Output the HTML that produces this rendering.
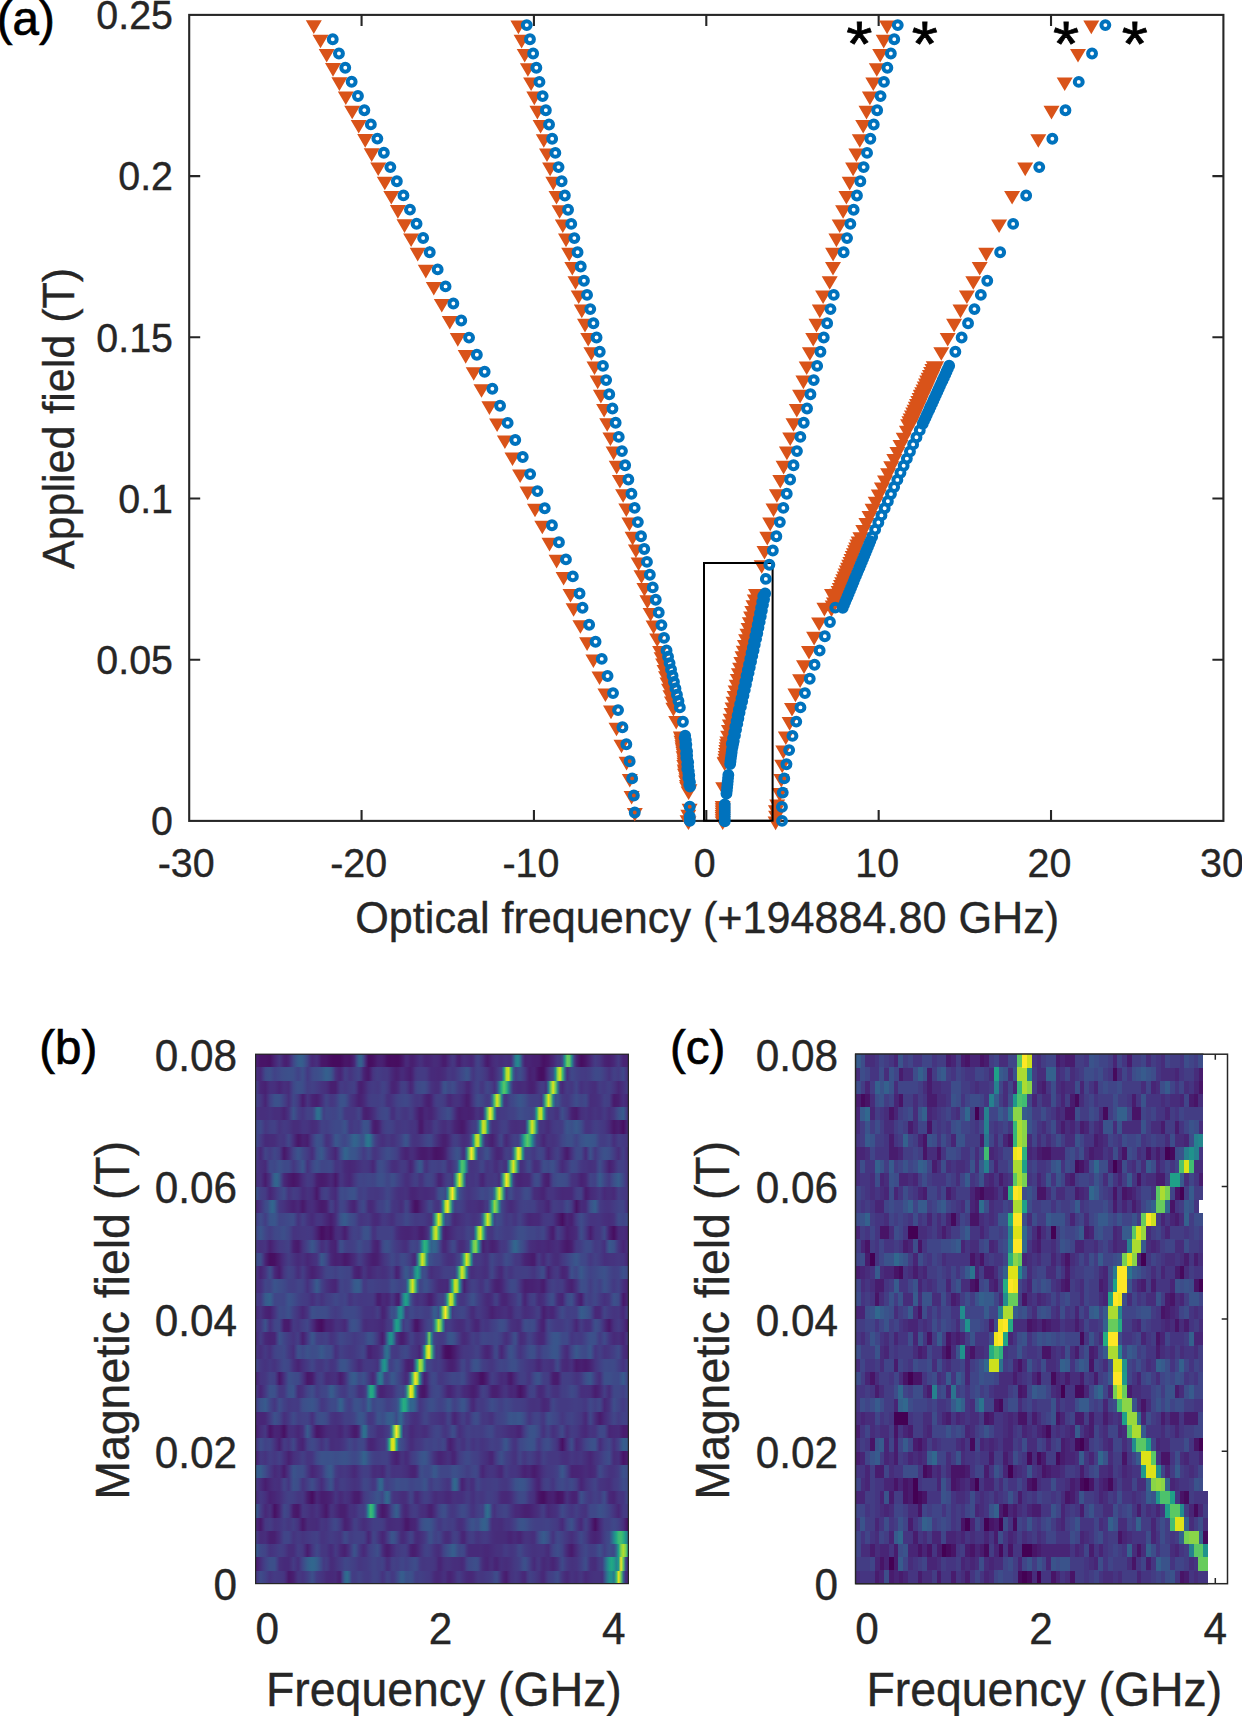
<!DOCTYPE html>
<html><head><meta charset="utf-8"><title>Figure</title>
<style>
html,body{margin:0;padding:0;background:#fff}
#fig{position:relative;width:1242px;height:1716px;overflow:hidden;background:#fff}
#fig svg{position:absolute;left:0;top:0}
.r{position:absolute;left:255.6px;width:372.8px}
</style></head><body>
<div id="fig">
<div class="r" style="top:1054.2px;height:13.54px;background:linear-gradient(90deg,#482173,#481b6d,#481467,#481467,#481467,#471365,#471164,#481b6d,#482576,#472e7c,#453781,#472d7b,#482173,#481f70,#482576,#453581,#404688,#3a538b,#365c8d,#355f8d,#365c8d,#3b518b,#414487,#46337f,#482878,#472c7a,#472f7d,#482576,#48186a,#481668,#481668,#471164,#470d60,#460b5e,#460b5e,#460b5e,#460b5e,#471063,#481668,#481668,#481467,#481b6d,#482677,#3f4788,#34618d,#34618d,#3e4989,#482878,#471063,#470e61,#471164,#48186a,#482071,#482173,#482071,#481a6c,#471063,#470d60,#470e61,#470e61,#470d60,#470e61,#481467,#481d6f,#482979,#482979,#482071,#481f70,#482475,#472a7a,#46307e,#472e7c,#482677,#482475,#482576,#482878,#472c7a,#472c7a,#482979,#482475,#481c6e,#481d6f,#482878,#46307e,#453781,#46337f,#482374,#481f70,#472a7a,#472f7d,#472d7b,#472a7a,#482677,#472d7b,#433d84,#414287,#443a83,#46307e,#482173,#481a6c,#482173,#482979,#472e7c,#46307e,#472d7b,#472d7b,#46307e,#46327e,#472f7d,#472f7d,#3c508b,#287d8e,#23898e,#2f6c8e,#443a83,#482374,#482475,#482475,#482173,#482071,#482071,#481f70,#481769,#471164,#481467,#48186a,#482071,#482677,#46307e,#443983,#453882,#3d4d8a,#1f958b,#67cc5c,#58c765,#23888e,#424186,#482475,#481769,#470d60,#471164,#481769,#482071,#482878,#46337f,#443b84,#453882,#463480,#472c7a,#482374,#482071,#481f70,#482374,#482878,#46327e,#443b84,#472f7d,#482475,#482374,#482173)"></div>
<div class="r" style="top:1067.44px;height:13.54px;background:linear-gradient(90deg,#472f7d,#472c7a,#482979,#443983,#3e4989,#3d4d8a,#3c4f8a,#3f4889,#414287,#404588,#3f4889,#3e4c8a,#3d4e8a,#3c4f8a,#3c508b,#3c4f8a,#3d4e8a,#3f4889,#414287,#3f4889,#3c4f8a,#404588,#443983,#423f85,#3f4889,#3e4c8a,#3d4d8a,#3c508b,#3a538b,#375a8c,#34608d,#365d8d,#38588c,#3f4788,#46327e,#482979,#482576,#472f7d,#433e85,#443b84,#463480,#453781,#433d84,#424086,#414487,#453882,#482576,#481c6e,#48186a,#482374,#463480,#443a83,#433d84,#443b84,#443983,#453882,#453882,#46327e,#472a7a,#482475,#482071,#482374,#472a7a,#472a7a,#482576,#482173,#481d6f,#482576,#463480,#443a83,#443b84,#443b84,#443b84,#453882,#472f7d,#472a7a,#472a7a,#482979,#482878,#482979,#472c7a,#472f7d,#453781,#453882,#453581,#453781,#433d84,#414287,#3f4889,#3d4d8a,#3a538b,#3c4f8a,#433e85,#453781,#423f85,#414287,#424086,#433d84,#453882,#46327e,#482878,#482576,#472c7a,#463480,#433e85,#3f4889,#1f998a,#aadc32,#d0e11c,#2eb37c,#355e8d,#424186,#3e4989,#3d4d8a,#414487,#443983,#482979,#481f70,#482374,#482475,#481a6c,#471164,#470e61,#471063,#482173,#46337f,#414287,#3d4d8a,#228d8d,#93d741,#dae319,#42be71,#30698e,#472f7d,#433e85,#3f4889,#404588,#424186,#423f85,#443b84,#443b84,#443a83,#433d84,#423f85,#404588,#3e4989,#3e4989,#3f4889,#414487,#433e85,#453882,#46327e,#443983,#424086,#433e85,#443b84,#424186,#3f4889,#443b84,#472f7d)"></div>
<div class="r" style="top:1080.68px;height:13.54px;background:linear-gradient(90deg,#423f85,#46337f,#482677,#482475,#482173,#482979,#46307e,#46307e,#472f7d,#472a7a,#482576,#472a7a,#472f7d,#472e7c,#472c7a,#443983,#3f4788,#3d4d8a,#3c508b,#3c4f8a,#3d4d8a,#404588,#433d84,#433e85,#424186,#423f85,#443b84,#453882,#463480,#46327e,#472f7d,#482878,#481f70,#481f70,#481f70,#472c7a,#443a83,#443b84,#453882,#443a83,#433d84,#433e85,#424086,#463480,#482173,#481f70,#482475,#472c7a,#453581,#443983,#443b84,#443a83,#453882,#443b84,#414287,#424186,#443b84,#46327e,#482576,#482374,#482677,#472f7d,#433d84,#423f85,#433d84,#46337f,#482677,#472d7b,#424086,#3f4889,#3e4a89,#3e4c8a,#3e4c8a,#404688,#443b84,#46337f,#472f7d,#472d7b,#472e7c,#443983,#3d4d8a,#3b528b,#3e4989,#3f4788,#3e4c8a,#3f4889,#433e85,#453882,#453781,#46327e,#482878,#482677,#46307e,#443983,#424186,#414287,#453882,#453781,#424186,#3f4788,#414287,#443b84,#46307e,#404588,#287c8e,#2ab07f,#58c765,#32b67a,#25838e,#3d4d8a,#46307e,#472d7b,#472a7a,#472a7a,#472c7a,#472c7a,#482677,#482173,#482071,#482374,#472d7b,#453781,#443b84,#443b84,#46307e,#29798e,#67cc5c,#e2e418,#6ccd5a,#297b8e,#46327e,#482979,#463480,#443b84,#443983,#453781,#423f85,#404588,#443983,#46307e,#463480,#453781,#463480,#46307e,#472e7c,#472d7b,#453581,#433d84,#443a83,#443983,#433d84,#423f85,#443a83,#463480,#472d7b,#482576,#472c7a,#46327e,#453781,#443b84)"></div>
<div class="r" style="top:1093.92px;height:13.54px;background:linear-gradient(90deg,#424186,#433d84,#453781,#472e7c,#482475,#46327e,#424086,#3f4889,#3b518b,#3b518b,#3c508b,#3e4989,#424086,#453882,#472e7c,#443a83,#3f4788,#414287,#443a83,#472c7a,#481c6e,#482677,#463480,#472e7c,#482475,#482173,#481f70,#482576,#472e7c,#443983,#414487,#423f85,#453781,#453882,#433d84,#404688,#3b518b,#3b528b,#3b518b,#3f4788,#443a83,#46337f,#472e7c,#482677,#482071,#482374,#482878,#46307e,#443a83,#433e85,#423f85,#423f85,#433e85,#424086,#414287,#433d84,#46327e,#46307e,#463480,#443a83,#424086,#414487,#404588,#3f4788,#3f4889,#404688,#424186,#443b84,#453781,#453581,#453781,#46327e,#482878,#482173,#481f70,#482677,#453581,#433e85,#423f85,#423f85,#433d84,#453781,#472c7a,#482878,#472e7c,#46327e,#46327e,#46307e,#472a7a,#482475,#481c6e,#481f70,#472d7b,#443a83,#404688,#3e4c8a,#3f4889,#414487,#433d84,#443a83,#433e85,#2d708e,#52c569,#dfe318,#81d34d,#25858e,#443983,#453581,#423f85,#404688,#3e4989,#3d4e8a,#3a538b,#39568c,#3b528b,#3d4e8a,#404688,#424086,#423f85,#423f85,#423f85,#433e85,#453581,#2c728e,#58c765,#dfe318,#7cd250,#26828e,#3c4f8a,#3b518b,#404588,#443a83,#453882,#453781,#443b84,#424186,#3f4889,#3d4d8a,#3f4889,#414487,#3f4788,#3e4989,#443a83,#472d7b,#472e7c,#472e7c,#46307e,#46337f,#443a83,#424186,#423f85,#433e85,#472c7a,#481a6c,#481c6e,#481f70,#482878,#46307e,#472a7a,#482475)"></div>
<div class="r" style="top:1107.16px;height:13.54px;background:linear-gradient(90deg,#453581,#46337f,#472f7d,#472f7d,#472f7d,#46307e,#46337f,#46307e,#472e7c,#472e7c,#472e7c,#482979,#482374,#472a7a,#46337f,#414487,#3a538b,#3e4a89,#433e85,#443983,#453581,#443b84,#424186,#424186,#424186,#3c508b,#2e6e8e,#2d718e,#38588c,#423f85,#3f4788,#3f4788,#404588,#414487,#404588,#3e4989,#3c4f8a,#3f4788,#443a83,#453882,#453882,#453882,#453882,#433d84,#414487,#453882,#482374,#481f70,#482173,#482677,#472d7b,#463480,#433e85,#414487,#3f4788,#3f4889,#3e4989,#424086,#46307e,#46307e,#443b84,#433e85,#443a83,#453781,#453581,#453882,#433e85,#443a83,#472f7d,#482576,#481c6e,#481d6f,#482677,#482878,#482475,#482576,#472c7a,#46337f,#443b84,#424186,#404588,#3f4889,#3d4e8a,#3e4a89,#433e85,#46307e,#482374,#481d6f,#482071,#482173,#482173,#482071,#482173,#482576,#472f7d,#46327e,#472a7a,#472e7c,#2a768e,#6ccd5a,#fde725,#95d840,#23888e,#443a83,#443a83,#443b84,#443b84,#433d84,#424086,#424186,#424186,#414487,#3e4a89,#3d4e8a,#3e4c8a,#3e4989,#3f4889,#3f4788,#414487,#3b528b,#21a585,#c0df25,#c2df23,#22a785,#3a538b,#443a83,#443a83,#443983,#46337f,#46327e,#414287,#3d4e8a,#404588,#433d84,#472e7c,#482173,#481d6f,#481b6d,#482677,#472f7d,#46327e,#463480,#46307e,#472e7c,#46327e,#463480,#46327e,#46307e,#453581,#443a83,#463480,#472e7c,#46337f,#453882,#414487,#3c4f8a,#39558c,#365c8d,#3f4788,#46307e)"></div>
<div class="r" style="top:1120.4px;height:13.54px;background:linear-gradient(90deg,#404588,#3f4788,#3e4989,#424086,#453781,#443a83,#423f85,#424086,#424186,#443a83,#46337f,#453781,#443a83,#443983,#453781,#46327e,#472d7b,#472d7b,#472d7b,#46307e,#453581,#453581,#463480,#46307e,#472c7a,#472d7b,#472f7d,#453882,#424186,#424186,#423f85,#424186,#404588,#3f4788,#3e4989,#3e4989,#3e4989,#3d4e8a,#3a538b,#3f4889,#443983,#453882,#433d84,#433d84,#443b84,#404588,#3b518b,#3b528b,#3c4f8a,#443b84,#482173,#481b6d,#481f70,#482979,#453882,#423f85,#414287,#414287,#424186,#433d84,#453781,#453781,#453882,#443983,#443a83,#453882,#453581,#463480,#453581,#472c7a,#481a6c,#481a6c,#482878,#472d7b,#472c7a,#46307e,#443a83,#433d84,#453781,#46327e,#472e7c,#472e7c,#463480,#46337f,#472c7a,#482475,#482071,#481c6e,#48186a,#481c6e,#482677,#46307e,#453882,#433d84,#423f85,#365d8d,#2cb17e,#d0e11c,#addc30,#1e9b8a,#3e4989,#46327e,#46327e,#46337f,#443983,#433e85,#424086,#423f85,#453781,#472f7d,#472e7c,#472d7b,#472e7c,#472f7d,#472f7d,#472e7c,#2c718e,#58c765,#dfe318,#7cd250,#26828e,#453781,#463480,#463480,#472e7c,#472c7a,#46337f,#443983,#443b84,#433d84,#443b84,#433e85,#3e4c8a,#39558c,#3b528b,#3c4f8a,#39558c,#38598c,#3a538b,#3d4d8a,#424086,#463480,#463480,#453581,#443b84,#423f85,#433e85,#443b84,#443983,#453781,#46307e,#482979,#481f70,#481668,#481b6d,#481f70,#481769,#470e61,#481d6f,#472c7a)"></div>
<div class="r" style="top:1133.64px;height:13.54px;background:linear-gradient(90deg,#3e4989,#414287,#443b84,#46337f,#472a7a,#472a7a,#472c7a,#472c7a,#472d7b,#46327e,#453781,#453781,#453581,#433e85,#3f4788,#443b84,#472e7c,#482173,#481668,#481a6c,#482173,#482071,#481d6f,#472c7a,#443a83,#3f4788,#3b518b,#3c508b,#3d4d8a,#424086,#46327e,#46337f,#443983,#3f4788,#39568c,#3a548c,#3d4e8a,#3e4989,#404688,#3e4c8a,#3a538b,#365d8d,#32658e,#33628d,#375b8d,#3b528b,#39558c,#2e6f8e,#2a788e,#2e6d8e,#3b528b,#424186,#453882,#46337f,#472f7d,#46327e,#453781,#453781,#46327e,#46337f,#453882,#433d84,#414287,#3e4c8a,#3a548c,#3d4e8a,#433d84,#463480,#46337f,#463480,#453781,#443b84,#424186,#404588,#3f4889,#404588,#443a83,#46327e,#472a7a,#482475,#481f70,#481f70,#482576,#472f7d,#443a83,#423f85,#433d84,#453781,#472f7d,#472d7b,#472f7d,#463480,#3e4c8a,#1f9e89,#b2dd2d,#cde11d,#28ae80,#375a8c,#46327e,#472c7a,#482374,#481f70,#482878,#46327e,#424186,#404588,#46327e,#482878,#46307e,#453882,#423f85,#424186,#433e85,#39568c,#23888e,#32b67a,#58c765,#38b977,#218e8d,#365c8d,#433d84,#453781,#472d7b,#482576,#472e7c,#463480,#46337f,#46327e,#463480,#453882,#423f85,#404688,#3e4a89,#3c4f8a,#3c4f8a,#3c4f8a,#3f4788,#414287,#3e4a89,#3b518b,#3a548c,#38588c,#38588c,#39568c,#39558c,#3a538b,#3f4889,#433e85,#433d84,#433d84,#424086,#414487,#443983,#472e7c,#453581,#433d84,#443b84,#443983,#453781,#463480)"></div>
<div class="r" style="top:1146.88px;height:13.54px;background:linear-gradient(90deg,#433d84,#46337f,#482878,#453581,#414487,#424086,#443b84,#424186,#3f4788,#414287,#433d84,#472a7a,#481769,#482071,#472a7a,#453781,#414487,#3e4c8a,#3a548c,#3c4f8a,#3f4788,#424186,#443b84,#463480,#472d7b,#443b84,#3d4e8a,#3a548c,#38598c,#3c508b,#414487,#443a83,#46337f,#472d7b,#482576,#463480,#3f4889,#39568c,#32648e,#34618d,#38588c,#39558c,#39558c,#3b518b,#3e4a89,#414487,#443b84,#424086,#3e4989,#414487,#453781,#463480,#453882,#433e85,#414487,#3f4889,#3d4d8a,#3e4c8a,#3f4889,#404588,#424186,#443983,#472e7c,#482878,#482374,#482576,#472d7b,#472d7b,#482878,#482173,#481c6e,#481a6c,#481a6c,#481c6e,#482071,#481d6f,#481668,#471365,#481467,#481668,#481a6c,#482374,#46327e,#433d84,#404688,#3d4d8a,#3a538b,#3d4e8a,#443983,#472f7d,#2b748e,#65cb5e,#fde725,#9bd93c,#238a8d,#423f85,#423f85,#414487,#3d4e8a,#3c508b,#414487,#453781,#472d7b,#482576,#482677,#472a7a,#453781,#423f85,#433e85,#443a83,#306a8e,#4cc26c,#f6e620,#b5de2b,#1f968b,#414487,#414287,#414287,#443b84,#443983,#424186,#404688,#404588,#424086,#46307e,#482677,#472f7d,#453781,#433d84,#424086,#453781,#472d7b,#482173,#481a6c,#482677,#46337f,#424086,#3e4989,#3e4a89,#3e4989,#453882,#472a7a,#424086,#3b528b,#414487,#453781,#424086,#3f4889,#3d4e8a,#3b528b,#3c508b,#3d4d8a,#404588,#433d84,#463480,#472d7b,#453781,#423f85,#453581,#472c7a)"></div>
<div class="r" style="top:1160.12px;height:13.54px;background:linear-gradient(90deg,#453781,#46337f,#472f7d,#472d7b,#482979,#443a83,#3e4989,#3e4989,#3f4788,#3e4c8a,#3b518b,#3d4e8a,#3e4989,#3e4989,#3e4989,#424086,#453781,#433d84,#404588,#3d4d8a,#39568c,#404688,#46327e,#443983,#404588,#3e4c8a,#3b518b,#3d4d8a,#404688,#404688,#3f4788,#3f4889,#3e4989,#424186,#453581,#453581,#453882,#46327e,#472a7a,#482878,#482677,#482878,#482979,#472d7b,#46307e,#463480,#453781,#453781,#453581,#472f7d,#482677,#46337f,#3f4788,#3d4d8a,#3e4c8a,#3f4788,#424086,#443983,#46307e,#472e7c,#472f7d,#463480,#443a83,#443a83,#453882,#472f7d,#482475,#472c7a,#423f85,#3d4e8a,#375a8c,#3b518b,#453882,#46327e,#433e85,#414287,#414287,#424186,#423f85,#424086,#404688,#424186,#46337f,#472f7d,#453781,#424086,#3d4e8a,#20928c,#50c46a,#38b977,#297b8e,#453882,#463480,#453581,#453781,#443a83,#414487,#404588,#443983,#463480,#443983,#453882,#472f7d,#472d7b,#453781,#443a83,#46337f,#46327e,#297b8e,#69cd5b,#e2e418,#69cd5b,#297a8e,#46307e,#46327e,#443a83,#404688,#3e4a89,#443a83,#472e7c,#472e7c,#46337f,#414287,#3d4e8a,#3e4c8a,#3e4989,#3d4e8a,#3c508b,#3f4788,#433e85,#46327e,#472a7a,#46307e,#453781,#424186,#3e4989,#3f4889,#404688,#433e85,#453882,#453581,#463480,#46327e,#46307e,#46327e,#46337f,#414287,#3d4e8a,#414287,#453781,#472c7a,#482071,#482576,#472c7a,#453781,#424086,#424086,#424086,#443a83,#46337f)"></div>
<div class="r" style="top:1173.36px;height:13.54px;background:linear-gradient(90deg,#46327e,#46327e,#46327e,#482677,#481b6d,#482878,#46337f,#3c4f8a,#33638d,#31668e,#38598c,#423f85,#482979,#482374,#481c6e,#48186a,#481467,#48186a,#481c6e,#482576,#472e7c,#463480,#443a83,#443983,#453781,#472d7b,#482071,#481c6e,#481b6d,#481c6e,#481f70,#482475,#482979,#482374,#48186a,#482475,#453581,#463480,#472d7b,#482979,#482677,#472d7b,#453781,#433e85,#404588,#404588,#414487,#404588,#3f4788,#404688,#414487,#3f4788,#3d4e8a,#3c508b,#3c508b,#3e4c8a,#404688,#3f4788,#3d4e8a,#3d4d8a,#404688,#424086,#443b84,#453581,#472f7d,#472f7d,#463480,#443a83,#423f85,#433d84,#46337f,#463480,#423f85,#404588,#404688,#414487,#433e85,#46337f,#482475,#482374,#472f7d,#443983,#423f85,#423f85,#453781,#2a768e,#60ca60,#e2e418,#73d056,#277e8e,#463480,#453781,#453581,#453581,#443983,#453581,#482878,#482475,#46307e,#453781,#453781,#453781,#443983,#453781,#472d7b,#2f6c8e,#52c569,#f8e621,#b0dd2f,#20928c,#424186,#472c7a,#482677,#482475,#482677,#482878,#482878,#472c7a,#443b84,#3f4889,#3e4c8a,#3e4989,#453781,#482677,#482071,#481f70,#463480,#404688,#3e4a89,#3d4e8a,#3d4e8a,#3d4d8a,#3e4c8a,#3e4989,#433e85,#46337f,#46327e,#46307e,#482979,#482173,#482475,#482878,#453781,#414487,#414287,#424186,#3c508b,#365c8d,#3b518b,#404688,#423f85,#443983,#404588,#3c4f8a,#39568c,#365d8d,#3b528b,#3f4889,#443b84,#472f7d)"></div>
<div class="r" style="top:1186.6px;height:13.54px;background:linear-gradient(90deg,#3b528b,#3e4989,#424086,#433e85,#443b84,#46307e,#482576,#472c7a,#46337f,#443b84,#414287,#3f4788,#3e4c8a,#424086,#46337f,#453781,#433d84,#443b84,#443983,#46327e,#472a7a,#472d7b,#46327e,#46307e,#472d7b,#482374,#481769,#482677,#443983,#423f85,#424186,#443b84,#46327e,#472e7c,#472a7a,#453882,#3e4989,#3e4c8a,#3e4989,#3e4c8a,#3c508b,#3b518b,#3b528b,#3e4a89,#423f85,#423f85,#414287,#424086,#443a83,#453882,#453882,#453781,#453781,#443983,#443b84,#424086,#404688,#414487,#433e85,#453882,#46337f,#46307e,#472f7d,#46307e,#46327e,#472e7c,#482677,#482475,#482576,#482878,#472c7a,#472c7a,#472a7a,#472a7a,#472c7a,#472e7c,#472f7d,#443a83,#3e4a89,#3b518b,#3c508b,#3e4a89,#23888e,#98d83e,#fde725,#69cd5b,#2b758e,#3d4e8a,#404588,#433d84,#453882,#453581,#453882,#443b84,#433e85,#414287,#3f4889,#3e4a89,#404688,#3f4788,#3d4e8a,#3d4e8a,#2a788e,#65cb5e,#e2e418,#6ece58,#287c8e,#453781,#404588,#3e4c8a,#424186,#443a83,#443b84,#433e85,#404688,#3e4c8a,#3e4c8a,#3f4889,#443983,#472d7b,#472c7a,#482979,#482576,#482475,#472d7b,#463480,#463480,#463480,#46307e,#472d7b,#472a7a,#482878,#482979,#482979,#482979,#472a7a,#453581,#433e85,#424186,#424186,#472d7b,#481b6d,#482173,#482979,#472d7b,#472f7d,#463480,#453882,#46307e,#482979,#472c7a,#472d7b,#472c7a,#482979,#46337f,#433e85,#443b84,#443983,#453781,#463480)"></div>
<div class="r" style="top:1199.84px;height:13.54px;background:linear-gradient(90deg,#482475,#472d7b,#463480,#423f85,#3e4989,#3d4e8a,#355e8d,#31678e,#355e8d,#3f4788,#453882,#453581,#46327e,#472d7b,#482878,#482475,#482173,#482576,#482979,#482173,#48186a,#482071,#472a7a,#472d7b,#472e7c,#482979,#482374,#481d6f,#481a6c,#481b6d,#481f70,#472f7d,#424186,#443b84,#472e7c,#453781,#404588,#404588,#424186,#453882,#472d7b,#482677,#482374,#472e7c,#433e85,#404588,#3e4989,#433e85,#472d7b,#482979,#472c7a,#463480,#433e85,#414287,#414287,#3f4788,#3d4e8a,#3f4889,#443a83,#453581,#453581,#46327e,#472d7b,#463480,#414487,#423f85,#472d7b,#481d6f,#471164,#471365,#481f70,#482979,#46327e,#443b84,#3f4788,#404688,#443a83,#463480,#463480,#414287,#1f948c,#b2dd2d,#f6e620,#4ec36b,#2f6b8e,#423f85,#414287,#414287,#423f85,#443a83,#46337f,#472f7d,#46307e,#46307e,#472f7d,#472d7b,#472a7a,#472d7b,#453781,#443983,#34618d,#28ae80,#95d840,#56c667,#277e8e,#404688,#433d84,#463480,#472e7c,#472a7a,#472e7c,#46337f,#443983,#423f85,#424186,#414287,#424186,#424086,#424186,#424086,#453882,#46327e,#46327e,#472f7d,#482878,#482576,#46337f,#433d84,#433d84,#443b84,#443983,#443983,#414287,#3e4a89,#414487,#443a83,#482576,#471365,#482071,#472c7a,#472a7a,#472c7a,#423f85,#3c508b,#38588c,#355e8d,#3d4d8a,#443b84,#453882,#453581,#463480,#463480,#453882,#443b84,#423f85,#414287,#414487,#414487,#443983,#472d7b)"></div>
<div class="r" style="top:1213.08px;height:13.54px;background:linear-gradient(90deg,#433d84,#404588,#3e4c8a,#404588,#433d84,#3f4889,#3a548c,#39558c,#39568c,#3d4e8a,#414487,#404588,#404688,#3f4889,#3e4a89,#3e4c8a,#3e4c8a,#424086,#46327e,#453882,#424186,#443b84,#46337f,#472e7c,#472a7a,#472f7d,#453581,#453581,#463480,#472e7c,#482878,#482374,#481d6f,#482475,#472d7b,#433e85,#3c508b,#38588c,#365c8d,#39568c,#3c4f8a,#3e4c8a,#3e4989,#424186,#453781,#463480,#453781,#453882,#443a83,#463480,#472c7a,#482979,#472a7a,#46307e,#453882,#443983,#453781,#46337f,#472f7d,#46337f,#443b84,#433e85,#433e85,#414287,#3f4889,#3f4788,#424186,#433e85,#443a83,#443a83,#443b84,#443b84,#443983,#453581,#46327e,#46327e,#2f6c8e,#48c16e,#dde318,#8bd646,#23898e,#3e4c8a,#3e4c8a,#414287,#472f7d,#482878,#472c7a,#472f7d,#46337f,#453581,#443983,#443983,#453581,#46337f,#463480,#453882,#424086,#2d718e,#54c568,#dfe318,#81d34d,#25848e,#414287,#3e4c8a,#3e4a89,#404688,#433d84,#453882,#443b84,#433d84,#453781,#453581,#433e85,#424186,#443983,#46327e,#472a7a,#482677,#482878,#482979,#482979,#472a7a,#46327e,#453882,#443983,#443a83,#443983,#453581,#472a7a,#482071,#481668,#470e61,#481b6d,#482576,#482173,#482071,#472e7c,#443b84,#404588,#3e4c8a,#404688,#423f85,#443983,#463480,#463480,#463480,#453581,#453581,#46327e,#472f7d,#472e7c,#472d7b,#472f7d,#46327e,#423f85,#3e4a89,#3f4889,#404588,#3f4788,#3e4989)"></div>
<div class="r" style="top:1226.32px;height:13.54px;background:linear-gradient(90deg,#404688,#3d4e8a,#39558c,#3d4e8a,#404688,#424186,#433d84,#424186,#3f4788,#3f4889,#3e4989,#3d4d8a,#3c4f8a,#3e4a89,#404688,#433e85,#463480,#463480,#453581,#453781,#453882,#453882,#443983,#453882,#453581,#472d7b,#482374,#48186a,#470e61,#471164,#48186a,#481769,#471164,#481c6e,#472a7a,#472e7c,#472e7c,#482677,#481d6f,#482878,#453781,#433e85,#414287,#424186,#423f85,#404688,#3c508b,#3b528b,#3b518b,#404588,#46337f,#463480,#423f85,#424186,#424186,#424186,#424186,#424186,#414287,#443b84,#46307e,#472a7a,#482677,#482576,#482475,#482475,#482576,#482878,#472a7a,#482677,#481f70,#481d6f,#482374,#472c7a,#433d84,#238a8d,#8ed645,#dde318,#48c16e,#2f6b8e,#482878,#482071,#482475,#482979,#472e7c,#46337f,#453781,#453882,#453781,#443a83,#424186,#414487,#423f85,#424186,#21908d,#98d83e,#dae319,#3dbc74,#31668e,#443b84,#453781,#453781,#424086,#404588,#414287,#424186,#433e85,#433d84,#433d84,#433e85,#414287,#3f4788,#3e4c8a,#3d4e8a,#3d4e8a,#3e4c8a,#3f4889,#404688,#404688,#404688,#414287,#424186,#404588,#404688,#443a83,#472e7c,#482173,#481c6e,#472f7d,#433e85,#443983,#46327e,#482878,#481f70,#482374,#482576,#482878,#472d7b,#423f85,#3d4d8a,#414487,#443983,#472a7a,#481d6f,#482979,#46337f,#453581,#453781,#424186,#3e4989,#453581,#482173,#481769,#470d60,#481c6e,#472a7a,#472c7a,#472d7b,#482979,#482475)"></div>
<div class="r" style="top:1239.56px;height:13.54px;background:linear-gradient(90deg,#453781,#463480,#46327e,#46337f,#463480,#472a7a,#482071,#482677,#472e7c,#463480,#443a83,#443b84,#433d84,#423f85,#424086,#46327e,#482173,#481c6e,#481a6c,#482576,#46337f,#443b84,#414487,#3d4d8a,#39568c,#3c4f8a,#404588,#443a83,#472f7d,#46327e,#443983,#46307e,#482576,#482374,#482173,#453581,#3d4d8a,#3e4c8a,#414287,#423f85,#433e85,#423f85,#424186,#404688,#3d4d8a,#3e4a89,#414487,#414287,#414287,#443983,#482979,#482374,#482173,#46307e,#404588,#3d4e8a,#3b518b,#3d4d8a,#404688,#424086,#443b84,#453882,#463480,#46307e,#472e7c,#453581,#414287,#404688,#414487,#424186,#3a538b,#228c8d,#2eb37c,#24aa83,#297a8e,#34608d,#31678e,#33628d,#3b518b,#443b84,#482878,#482878,#46337f,#433e85,#3f4889,#404688,#453581,#472c7a,#472c7a,#472f7d,#443983,#424086,#238a8d,#69cd5b,#8bd646,#20a386,#39558c,#481f70,#482878,#472c7a,#482475,#482071,#482374,#482878,#46337f,#443983,#453882,#443b84,#3f4788,#3a538b,#34618d,#31678e,#365d8d,#3b528b,#3e4c8a,#414487,#443983,#472f7d,#472d7b,#472c7a,#482979,#482878,#472a7a,#472a7a,#482878,#482576,#482878,#472a7a,#472d7b,#472e7c,#482878,#482173,#481c6e,#48186a,#481b6d,#482071,#472e7c,#443983,#443b84,#423f85,#404588,#3e4a89,#3e4a89,#3e4989,#424186,#443a83,#443b84,#433d84,#453581,#46307e,#404688,#38598c,#3a548c,#3b518b,#414287,#463480,#472d7b,#482576,#472a7a,#472f7d)"></div>
<div class="r" style="top:1252.8px;height:13.54px;background:linear-gradient(90deg,#3e4989,#3d4d8a,#3c4f8a,#443a83,#482475,#48186a,#470d60,#470e61,#471063,#48186a,#481f70,#482878,#46307e,#453781,#433d84,#453882,#46337f,#472e7c,#472a7a,#472d7b,#46307e,#472c7a,#482677,#482979,#472d7b,#46307e,#46337f,#404588,#38588c,#3b528b,#3f4889,#443983,#482979,#482374,#482071,#482173,#482374,#481f70,#48186a,#481b6d,#482071,#482677,#472c7a,#463480,#433e85,#443b84,#463480,#472d7b,#482677,#482173,#481d6f,#481d6f,#482071,#482878,#46307e,#453781,#443b84,#424186,#3f4889,#404688,#423f85,#424186,#3e4989,#3e4a89,#3f4788,#424186,#443a83,#472e7c,#482878,#2f6b8e,#48c16e,#dde318,#8ed645,#238a8d,#3c508b,#3c4f8a,#3e4989,#404688,#404588,#424186,#443983,#463480,#46307e,#472f7d,#46307e,#453581,#423f85,#414487,#306a8e,#44bf70,#dde318,#90d743,#228c8d,#433e85,#453882,#443a83,#453882,#463480,#472f7d,#46337f,#424186,#3f4788,#424186,#433d84,#443a83,#433d84,#404688,#3e4c8a,#3e4989,#404588,#433e85,#453882,#453882,#453581,#472c7a,#482475,#482173,#481f70,#481b6d,#481c6e,#472f7d,#443a83,#472f7d,#482979,#463480,#443b84,#463480,#472e7c,#472c7a,#472c7a,#46327e,#453882,#433d84,#414287,#3f4889,#3d4d8a,#3a538b,#39568c,#3c508b,#3e4989,#3f4889,#404688,#433e85,#453882,#433d84,#424186,#433e85,#443a83,#453581,#472f7d,#46307e,#46327e,#46337f,#46337f,#453581,#453781,#453581,#453581,#472e7c,#482576)"></div>
<div class="r" style="top:1266.04px;height:13.54px;background:linear-gradient(90deg,#463480,#472c7a,#482374,#472c7a,#463480,#414287,#3c4f8a,#433e85,#482979,#482173,#481b6d,#482878,#453781,#433e85,#414487,#424186,#433e85,#453581,#472d7b,#463480,#433e85,#453581,#472c7a,#482576,#482071,#482374,#482878,#472e7c,#463480,#433d84,#414487,#404588,#404588,#414487,#424086,#414487,#3f4889,#3f4788,#404588,#414487,#414487,#453882,#482677,#482173,#481f70,#482878,#453581,#46327e,#482878,#482878,#472d7b,#472f7d,#46337f,#46327e,#472f7d,#46307e,#46337f,#443983,#423f85,#453581,#482173,#482677,#433d84,#3e4c8a,#38588c,#3a548c,#3f4788,#39568c,#228d8d,#20a486,#25858e,#3d4d8a,#3d4e8a,#404688,#463480,#472e7c,#46327e,#463480,#453581,#443983,#433e85,#424086,#424086,#424086,#424186,#423f85,#2e6d8e,#4cc26c,#dde318,#89d548,#24878e,#443b84,#472e7c,#472f7d,#46337f,#463480,#46337f,#46307e,#472e7c,#46327e,#424086,#404688,#443b84,#46327e,#472a7a,#482979,#453781,#433e85,#453882,#453581,#443a83,#433e85,#433e85,#433e85,#423f85,#423f85,#433e85,#443b84,#453781,#453581,#433d84,#414287,#3e4a89,#3e4a89,#46337f,#482173,#472c7a,#463480,#453882,#443983,#472d7b,#482475,#482576,#472a7a,#424086,#3c508b,#3e4989,#404688,#3c508b,#38598c,#3b528b,#3e4c8a,#3f4788,#414287,#404588,#3f4788,#3e4a89,#3d4d8a,#3c4f8a,#3b518b,#3e4c8a,#404688,#414287,#423f85,#424086,#414287,#3e4989,#3c508b,#3e4c8a,#3f4788)"></div>
<div class="r" style="top:1279.28px;height:13.54px;background:linear-gradient(90deg,#472f7d,#472f7d,#46307e,#443a83,#404588,#414487,#414487,#3e4c8a,#3a548c,#3b518b,#3d4e8a,#3e4c8a,#3e4989,#404588,#424086,#423f85,#433e85,#424086,#414487,#414487,#414287,#443a83,#46307e,#443983,#414287,#3c4f8a,#375b8d,#3b518b,#414287,#443a83,#46337f,#472e7c,#482979,#482677,#482576,#46327e,#414287,#414487,#424086,#424186,#414487,#3d4d8a,#38598c,#365c8d,#365d8d,#3c508b,#443b84,#443a83,#424186,#414287,#414287,#424086,#423f85,#433e85,#433d84,#433d84,#433d84,#414287,#3e4c8a,#3e4c8a,#3f4889,#404588,#414287,#404588,#3e4a89,#25848e,#81d34d,#dfe318,#52c569,#2d708e,#414487,#3f4889,#3c508b,#3c508b,#3f4889,#424186,#443983,#46327e,#472c7a,#482979,#472a7a,#472a7a,#482878,#365c8d,#2ab07f,#cde11d,#b0dd2f,#1e9c89,#3e4a89,#481f70,#472d7b,#453781,#423f85,#424186,#433e85,#443983,#46337f,#453581,#424086,#414287,#453781,#472d7b,#482475,#482071,#482173,#482677,#46307e,#443a83,#414287,#3e4989,#3e4989,#3f4788,#433e85,#46337f,#482878,#481f70,#482071,#482173,#482173,#482374,#482576,#482677,#481f70,#481c6e,#472a7a,#453781,#433d84,#424186,#433e85,#443b84,#433d84,#443b84,#46327e,#482878,#482374,#482071,#482979,#46337f,#424186,#3d4e8a,#3d4d8a,#3e4c8a,#414487,#433d84,#414487,#3e4989,#404588,#424086,#3e4989,#3b518b,#3e4c8a,#404688,#423f85,#443983,#433e85,#414287,#443983,#472f7d,#482979,#482475)"></div>
<div class="r" style="top:1292.52px;height:13.54px;background:linear-gradient(90deg,#443a83,#443983,#453882,#3e4989,#375a8c,#355e8d,#33628d,#3a548c,#404688,#404688,#404688,#404688,#404588,#3d4d8a,#3a548c,#3b518b,#3d4d8a,#3f4889,#414287,#423f85,#433d84,#443b84,#443a83,#453581,#472f7d,#463480,#443b84,#443983,#46337f,#453781,#433d84,#423f85,#424086,#414487,#3f4889,#404688,#414287,#414287,#404588,#433e85,#463480,#453781,#433d84,#443b84,#443983,#453882,#443983,#443983,#443a83,#443a83,#443a83,#472f7d,#481d6f,#481d6f,#482878,#482878,#482475,#472a7a,#453781,#46307e,#482071,#481c6e,#3e4c8a,#25848e,#20a386,#218e8d,#38588c,#424086,#463480,#46307e,#463480,#46337f,#472e7c,#482878,#481f70,#482173,#472c7a,#453581,#423f85,#424186,#424086,#355f8d,#31b57b,#d2e21b,#a8db34,#1f978b,#3f4788,#453781,#453581,#453781,#433e85,#404688,#3d4e8a,#3c508b,#3f4788,#423f85,#443983,#46337f,#472d7b,#482979,#472a7a,#46307e,#433d84,#423f85,#46307e,#482677,#482475,#482576,#472d7b,#46327e,#453781,#443b84,#404588,#404688,#472f7d,#482374,#46307e,#443b84,#423f85,#424086,#46337f,#472a7a,#472d7b,#46307e,#443b84,#404588,#3e4c8a,#3d4d8a,#443b84,#472c7a,#482677,#482576,#443983,#3e4989,#3d4e8a,#3c508b,#424086,#46307e,#482475,#481d6f,#46337f,#404588,#424186,#423f85,#414487,#3f4788,#424186,#443a83,#453581,#46307e,#46337f,#453781,#404588,#3b518b,#3d4e8a,#3e4a89,#46327e,#48186a,#482071,#482878)"></div>
<div class="r" style="top:1305.76px;height:13.54px;background:linear-gradient(90deg,#472a7a,#472f7d,#463480,#472c7a,#482475,#482173,#482071,#472a7a,#463480,#424086,#3e4a89,#3e4a89,#3f4889,#3d4d8a,#3b518b,#3e4989,#424086,#443a83,#463480,#472d7b,#482677,#472d7b,#463480,#414287,#3c508b,#3c4f8a,#3e4c8a,#3e4c8a,#3d4d8a,#3e4c8a,#3e4c8a,#3f4788,#424186,#433e85,#443b84,#433e85,#424086,#404588,#3e4989,#3e4989,#3e4989,#3e4989,#3e4989,#404688,#414287,#433d84,#453781,#453581,#453581,#453581,#463480,#453882,#433e85,#463480,#482374,#482576,#46327e,#424186,#3b518b,#3d4d8a,#375b8d,#238a8d,#1f958b,#2c718e,#443b84,#423f85,#3f4889,#3f4889,#414287,#424186,#414487,#414287,#423f85,#433e85,#423f85,#3e4a89,#365c8d,#365c8d,#3e4c8a,#25838e,#8bd646,#fde725,#75d054,#297a8e,#443a83,#424086,#414287,#404588,#3f4788,#404588,#433e85,#453781,#472d7b,#472c7a,#453581,#443a83,#453882,#463480,#46307e,#472c7a,#482475,#482071,#482576,#482979,#472a7a,#472d7b,#472f7d,#472f7d,#482979,#482878,#46327e,#443983,#443b84,#443a83,#46327e,#472d7b,#472e7c,#46307e,#46337f,#453781,#433d84,#433d84,#472a7a,#481d6f,#482576,#472a7a,#482677,#482677,#46307e,#443a83,#414487,#3e4a89,#414487,#433e85,#423f85,#424086,#423f85,#424086,#3c508b,#365c8d,#375a8c,#39568c,#3b518b,#3e4a89,#443983,#482878,#482878,#482979,#453882,#414487,#433e85,#443983,#453781,#463480,#453581,#453781,#472f7d,#482979,#463480,#433e85)"></div>
<div class="r" style="top:1319px;height:13.54px;background:linear-gradient(90deg,#46337f,#453581,#453882,#404588,#3b528b,#424186,#472f7d,#443983,#414487,#404688,#3f4788,#46337f,#481c6e,#481b6d,#481b6d,#472a7a,#443983,#453882,#453581,#443a83,#423f85,#414287,#404688,#443b84,#472f7d,#482374,#481668,#471063,#470d60,#481668,#482173,#482374,#482374,#482878,#46307e,#46327e,#46307e,#472d7b,#482878,#453581,#3e4989,#3c508b,#3b518b,#3d4e8a,#3f4889,#433d84,#472f7d,#472c7a,#472e7c,#472f7d,#472f7d,#472e7c,#472d7b,#472a7a,#482878,#472d7b,#453781,#443a83,#433e85,#2a778e,#1fa188,#1f988b,#31668e,#443b84,#404588,#414487,#443a83,#472a7a,#481668,#481467,#482173,#472d7b,#453882,#424086,#404688,#404588,#31678e,#37b878,#bade28,#6ece58,#25838e,#443983,#443b84,#443b84,#453581,#46307e,#472d7b,#472c7a,#472d7b,#46307e,#443983,#443a83,#46327e,#472a7a,#482475,#482677,#46337f,#443983,#453581,#453581,#443a83,#423f85,#414287,#404688,#3e4c8a,#3d4e8a,#3e4c8a,#404688,#443a83,#46327e,#472f7d,#472e7c,#472c7a,#472f7d,#424186,#3d4d8a,#3e4c8a,#3e4a89,#3e4c8a,#3e4989,#443b84,#472e7c,#482475,#482173,#453781,#404688,#414287,#433e85,#443b84,#443a83,#443a83,#443b84,#423f85,#414287,#433e85,#443983,#472e7c,#482576,#46327e,#433d84,#453581,#472f7d,#46307e,#46337f,#414287,#3c4f8a,#3e4c8a,#404688,#443983,#472c7a,#482071,#481769,#482576,#46327e,#453781,#443b84,#453581,#472e7c,#482576,#481b6d)"></div>
<div class="r" style="top:1332.24px;height:13.54px;background:linear-gradient(90deg,#472a7a,#46337f,#433d84,#46337f,#482878,#482576,#482374,#482475,#482576,#433d84,#3b528b,#3d4d8a,#404588,#424086,#443b84,#453882,#463480,#443983,#433e85,#472f7d,#481f70,#472a7a,#443983,#3f4889,#39568c,#3d4e8a,#424086,#433e85,#433d84,#423f85,#424186,#443b84,#46337f,#453581,#443a83,#424186,#3f4889,#3f4788,#414487,#424186,#424086,#433d84,#443983,#443b84,#433e85,#424086,#414287,#3e4989,#3b518b,#3b518b,#3d4d8a,#414287,#453781,#482979,#481c6e,#472e7c,#33638d,#218f8d,#20928c,#2f6b8e,#453581,#482677,#481c6e,#481f70,#482878,#46337f,#424086,#424086,#453581,#46327e,#463480,#443983,#424086,#2e6d8e,#75d054,#25838e,#404588,#423f85,#443b84,#443a83,#443b84,#414287,#3c508b,#39568c,#3a548c,#3d4e8a,#414287,#453882,#472d7b,#482979,#472d7b,#46337f,#443b84,#423f85,#443a83,#443a83,#414287,#3f4788,#404688,#404588,#414487,#414487,#404688,#404688,#414287,#433d84,#46337f,#472e7c,#463480,#433d84,#3e4a89,#3d4e8a,#443a83,#472c7a,#472d7b,#46327e,#433d84,#414287,#433d84,#453581,#472e7c,#482878,#482878,#472a7a,#443983,#404688,#3d4e8a,#3a548c,#39558c,#39558c,#3c4f8a,#3e4989,#3e4989,#3e4989,#433e85,#453581,#443983,#443b84,#443a83,#443983,#423f85,#404588,#3e4c8a,#3b518b,#3c508b,#3c4f8a,#414487,#443a83,#414287,#3e4a89,#424086,#453581,#472f7d,#482979,#472c7a,#472e7c,#482979,#482475,#472e7c,#453882)"></div>
<div class="r" style="top:1345.48px;height:13.54px;background:linear-gradient(90deg,#453581,#46327e,#472e7c,#463480,#443983,#463480,#472f7d,#443983,#414287,#404588,#404688,#3f4788,#3e4989,#424186,#443983,#463480,#472e7c,#423f85,#3c508b,#3d4d8a,#3f4889,#3d4d8a,#3b528b,#3c4f8a,#3e4c8a,#3d4d8a,#3d4e8a,#3a538b,#38598c,#3a548c,#3d4e8a,#3d4d8a,#3e4c8a,#424086,#46307e,#453581,#424086,#423f85,#443b84,#443983,#453781,#453882,#443983,#433d84,#424086,#414487,#404688,#443983,#482374,#482173,#482878,#472a7a,#472d7b,#463480,#433e85,#32648e,#2c738e,#355f8d,#443b84,#443a83,#443983,#433d84,#414487,#3f4788,#3e4989,#404588,#443b84,#453581,#46337f,#472e7c,#482576,#414487,#1f968b,#b5de2b,#f6e620,#4cc26c,#30698e,#453781,#443a83,#46327e,#481d6f,#471063,#470d60,#470e61,#481668,#481d6f,#482677,#472e7c,#463480,#453882,#453882,#443983,#443a83,#433d84,#424186,#424086,#453781,#472e7c,#482677,#482475,#482979,#463480,#404588,#3f4889,#46327e,#482677,#46327e,#433e85,#3e4c8a,#3b528b,#3d4d8a,#404588,#443a83,#463480,#443a83,#424086,#3f4889,#3d4e8a,#3c4f8a,#3d4d8a,#424186,#443a83,#414287,#3f4889,#3e4989,#3e4c8a,#3b518b,#39558c,#39558c,#3a538b,#404588,#453882,#472f7d,#472a7a,#443983,#404688,#3c508b,#38588c,#3b528b,#3e4c8a,#3e4a89,#3e4989,#3b518b,#39568c,#404688,#453581,#443a83,#423f85,#443983,#46337f,#463480,#453781,#443b84,#423f85,#404588,#3e4a89,#433d84,#472e7c,#472a7a,#482677)"></div>
<div class="r" style="top:1358.72px;height:13.54px;background:linear-gradient(90deg,#404588,#433e85,#453882,#453581,#46337f,#453581,#443983,#453581,#46337f,#453882,#433e85,#404588,#3e4a89,#3f4889,#404688,#443b84,#46307e,#482979,#482374,#482979,#46307e,#453581,#443a83,#424086,#404688,#424086,#453882,#453781,#453781,#443b84,#424086,#443b84,#463480,#453581,#443983,#414487,#3b518b,#3a538b,#3a538b,#3d4e8a,#404688,#423f85,#453882,#46327e,#472a7a,#472e7c,#453781,#443983,#443983,#443983,#453882,#453581,#46327e,#3a538b,#25858e,#1f978b,#2a788e,#414287,#424186,#3f4889,#3c4f8a,#3e4c8a,#414287,#453581,#482576,#481f70,#482071,#482173,#355f8d,#2ab07f,#b2dd2d,#81d34d,#228c8d,#404588,#404588,#424186,#443b84,#443a83,#433d84,#443a83,#46337f,#472c7a,#482475,#482071,#482071,#482475,#472d7b,#453781,#414487,#404588,#443a83,#443983,#3f4788,#3c508b,#3a538b,#3c508b,#3f4788,#423f85,#433d84,#443a83,#453781,#453781,#443b84,#424086,#414487,#404688,#414487,#404588,#3e4a89,#3d4e8a,#3c4f8a,#3d4e8a,#3f4788,#424186,#423f85,#443b84,#453882,#453581,#453581,#46327e,#472a7a,#482677,#472e7c,#453581,#463480,#46337f,#46307e,#46327e,#424186,#3e4a89,#443a83,#472c7a,#482979,#482878,#472e7c,#46307e,#482475,#481a6c,#481d6f,#482071,#481d6f,#481b6d,#481f70,#482475,#472c7a,#463480,#443a83,#424086,#404588,#3e4a89,#3e4a89,#3e4989,#3e4a89,#3e4a89,#404588,#423f85,#443983,#46337f,#443983,#423f85)"></div>
<div class="r" style="top:1371.96px;height:13.54px;background:linear-gradient(90deg,#482475,#472c7a,#463480,#453581,#453781,#433d84,#414487,#414287,#424186,#472d7b,#481668,#482173,#46307e,#424086,#3c508b,#3c4f8a,#3e4c8a,#3e4a89,#3e4a89,#424086,#463480,#482677,#481769,#48186a,#481b6d,#482979,#443983,#433e85,#424086,#453882,#472d7b,#472c7a,#472e7c,#472f7d,#46307e,#482878,#481c6e,#482374,#472e7c,#423f85,#3b518b,#38598c,#365c8d,#39558c,#3e4a89,#3e4c8a,#3b518b,#3e4989,#433d84,#46327e,#482878,#453882,#32658e,#277e8e,#2e6f8e,#404588,#414287,#3e4a89,#38588c,#39568c,#3d4d8a,#404588,#433d84,#46337f,#472a7a,#46327e,#2f6b8e,#4ec36b,#f6e620,#b2dd2d,#1f948c,#414287,#482173,#482878,#443b84,#404688,#3e4989,#404588,#443a83,#453781,#443983,#433d84,#424086,#414487,#3f4788,#3f4788,#404588,#404688,#3e4c8a,#3e4989,#433d84,#46337f,#472c7a,#482677,#482173,#481c6e,#471164,#471063,#481a6c,#482576,#453581,#433e85,#443a83,#453581,#472e7c,#472a7a,#472d7b,#472a7a,#481d6f,#48186a,#482475,#472e7c,#453882,#423f85,#423f85,#433e85,#453781,#463480,#424086,#3e4a89,#3b518b,#3b528b,#3f4788,#433e85,#433e85,#443b84,#472c7a,#481d6f,#481b6d,#481c6e,#472e7c,#433e85,#433e85,#423f85,#433e85,#443b84,#453781,#46337f,#453581,#443a83,#404588,#3d4e8a,#3a538b,#39568c,#3e4989,#443b84,#46337f,#472d7b,#423f85,#3c4f8a,#3c4f8a,#3c4f8a,#3d4d8a,#3e4a89,#3e4a89,#3e4989,#3b528b,#375b8d,#3c508b,#414487)"></div>
<div class="r" style="top:1385.2px;height:13.54px;background:linear-gradient(90deg,#453882,#472e7c,#482576,#472f7d,#443983,#404688,#3b528b,#3b518b,#3c508b,#414487,#453781,#453781,#453882,#404588,#3b528b,#3a538b,#3a548c,#414287,#472d7b,#472e7c,#46327e,#443b84,#414487,#3e4989,#3d4e8a,#404688,#443b84,#423f85,#414487,#404588,#404688,#3c508b,#365d8d,#38598c,#3d4e8a,#404688,#433e85,#443b84,#443a83,#424186,#3e4a89,#3e4989,#404688,#433d84,#46327e,#46307e,#463480,#424086,#277e8e,#25ac82,#21a585,#2d708e,#463480,#482374,#482374,#482677,#472c7a,#472e7c,#46307e,#453882,#414287,#3f4889,#3e4a89,#404688,#32648e,#3fbc73,#f1e51d,#c2df23,#1e9c89,#3f4889,#481f70,#481668,#481668,#482173,#453781,#414287,#3f4788,#3f4889,#3f4889,#414287,#443983,#472f7d,#482576,#482475,#472a7a,#46307e,#453882,#453882,#46307e,#472a7a,#482878,#482475,#481f70,#481d6f,#482173,#472a7a,#443983,#424186,#433e85,#453882,#472a7a,#482071,#481f70,#482071,#482677,#472d7b,#46337f,#463480,#472c7a,#482677,#482878,#482576,#481a6c,#471365,#481b6d,#482475,#463480,#424086,#414287,#424186,#46337f,#482979,#472a7a,#472e7c,#443983,#423f85,#443983,#46337f,#46327e,#46327e,#443983,#433e85,#423f85,#424186,#404688,#3e4a89,#3f4788,#414287,#453882,#472f7d,#472f7d,#46307e,#472f7d,#472e7c,#482576,#481d6f,#482173,#482878,#46337f,#433e85,#463480,#472c7a,#443a83,#3f4788,#3f4788,#3f4788,#414487,#424186,#404688,#3e4a89)"></div>
<div class="r" style="top:1398.44px;height:13.54px;background:linear-gradient(90deg,#433d84,#3f4889,#3a538b,#39568c,#375b8d,#3b518b,#404688,#433e85,#453781,#424186,#3d4e8a,#3f4889,#424086,#433d84,#453882,#443a83,#443b84,#443b84,#443a83,#414487,#3d4e8a,#3c508b,#3b528b,#3a538b,#39558c,#3b518b,#3e4c8a,#414287,#453882,#443983,#433e85,#414487,#3e4989,#3e4a89,#3e4989,#3a548c,#33638d,#375b8d,#3e4a89,#414287,#433e85,#404588,#3c508b,#3b528b,#3b518b,#3e4c8a,#404588,#3e4c8a,#33638d,#375a8c,#3f4788,#3e4a89,#3d4e8a,#3d4e8a,#3e4c8a,#3f4788,#424086,#424086,#414487,#3f4889,#3e4c8a,#355e8d,#218e8d,#27ad81,#23a983,#26828e,#32648e,#31668e,#365d8d,#3e4989,#453781,#443b84,#424186,#3f4788,#3d4d8a,#3c4f8a,#3d4d8a,#3f4889,#414487,#414287,#404588,#3e4a89,#3a538b,#3b528b,#404688,#424186,#404688,#3d4d8a,#3a548c,#3a548c,#3e4989,#433d84,#472d7b,#482878,#463480,#443b84,#443a83,#443a83,#433e85,#414287,#3e4989,#3d4d8a,#3e4989,#404688,#424186,#424086,#404588,#3f4889,#404688,#414487,#424086,#433e85,#433e85,#433e85,#433d84,#443b84,#453781,#46337f,#46327e,#46327e,#46337f,#46337f,#472c7a,#482677,#482878,#472c7a,#433d84,#3f4788,#424186,#433d84,#443a83,#443a83,#443a83,#443a83,#443b84,#433d84,#433e85,#433e85,#433d84,#433d84,#443983,#453882,#424186,#3f4889,#414487,#423f85,#414487,#3f4788,#453781,#482677,#472c7a,#46327e,#424086,#3d4e8a,#3f4889,#414487,#423f85,#443b84,#423f85,#414487)"></div>
<div class="r" style="top:1411.68px;height:13.54px;background:linear-gradient(90deg,#482576,#482677,#482677,#482677,#482878,#46327e,#443b84,#404688,#3b518b,#3e4c8a,#3f4788,#443b84,#472f7d,#46337f,#443983,#414287,#3e4a89,#404588,#433e85,#423f85,#424186,#424186,#414287,#443a83,#472f7d,#443b84,#3e4989,#3d4d8a,#3c4f8a,#3d4d8a,#3e4a89,#424186,#453581,#46327e,#46307e,#46327e,#463480,#443983,#423f85,#423f85,#423f85,#424186,#414487,#3d4d8a,#39568c,#39568c,#3a538b,#3f4889,#443983,#453781,#443983,#414487,#3b528b,#3a538b,#3d4d8a,#3b518b,#375b8d,#355e8d,#355f8d,#38588c,#3e4989,#355e8d,#30698e,#3b518b,#424186,#433e85,#453581,#46307e,#472e7c,#46307e,#453581,#433d84,#414487,#414487,#433d84,#453882,#453781,#453581,#46337f,#46307e,#472f7d,#453581,#414287,#423f85,#472c7a,#482475,#472d7b,#463480,#433d84,#433e85,#463480,#463480,#424086,#3e4989,#3d4d8a,#3e4a89,#433e85,#453781,#453882,#453781,#46327e,#46327e,#443b84,#424186,#414287,#414487,#404688,#3e4a89,#3b528b,#39558c,#3a538b,#3a538b,#39568c,#39568c,#3c508b,#3f4889,#433d84,#453581,#433d84,#414287,#414487,#414287,#443a83,#453781,#404588,#3c4f8a,#3e4c8a,#3f4889,#404688,#414287,#443b84,#453781,#443b84,#424086,#414287,#414487,#424086,#433d84,#443a83,#453882,#472e7c,#482878,#443a83,#3f4889,#443a83,#472d7b,#482374,#481a6c,#482173,#472a7a,#46307e,#453781,#423f85,#404688,#424186,#443b84,#423f85,#414287,#424186,#424086)"></div>
<div class="r" style="top:1424.92px;height:13.54px;background:linear-gradient(90deg,#481d6f,#482677,#472e7c,#46337f,#453882,#482677,#481467,#481c6e,#482576,#482475,#482374,#481a6c,#471063,#481f70,#472f7d,#46307e,#46307e,#472c7a,#482677,#472c7a,#46307e,#404688,#375b8d,#3d4d8a,#453882,#482677,#481668,#48186a,#481d6f,#482374,#482979,#472c7a,#472d7b,#472d7b,#472d7b,#482979,#482576,#472a7a,#46337f,#46307e,#482979,#482173,#481a6c,#481b6d,#482979,#3a538b,#2c718e,#2f6c8e,#3f4889,#423f85,#433d84,#453882,#46307e,#472f7d,#46307e,#453581,#443a83,#424186,#2a768e,#6ccd5a,#fde725,#95d840,#24878e,#443983,#443a83,#463480,#472a7a,#482979,#472e7c,#46307e,#46327e,#472f7d,#472d7b,#472f7d,#453781,#433d84,#414287,#404588,#404588,#424086,#453882,#453581,#443a83,#414287,#3d4d8a,#3e4989,#453882,#472f7d,#463480,#443983,#423f85,#424186,#433e85,#433d84,#433e85,#433e85,#433d84,#433e85,#414287,#404688,#3f4889,#3f4788,#433e85,#453882,#453882,#453781,#463480,#46327e,#472e7c,#472c7a,#472c7a,#482979,#482475,#482576,#46337f,#424086,#3e4a89,#3b528b,#3a538b,#3a538b,#3d4d8a,#404688,#443983,#46327e,#433d84,#414287,#453882,#46307e,#463480,#443a83,#414487,#3f4889,#443a83,#472f7d,#453781,#433d84,#443b84,#443983,#463480,#472e7c,#472a7a,#482878,#472f7d,#453581,#463480,#463480,#423f85,#3f4889,#3f4889,#3f4788,#453781,#482576,#482878,#482979,#472a7a,#472c7a,#482475,#481d6f,#481d6f,#481d6f)"></div>
<div class="r" style="top:1438.16px;height:13.54px;background:linear-gradient(90deg,#46337f,#424086,#3d4d8a,#3f4889,#414287,#414487,#404588,#433d84,#46337f,#482979,#481f70,#472d7b,#443b84,#443983,#463480,#433e85,#3f4788,#443b84,#472c7a,#482677,#482374,#46307e,#424086,#404688,#3e4989,#404688,#424186,#443a83,#46337f,#443983,#424186,#443983,#472d7b,#472d7b,#472f7d,#472f7d,#46307e,#463480,#443983,#424086,#3f4788,#414487,#433e85,#424086,#3f4788,#3f4788,#404688,#443a83,#482979,#482475,#482576,#472a7a,#46307e,#463480,#453781,#453882,#3a548c,#25ac82,#dae319,#dfe318,#28ae80,#38588c,#3e4c8a,#3f4788,#433e85,#453581,#472d7b,#472d7b,#463480,#453781,#453882,#443b84,#424186,#414487,#414287,#414287,#404588,#404588,#424186,#414287,#3f4788,#423f85,#482878,#481f70,#482576,#472e7c,#453882,#443a83,#46337f,#46337f,#433d84,#423f85,#453882,#463480,#443983,#443a83,#453581,#463480,#453781,#443983,#433e85,#424086,#433e85,#433d84,#423f85,#404588,#3b518b,#39558c,#3e4989,#433e85,#453581,#46337f,#423f85,#3f4889,#3e4a89,#3d4e8a,#3b518b,#3a538b,#3a538b,#3c508b,#424186,#453882,#424186,#3e4989,#3e4c8a,#3d4d8a,#404688,#423f85,#443983,#46307e,#481d6f,#471063,#482173,#46337f,#414287,#3d4d8a,#443a83,#482979,#472e7c,#46337f,#433d84,#404588,#3e4a89,#3c4f8a,#3b518b,#3b518b,#433e85,#472c7a,#453581,#433e85,#414287,#3f4788,#443b84,#472f7d,#443983,#424186,#3c508b,#355e8d,#375b8d,#38598c)"></div>
<div class="r" style="top:1451.4px;height:13.54px;background:linear-gradient(90deg,#482071,#472d7b,#443983,#453781,#46337f,#443983,#433e85,#443b84,#453882,#443b84,#424086,#443983,#46307e,#482979,#482071,#482677,#472f7d,#46337f,#453581,#443a83,#423f85,#443a83,#463480,#463480,#453581,#423f85,#3e4989,#3d4e8a,#3b528b,#3b528b,#3b518b,#3b518b,#3b528b,#3c508b,#3d4e8a,#3c4f8a,#3b518b,#3b528b,#3a538b,#3b518b,#3d4e8a,#3e4a89,#3f4889,#3e4a89,#3c4f8a,#38588c,#33638d,#355e8d,#3b518b,#3f4889,#424186,#423f85,#433e85,#423f85,#424186,#424186,#424186,#443983,#472d7b,#482576,#482071,#482576,#46327e,#46327e,#472a7a,#472e7c,#453882,#423f85,#414287,#3f4889,#3c508b,#3a548c,#39568c,#3b528b,#3f4889,#433e85,#46337f,#472c7a,#482576,#482475,#482878,#472c7a,#46307e,#472e7c,#482475,#482576,#46337f,#433d84,#424186,#404688,#3e4989,#3e4989,#414487,#424186,#424086,#433e85,#453882,#463480,#46307e,#472d7b,#482576,#482576,#463480,#424086,#3e4a89,#3c4f8a,#3f4788,#424086,#433d84,#453882,#46337f,#46327e,#433e85,#414487,#443a83,#453781,#433d84,#424086,#433d84,#453882,#46327e,#472f7d,#443a83,#424186,#433d84,#443983,#453882,#453882,#453882,#453882,#463480,#46307e,#472f7d,#472f7d,#463480,#453882,#453581,#46337f,#453581,#453781,#46327e,#472e7c,#482979,#482576,#472c7a,#46327e,#453581,#443a83,#424086,#404688,#3e4989,#3d4d8a,#443b84,#472c7a,#472e7c,#46307e,#482374,#481467,#481a6c,#481f70)"></div>
<div class="r" style="top:1464.64px;height:13.54px;background:linear-gradient(90deg,#375b8d,#365c8d,#365d8d,#3a548c,#3e4c8a,#414287,#443983,#46327e,#482979,#472d7b,#46307e,#482677,#481b6d,#482878,#453581,#404588,#3a538b,#3b518b,#3d4d8a,#3d4d8a,#3d4d8a,#414487,#453882,#472e7c,#482576,#482979,#472e7c,#463480,#443983,#404588,#3b528b,#38588c,#375b8d,#3c4f8a,#433e85,#453882,#453581,#453781,#453882,#453581,#46327e,#472d7b,#482878,#472d7b,#453581,#443b84,#423f85,#423f85,#433e85,#453781,#472d7b,#472c7a,#472e7c,#472d7b,#482878,#472f7d,#433d84,#433d84,#463480,#46337f,#463480,#463480,#463480,#46327e,#472f7d,#472c7a,#482576,#482374,#482374,#46307e,#3f4788,#3d4e8a,#3e4989,#3f4889,#3e4989,#3d4e8a,#38588c,#39568c,#3e4c8a,#404688,#404688,#404688,#404688,#3f4889,#3c4f8a,#3c508b,#3d4e8a,#3e4a89,#3f4788,#414487,#423f85,#423f85,#414487,#3f4788,#3f4889,#424186,#472e7c,#482576,#472e7c,#46337f,#453581,#453581,#46337f,#472e7c,#482878,#482878,#453781,#433e85,#443983,#453581,#453581,#453581,#46327e,#472d7b,#482576,#482173,#482576,#482677,#481f70,#481b6d,#482071,#482677,#472e7c,#463480,#453882,#443a83,#443a83,#443b84,#433e85,#414287,#3c4f8a,#39568c,#3e4c8a,#423f85,#46307e,#482374,#482475,#482475,#482576,#482677,#482979,#472c7a,#482979,#482677,#482979,#472d7b,#433d84,#3e4a89,#414487,#433d84,#453882,#46337f,#46337f,#463480,#453882,#433d84,#3f4788,#3b518b,#3d4e8a,#3e4c8a)"></div>
<div class="r" style="top:1477.88px;height:13.54px;background:linear-gradient(90deg,#443a83,#46337f,#472d7b,#482576,#481d6f,#482374,#482878,#472d7b,#46307e,#472f7d,#472e7c,#453882,#414487,#433e85,#453581,#414487,#3b518b,#3c4f8a,#3e4c8a,#424086,#46337f,#453882,#423f85,#404688,#3d4d8a,#404688,#433d84,#453581,#472d7b,#453581,#424186,#3e4a89,#3a538b,#3f4788,#463480,#453581,#433d84,#433e85,#433d84,#443983,#453781,#463480,#46327e,#46337f,#453581,#433d84,#404688,#3f4788,#414487,#433e85,#453781,#443b84,#3a538b,#31688e,#33628d,#404588,#424086,#414487,#404688,#3e4989,#3c4f8a,#3c4f8a,#3e4c8a,#3e4c8a,#3d4d8a,#3e4a89,#404588,#404588,#3f4889,#3e4989,#3e4989,#3d4d8a,#3a538b,#3d4e8a,#424086,#433d84,#414487,#404688,#414487,#424086,#443b84,#453882,#463480,#443983,#375b8d,#306a8e,#365d8d,#433d84,#482173,#482878,#46337f,#453781,#472e7c,#46307e,#423f85,#404588,#423f85,#443b84,#443b84,#433d84,#433d84,#433e85,#423f85,#423f85,#443a83,#453882,#453781,#453781,#443b84,#424186,#3e4989,#3b518b,#3a538b,#39558c,#3a548c,#3b528b,#3e4a89,#414287,#443983,#472f7d,#482677,#482374,#46327e,#433d84,#424086,#424086,#443a83,#453581,#433e85,#404588,#3f4889,#3e4a89,#404688,#414287,#3f4788,#3e4989,#414487,#433d84,#472f7d,#482475,#472a7a,#46327e,#453781,#443b84,#424086,#414487,#443b84,#463480,#46337f,#46327e,#472f7d,#472e7c,#46337f,#443983,#443b84,#423f85,#404588,#3e4c8a,#3e4a89,#3e4989)"></div>
<div class="r" style="top:1491.12px;height:13.54px;background:linear-gradient(90deg,#472c7a,#46327e,#443983,#453581,#46307e,#482979,#482173,#482475,#482677,#472a7a,#472d7b,#46337f,#443a83,#433e85,#424186,#424086,#423f85,#443b84,#453781,#453781,#453882,#472d7b,#481f70,#481668,#470d60,#481a6c,#482878,#482475,#481d6f,#481d6f,#481f70,#482173,#482475,#472c7a,#453581,#46307e,#482979,#472d7b,#46337f,#46307e,#472d7b,#482576,#481d6f,#481c6e,#481c6e,#482878,#453781,#433e85,#424186,#404688,#3e4989,#3c4f8a,#3a538b,#3c4f8a,#404688,#375b8d,#306a8e,#365d8d,#433d84,#463480,#463480,#46327e,#472e7c,#472d7b,#472e7c,#453781,#414487,#423f85,#472c7a,#482979,#46327e,#443983,#423f85,#423f85,#443b84,#453581,#472e7c,#472c7a,#472f7d,#472f7d,#472e7c,#472a7a,#482878,#482979,#472f7d,#46327e,#46307e,#46307e,#46307e,#463480,#443a83,#443a83,#46337f,#46307e,#453882,#443a83,#453781,#453781,#443b84,#423f85,#423f85,#433e85,#443b84,#453882,#472f7d,#482979,#482878,#482878,#472a7a,#472e7c,#453781,#423f85,#404688,#3e4a89,#3e4a89,#3f4889,#433e85,#453581,#46337f,#472e7c,#482071,#481467,#471063,#470e61,#481769,#481f70,#482071,#482173,#481a6c,#471365,#481467,#481769,#482677,#46327e,#472a7a,#482374,#482173,#482475,#433d84,#3c508b,#3f4889,#424086,#443b84,#453882,#433d84,#424086,#433e85,#443a83,#404588,#3e4c8a,#443a83,#482878,#482677,#482475,#472d7b,#463480,#453581,#453581,#423f85,#3f4788)"></div>
<div class="r" style="top:1504.36px;height:13.54px;background:linear-gradient(90deg,#375a8c,#3d4d8a,#433e85,#46337f,#482878,#472d7b,#46327e,#482374,#471063,#481a6c,#482576,#453781,#3f4889,#404588,#424086,#472f7d,#481c6e,#48186a,#481769,#482677,#453882,#453781,#463480,#472f7d,#472c7a,#472f7d,#463480,#472e7c,#482677,#481f70,#481769,#482475,#46337f,#46327e,#472c7a,#482576,#481f70,#481f70,#481f70,#482677,#46307e,#46327e,#46307e,#453581,#433e85,#423f85,#433e85,#3e4c8a,#228d8d,#3dbc74,#29af7f,#2c738e,#463480,#482374,#48186a,#481b6d,#482374,#46327e,#404588,#3a538b,#355e8d,#3a538b,#443983,#472c7a,#482677,#472c7a,#453781,#443b84,#433d84,#443983,#46327e,#472e7c,#472e7c,#482979,#482071,#482071,#482979,#463480,#424186,#3e4989,#3d4e8a,#3e4c8a,#424086,#443983,#453781,#443983,#423f85,#404588,#3e4a89,#3e4a89,#404588,#433e85,#453581,#46337f,#443a83,#423f85,#414287,#424086,#34618d,#2e6f8e,#355f8d,#443b84,#46327e,#443b84,#423f85,#424186,#414487,#414487,#433d84,#453581,#472f7d,#482979,#482979,#482677,#482374,#482071,#482071,#482173,#482576,#482979,#472d7b,#46327e,#443a83,#433d84,#46307e,#482878,#472c7a,#472e7c,#46307e,#453581,#424186,#3e4989,#414487,#433e85,#443983,#453581,#443a83,#423f85,#443a83,#453581,#46337f,#46327e,#433e85,#3f4889,#3f4889,#3f4889,#3d4d8a,#3b518b,#3c4f8a,#3e4c8a,#3f4788,#414287,#443b84,#463480,#472d7b,#482677,#46307e,#443a83,#443a83,#443a83)"></div>
<div class="r" style="top:1517.6px;height:13.54px;background:linear-gradient(90deg,#482878,#482071,#48186a,#482878,#453882,#443a83,#433d84,#453882,#46327e,#46337f,#453581,#443983,#433e85,#443a83,#453781,#443a83,#423f85,#443983,#46337f,#482576,#481769,#482071,#472c7a,#472d7b,#472c7a,#472c7a,#472a7a,#46307e,#453781,#453581,#46337f,#443983,#423f85,#404588,#3f4889,#414287,#443a83,#472e7c,#482071,#482374,#482979,#46337f,#423f85,#433e85,#453781,#46327e,#472d7b,#472f7d,#463480,#443983,#433e85,#423f85,#423f85,#433e85,#433d84,#453781,#472d7b,#472a7a,#472c7a,#472d7b,#472e7c,#472e7c,#472c7a,#482475,#48186a,#48186a,#482173,#482475,#482576,#46307e,#414287,#3d4e8a,#3a538b,#39558c,#39558c,#3b518b,#3e4989,#424186,#443a83,#443983,#424086,#424186,#433e85,#433d84,#433e85,#443a83,#46327e,#472e7c,#472f7d,#453581,#424086,#3e4989,#3c508b,#3b528b,#3e4c8a,#3d4d8a,#38598c,#34608d,#34608d,#38588c,#423f85,#472e7c,#472e7c,#472e7c,#472d7b,#472d7b,#46327e,#453581,#453581,#453882,#433e85,#414487,#3d4d8a,#3b528b,#3a538b,#3b518b,#3e4c8a,#3f4788,#414487,#424186,#424086,#424086,#424086,#424186,#414287,#414287,#423f85,#433d84,#443b84,#453882,#472f7d,#472a7a,#453882,#404588,#3e4c8a,#3b518b,#404588,#443983,#472f7d,#482979,#453882,#414287,#453781,#472a7a,#481b6d,#470d60,#481c6e,#472a7a,#463480,#433e85,#423f85,#424086,#404588,#3f4889,#404588,#424086,#453882,#472f7d,#481f70,#470e61)"></div>
<div class="r" style="top:1530.84px;height:13.54px;background:linear-gradient(90deg,#433e85,#463480,#472c7a,#472d7b,#472e7c,#482677,#481f70,#481f70,#482071,#482878,#472f7d,#443a83,#404588,#404588,#404588,#433d84,#463480,#453781,#443a83,#453882,#463480,#453781,#443983,#443b84,#433e85,#423f85,#424186,#443b84,#463480,#463480,#453781,#443983,#433d84,#443b84,#443983,#453781,#463480,#433e85,#3e4a89,#404688,#433d84,#433d84,#424086,#424186,#424186,#424086,#424086,#453581,#482576,#472f7d,#414487,#414287,#453882,#472e7c,#482576,#472a7a,#453882,#404688,#3a548c,#3b528b,#3f4889,#443a83,#472c7a,#472a7a,#46307e,#443983,#414287,#433e85,#472e7c,#472a7a,#472d7b,#46327e,#453882,#424186,#3c4f8a,#3c4f8a,#404588,#424186,#404588,#424086,#463480,#472d7b,#472c7a,#46307e,#433d84,#424186,#433e85,#463480,#482677,#482576,#46337f,#443b84,#433e85,#433d84,#453581,#46337f,#453781,#443a83,#443b84,#443983,#463480,#472f7d,#472d7b,#472c7a,#472c7a,#472c7a,#472c7a,#472a7a,#482576,#482475,#482979,#472a7a,#482576,#482475,#472d7b,#46337f,#46337f,#46327e,#472e7c,#472f7d,#433e85,#3e4c8a,#39558c,#375b8d,#39558c,#3d4d8a,#433e85,#46337f,#424086,#3f4889,#404588,#424186,#443b84,#453781,#46327e,#472e7c,#463480,#443983,#414287,#3e4989,#414287,#433d84,#46337f,#482979,#482576,#482374,#482677,#472a7a,#453581,#423f85,#404688,#3e4a89,#32658e,#24878e,#21a685,#3bbb75,#42be71,#2cb17e,#1f958b,#2c738e)"></div>
<div class="r" style="top:1544.08px;height:13.54px;background:linear-gradient(90deg,#38588c,#3c508b,#3f4889,#404688,#414487,#443b84,#46337f,#453581,#453882,#443b84,#423f85,#433e85,#443b84,#463480,#472d7b,#472d7b,#472d7b,#453581,#433e85,#443b84,#453882,#472a7a,#481c6e,#482677,#453581,#423f85,#3f4889,#414287,#453882,#453781,#453781,#46307e,#472a7a,#46307e,#443a83,#463480,#482979,#482475,#482071,#482979,#463480,#414487,#3a538b,#3e4a89,#443a83,#46307e,#482979,#472f7d,#443b84,#414287,#404688,#3e4a89,#3d4e8a,#414287,#472f7d,#482374,#481c6e,#482071,#482979,#46307e,#453882,#443a83,#433d84,#433e85,#433e85,#463480,#482374,#481d6f,#481f70,#482576,#472e7c,#453781,#423f85,#414287,#424086,#443b84,#463480,#472f7d,#472d7b,#46327e,#424086,#3e4989,#3c508b,#39568c,#355e8d,#375b8d,#3d4e8a,#3f4788,#3e4989,#404588,#463480,#472a7a,#472a7a,#472a7a,#472a7a,#472a7a,#472c7a,#472a7a,#482878,#482878,#472a7a,#472d7b,#472f7d,#46327e,#46327e,#46337f,#443983,#443b84,#453882,#453581,#453781,#443a83,#414487,#3f4788,#424186,#443b84,#453882,#453581,#46337f,#46327e,#46337f,#463480,#463480,#463480,#472e7c,#472c7a,#443983,#414487,#3e4989,#3d4d8a,#3f4889,#414287,#463480,#482878,#481f70,#481a6c,#482475,#472d7b,#453781,#423f85,#414487,#3f4889,#414287,#433e85,#423f85,#424086,#3e4989,#3c508b,#3f4788,#433e85,#404688,#3d4d8a,#3e4989,#3f4788,#31678e,#1fa287,#7ad151,#b5de2b,#7ad151,#1fa187)"></div>
<div class="r" style="top:1557.32px;height:13.54px;background:linear-gradient(90deg,#481b6d,#482475,#472e7c,#443983,#414287,#3e4989,#3c4f8a,#3c4f8a,#3c4f8a,#424086,#472f7d,#472d7b,#472a7a,#472a7a,#472a7a,#46327e,#443b84,#453581,#472e7c,#443a83,#3f4889,#3a538b,#355e8d,#32648e,#31678e,#32658e,#355f8d,#3a548c,#3f4889,#443a83,#433e85,#453781,#472c7a,#472d7b,#46327e,#453781,#443b84,#424086,#3f4788,#404688,#414487,#424186,#423f85,#443b84,#453781,#453781,#443983,#443a83,#433d84,#424086,#414487,#414487,#424086,#424086,#414287,#443a83,#472d7b,#46307e,#433e85,#424186,#433e85,#424086,#404588,#404588,#424086,#414287,#3f4788,#3e4a89,#3d4d8a,#3f4788,#443b84,#453781,#453781,#453882,#453882,#453882,#453781,#46327e,#482677,#482576,#472e7c,#46327e,#46337f,#46327e,#472f7d,#472e7c,#472e7c,#472d7b,#482979,#472f7d,#424086,#3e4989,#3e4a89,#3d4d8a,#3c4f8a,#3e4a89,#453882,#472c7a,#482677,#482576,#472d7b,#472e7c,#482576,#482374,#472c7a,#46307e,#472e7c,#472d7b,#472f7d,#46327e,#453781,#443a83,#433d84,#414287,#3e4c8a,#3b518b,#3f4889,#433e85,#46327e,#472a7a,#463480,#453882,#472e7c,#482878,#472c7a,#472e7c,#482878,#482475,#472a7a,#46327e,#424086,#3e4989,#424086,#453882,#463480,#46327e,#46337f,#463480,#443a83,#424086,#3f4889,#3d4e8a,#433e85,#472f7d,#472d7b,#472c7a,#453581,#433d84,#433d84,#34608d,#26828e,#1f9e89,#22a884,#1f9e89,#26828e,#1f9a8a,#f6e620,#5cc863,#3d4e8a,#482677)"></div>
<div class="r" style="top:1570.56px;height:13.54px;background:linear-gradient(90deg,#463480,#424086,#3e4c8a,#3f4788,#414287,#443b84,#463480,#453882,#443b84,#443a83,#443983,#453882,#453581,#482878,#48186a,#481b6d,#482071,#472c7a,#453781,#453781,#463480,#443983,#423f85,#3f4788,#3c508b,#3f4788,#443b84,#453882,#453581,#46327e,#472c7a,#472a7a,#482979,#472a7a,#472c7a,#482374,#482071,#414487,#32648e,#2e6e8e,#365c8d,#433e85,#433d84,#423f85,#414487,#424186,#433d84,#443b84,#443b84,#433e85,#414487,#414487,#414287,#433d84,#463480,#443983,#414487,#414287,#443983,#443b84,#404588,#3c508b,#365d8d,#365c8d,#3b518b,#3c4f8a,#3b518b,#3d4d8a,#424186,#433e85,#424086,#423f85,#433d84,#443b84,#443a83,#453581,#472d7b,#482878,#482878,#472a7a,#46307e,#472f7d,#482576,#482374,#482878,#472f7d,#443983,#443b84,#453581,#472f7d,#472a7a,#482878,#482878,#472c7a,#46337f,#453882,#453781,#453781,#443983,#443b84,#433d84,#424186,#3e4a89,#3e4c8a,#433d84,#472d7b,#482173,#481c6e,#482979,#46337f,#453581,#453882,#453581,#46307e,#482979,#482878,#453882,#424186,#423f85,#443b84,#453781,#46327e,#472a7a,#482878,#463480,#433e85,#424086,#414287,#3f4889,#3e4c8a,#423f85,#463480,#472d7b,#482878,#472e7c,#46337f,#46307e,#472e7c,#46337f,#453781,#472f7d,#482979,#472d7b,#46307e,#46327e,#46337f,#46337f,#46337f,#472e7c,#3c4f8a,#2c738e,#228c8d,#218e8d,#2a788e,#35b779,#ece51b,#67cc5c,#31678e,#472d7b,#482677)"></div>
<svg width="1242" height="1716" viewBox="0 0 1242 1716">
<g stroke="#262626" stroke-width="2.1" fill="none">
<rect x="189.20" y="14.90" width="1034.20" height="806.00"/>
<path d="M361.57 820.90v-11M361.57 14.90v11M533.93 820.90v-11M533.93 14.90v11M706.30 820.90v-11M706.30 14.90v11M878.67 820.90v-11M878.67 14.90v11M1051.03 820.90v-11M1051.03 14.90v11M189.20 659.70h11M1223.40 659.70h-11M189.20 498.50h11M1223.40 498.50h-11M189.20 337.30h11M1223.40 337.30h-11M189.20 176.10h11M1223.40 176.10h-11"/>
</g>
<path fill="#d95319" d="M305.8 20.3h16.0l-8.0 13.6zM312.5 34.7h16.0l-8.0 13.6zM318.7 48.9h16.0l-8.0 13.6zM325.0 63.1h16.0l-8.0 13.6zM331.4 77.3h16.0l-8.0 13.6zM337.8 91.5h16.0l-8.0 13.6zM344.2 105.7h16.0l-8.0 13.6zM350.7 119.9h16.0l-8.0 13.6zM357.2 134.1h16.0l-8.0 13.6zM363.7 148.3h16.0l-8.0 13.6zM370.2 162.5h16.0l-8.0 13.6zM376.8 176.7h16.0l-8.0 13.6zM383.3 190.9h16.0l-8.0 13.6zM389.9 205.1h16.0l-8.0 13.6zM396.5 219.3h16.0l-8.0 13.6zM403.1 233.5h16.0l-8.0 13.6zM409.7 247.7h16.0l-8.0 13.6zM409.7 247.8h16.0l-8.0 13.6zM417.8 264.8h16.0l-8.0 13.6zM425.8 281.9h16.0l-8.0 13.6zM433.8 298.9h16.0l-8.0 13.6zM441.8 316.0h16.0l-8.0 13.6zM449.8 333.1h16.0l-8.0 13.6zM457.7 350.1h16.0l-8.0 13.6zM465.7 367.2h16.0l-8.0 13.6zM473.5 384.2h16.0l-8.0 13.6zM481.4 401.3h16.0l-8.0 13.6zM489.1 418.4h16.0l-8.0 13.6zM496.9 435.4h16.0l-8.0 13.6zM504.5 452.5h16.0l-8.0 13.6zM512.1 469.5h16.0l-8.0 13.6zM519.6 486.6h16.0l-8.0 13.6zM527.0 503.7h16.0l-8.0 13.6zM534.3 520.7h16.0l-8.0 13.6zM541.5 537.8h16.0l-8.0 13.6zM548.6 554.8h16.0l-8.0 13.6zM555.6 571.9h16.0l-8.0 13.6zM562.5 589.0h16.0l-8.0 13.6zM565.6 603.2h16.0l-8.0 13.6zM572.4 620.2h16.0l-8.0 13.6zM579.1 637.3h16.0l-8.0 13.6zM585.4 654.4h16.0l-8.0 13.6zM591.5 671.4h16.0l-8.0 13.6zM597.4 688.5h16.0l-8.0 13.6zM603.0 705.6h16.0l-8.0 13.6zM608.5 722.7h16.0l-8.0 13.6zM613.5 739.7h16.0l-8.0 13.6zM618.6 756.8h16.0l-8.0 13.6zM621.8 773.9h16.0l-8.0 13.6zM623.6 790.9h16.0l-8.0 13.6zM626.8 808.0h16.0l-8.0 13.6zM510.4 20.6h16.0l-8.0 13.6zM513.6 34.8h16.0l-8.0 13.6zM516.7 49.0h16.0l-8.0 13.6zM519.9 63.2h16.0l-8.0 13.6zM523.1 77.4h16.0l-8.0 13.6zM526.3 91.6h16.0l-8.0 13.6zM529.4 105.8h16.0l-8.0 13.6zM532.6 120.0h16.0l-8.0 13.6zM535.8 134.2h16.0l-8.0 13.6zM539.0 148.4h16.0l-8.0 13.6zM542.1 162.6h16.0l-8.0 13.6zM545.3 176.8h16.0l-8.0 13.6zM548.5 191.0h16.0l-8.0 13.6zM551.6 205.2h16.0l-8.0 13.6zM554.8 219.4h16.0l-8.0 13.6zM558.0 233.6h16.0l-8.0 13.6zM561.2 247.8h16.0l-8.0 13.6zM564.3 262.0h16.0l-8.0 13.6zM567.5 276.2h16.0l-8.0 13.6zM570.7 290.4h16.0l-8.0 13.6zM573.8 304.6h16.0l-8.0 13.6zM577.0 318.8h16.0l-8.0 13.6zM580.2 333.0h16.0l-8.0 13.6zM583.4 347.2h16.0l-8.0 13.6zM586.5 361.4h16.0l-8.0 13.6zM589.7 375.6h16.0l-8.0 13.6zM592.9 389.8h16.0l-8.0 13.6zM596.1 404.0h16.0l-8.0 13.6zM599.2 418.2h16.0l-8.0 13.6zM602.4 432.4h16.0l-8.0 13.6zM605.6 446.6h16.0l-8.0 13.6zM608.7 460.8h16.0l-8.0 13.6zM611.9 475.0h16.0l-8.0 13.6zM615.1 489.2h16.0l-8.0 13.6zM618.3 503.4h16.0l-8.0 13.6zM621.4 517.6h16.0l-8.0 13.6zM624.6 531.8h16.0l-8.0 13.6zM627.9 544.5h16.0l-8.0 13.6zM630.6 557.4h16.0l-8.0 13.6zM633.5 570.2h16.0l-8.0 13.6zM636.4 582.9h16.0l-8.0 13.6zM639.4 595.3h16.0l-8.0 13.6zM642.6 608.0h16.0l-8.0 13.6zM645.6 620.6h16.0l-8.0 13.6zM649.2 633.4h16.0l-8.0 13.6zM652.1 645.9h16.0l-8.0 13.6zM653.6 652.2h16.0l-8.0 13.6zM655.1 658.5h16.0l-8.0 13.6zM656.5 664.9h16.0l-8.0 13.6zM658.0 671.2h16.0l-8.0 13.6zM659.5 677.5h16.0l-8.0 13.6zM661.0 683.8h16.0l-8.0 13.6zM662.4 690.2h16.0l-8.0 13.6zM663.9 696.5h16.0l-8.0 13.6zM665.4 702.8h16.0l-8.0 13.6zM668.2 716.0h16.0l-8.0 13.6zM672.8 731.4h16.0l-8.0 13.6zM673.7 733.6h16.0l-8.0 13.6zM673.5 735.8h16.0l-8.0 13.6zM674.3 738.0h16.0l-8.0 13.6zM674.4 740.2h16.0l-8.0 13.6zM674.6 742.4h16.0l-8.0 13.6zM675.1 744.6h16.0l-8.0 13.6zM675.3 746.8h16.0l-8.0 13.6zM675.9 749.0h16.0l-8.0 13.6zM675.6 751.2h16.0l-8.0 13.6zM676.5 753.4h16.0l-8.0 13.6zM676.5 755.6h16.0l-8.0 13.6zM676.5 757.8h16.0l-8.0 13.6zM676.3 760.0h16.0l-8.0 13.6zM677.4 762.2h16.0l-8.0 13.6zM676.7 764.4h16.0l-8.0 13.6zM677.2 766.6h16.0l-8.0 13.6zM677.0 768.8h16.0l-8.0 13.6zM678.1 771.0h16.0l-8.0 13.6zM678.4 773.2h16.0l-8.0 13.6zM678.1 775.4h16.0l-8.0 13.6zM679.3 777.7h16.0l-8.0 13.6zM678.9 779.9h16.0l-8.0 13.6zM679.2 782.1h16.0l-8.0 13.6zM681.4 784.3h16.0l-8.0 13.6zM680.6 786.5h16.0l-8.0 13.6zM681.6 803.8h16.0l-8.0 13.6zM680.3 809.8h16.0l-8.0 13.6zM679.6 815.2h16.0l-8.0 13.6zM680.5 816.4h16.0l-8.0 13.6zM879.1 20.6h16.0l-8.0 13.6zM875.7 34.8h16.0l-8.0 13.6zM872.2 49.0h16.0l-8.0 13.6zM868.8 63.2h16.0l-8.0 13.6zM865.3 77.4h16.0l-8.0 13.6zM861.9 91.6h16.0l-8.0 13.6zM858.5 105.8h16.0l-8.0 13.6zM855.2 120.0h16.0l-8.0 13.6zM851.8 134.2h16.0l-8.0 13.6zM848.4 148.4h16.0l-8.0 13.6zM845.1 162.6h16.0l-8.0 13.6zM841.7 176.8h16.0l-8.0 13.6zM838.4 191.0h16.0l-8.0 13.6zM835.1 205.2h16.0l-8.0 13.6zM831.7 219.4h16.0l-8.0 13.6zM828.4 233.6h16.0l-8.0 13.6zM825.1 247.8h16.0l-8.0 13.6zM825.0 262.0h16.0l-8.0 13.6zM821.7 276.2h16.0l-8.0 13.6zM815.1 290.4h16.0l-8.0 13.6zM811.8 304.6h16.0l-8.0 13.6zM808.5 318.8h16.0l-8.0 13.6zM805.2 333.0h16.0l-8.0 13.6zM801.9 347.2h16.0l-8.0 13.6zM798.7 361.4h16.0l-8.0 13.6zM795.4 375.6h16.0l-8.0 13.6zM792.1 389.8h16.0l-8.0 13.6zM788.8 404.0h16.0l-8.0 13.6zM785.5 418.2h16.0l-8.0 13.6zM782.2 432.4h16.0l-8.0 13.6zM778.9 446.6h16.0l-8.0 13.6zM775.6 460.8h16.0l-8.0 13.6zM772.3 475.0h16.0l-8.0 13.6zM768.9 489.2h16.0l-8.0 13.6zM765.5 503.4h16.0l-8.0 13.6zM762.2 517.6h16.0l-8.0 13.6zM759.3 531.8h16.0l-8.0 13.6zM756.5 546.0h16.0l-8.0 13.6zM753.7 560.2h16.0l-8.0 13.6zM748.0 589.0h16.0l-8.0 13.6zM746.8 594.6h16.0l-8.0 13.6zM745.5 600.3h16.0l-8.0 13.6zM744.3 606.0h16.0l-8.0 13.6zM743.1 611.6h16.0l-8.0 13.6zM741.8 617.3h16.0l-8.0 13.6zM740.6 623.0h16.0l-8.0 13.6zM739.4 628.7h16.0l-8.0 13.6zM738.1 634.3h16.0l-8.0 13.6zM736.9 640.0h16.0l-8.0 13.6zM735.7 645.7h16.0l-8.0 13.6zM734.5 651.3h16.0l-8.0 13.6zM733.3 657.0h16.0l-8.0 13.6zM732.1 662.7h16.0l-8.0 13.6zM730.9 668.3h16.0l-8.0 13.6zM729.8 674.0h16.0l-8.0 13.6zM728.7 679.7h16.0l-8.0 13.6zM727.6 685.4h16.0l-8.0 13.6zM726.6 691.0h16.0l-8.0 13.6zM725.5 696.7h16.0l-8.0 13.6zM724.5 702.4h16.0l-8.0 13.6zM723.6 708.0h16.0l-8.0 13.6zM722.6 713.7h16.0l-8.0 13.6zM721.8 719.4h16.0l-8.0 13.6zM720.9 725.0h16.0l-8.0 13.6zM720.1 730.7h16.0l-8.0 13.6zM719.4 736.4h16.0l-8.0 13.6zM719.0 739.3h16.0l-8.0 13.6zM718.7 742.2h16.0l-8.0 13.6zM718.3 745.1h16.0l-8.0 13.6zM718.0 748.0h16.0l-8.0 13.6zM717.7 750.9h16.0l-8.0 13.6zM717.4 753.8h16.0l-8.0 13.6zM717.1 756.7h16.0l-8.0 13.6zM716.6 757.5h16.0l-8.0 13.6zM715.2 782.2h16.0l-8.0 13.6zM714.7 801.1h16.0l-8.0 13.6zM714.7 803.3h16.0l-8.0 13.6zM714.7 805.5h16.0l-8.0 13.6zM714.7 807.7h16.0l-8.0 13.6zM714.7 809.9h16.0l-8.0 13.6zM714.7 812.1h16.0l-8.0 13.6zM714.7 814.3h16.0l-8.0 13.6zM714.7 816.5h16.0l-8.0 13.6zM1083.3 20.6h16.0l-8.0 13.6zM1070.0 49.0h16.0l-8.0 13.6zM1056.7 77.4h16.0l-8.0 13.6zM1043.5 105.8h16.0l-8.0 13.6zM1030.3 134.2h16.0l-8.0 13.6zM1017.2 162.6h16.0l-8.0 13.6zM1004.1 191.0h16.0l-8.0 13.6zM991.1 219.4h16.0l-8.0 13.6zM978.2 247.8h16.0l-8.0 13.6zM971.7 262.0h16.0l-8.0 13.6zM965.3 276.2h16.0l-8.0 13.6zM958.9 290.4h16.0l-8.0 13.6zM952.5 304.6h16.0l-8.0 13.6zM946.1 318.8h16.0l-8.0 13.6zM939.7 333.0h16.0l-8.0 13.6zM933.3 347.2h16.0l-8.0 13.6zM919.4 375.6h16.0l-8.0 13.6zM913.2 389.8h16.0l-8.0 13.6zM824.0 589.1h16.0l-8.0 13.6zM816.4 602.8h16.0l-8.0 13.6zM928.1 361.2h16.0l-8.0 13.6zM925.7 361.2h16.0l-8.0 13.6zM926.8 364.1h16.0l-8.0 13.6zM924.4 364.1h16.0l-8.0 13.6zM925.5 367.0h16.0l-8.0 13.6zM923.1 367.0h16.0l-8.0 13.6zM924.3 369.9h16.0l-8.0 13.6zM921.9 369.9h16.0l-8.0 13.6zM923.0 372.8h16.0l-8.0 13.6zM920.6 372.8h16.0l-8.0 13.6zM921.7 375.7h16.0l-8.0 13.6zM919.3 375.7h16.0l-8.0 13.6zM920.4 378.6h16.0l-8.0 13.6zM918.0 378.6h16.0l-8.0 13.6zM919.1 381.5h16.0l-8.0 13.6zM916.7 381.5h16.0l-8.0 13.6zM917.9 384.4h16.0l-8.0 13.6zM915.5 384.4h16.0l-8.0 13.6zM916.6 387.3h16.0l-8.0 13.6zM914.2 387.3h16.0l-8.0 13.6zM915.3 390.2h16.0l-8.0 13.6zM912.9 390.2h16.0l-8.0 13.6zM914.0 393.1h16.0l-8.0 13.6zM911.6 393.1h16.0l-8.0 13.6zM912.7 396.0h16.0l-8.0 13.6zM910.3 396.0h16.0l-8.0 13.6zM911.4 398.9h16.0l-8.0 13.6zM909.0 398.9h16.0l-8.0 13.6zM910.2 401.8h16.0l-8.0 13.6zM907.8 401.8h16.0l-8.0 13.6zM908.9 404.7h16.0l-8.0 13.6zM906.5 404.7h16.0l-8.0 13.6zM907.6 407.6h16.0l-8.0 13.6zM905.2 407.6h16.0l-8.0 13.6zM906.3 410.5h16.0l-8.0 13.6zM903.9 410.5h16.0l-8.0 13.6zM905.0 413.4h16.0l-8.0 13.6zM902.6 413.4h16.0l-8.0 13.6zM903.8 416.3h16.0l-8.0 13.6zM901.4 416.3h16.0l-8.0 13.6zM902.5 419.2h16.0l-8.0 13.6zM900.1 419.2h16.0l-8.0 13.6zM898.9 425.7h16.0l-8.0 13.6zM895.7 432.8h16.0l-8.0 13.6zM892.5 439.9h16.0l-8.0 13.6zM889.4 447.0h16.0l-8.0 13.6zM886.3 454.1h16.0l-8.0 13.6zM883.2 461.2h16.0l-8.0 13.6zM880.1 468.3h16.0l-8.0 13.6zM877.0 475.4h16.0l-8.0 13.6zM873.9 482.5h16.0l-8.0 13.6zM870.8 489.6h16.0l-8.0 13.6zM867.7 496.7h16.0l-8.0 13.6zM864.6 503.8h16.0l-8.0 13.6zM861.5 510.9h16.0l-8.0 13.6zM858.4 518.0h16.0l-8.0 13.6zM855.3 525.1h16.0l-8.0 13.6zM852.4 532.2h16.0l-8.0 13.6zM850.6 536.6h16.0l-8.0 13.6zM849.4 539.5h16.0l-8.0 13.6zM848.2 542.4h16.0l-8.0 13.6zM847.1 545.3h16.0l-8.0 13.6zM845.9 548.2h16.0l-8.0 13.6zM844.7 551.1h16.0l-8.0 13.6zM843.5 554.0h16.0l-8.0 13.6zM842.4 556.9h16.0l-8.0 13.6zM841.2 559.8h16.0l-8.0 13.6zM840.0 562.7h16.0l-8.0 13.6zM838.8 565.6h16.0l-8.0 13.6zM837.6 568.5h16.0l-8.0 13.6zM836.5 571.4h16.0l-8.0 13.6zM835.3 574.3h16.0l-8.0 13.6zM834.1 577.2h16.0l-8.0 13.6zM833.0 580.1h16.0l-8.0 13.6zM831.8 583.0h16.0l-8.0 13.6zM830.6 585.9h16.0l-8.0 13.6zM829.4 588.8h16.0l-8.0 13.6zM828.3 591.7h16.0l-8.0 13.6zM827.1 594.6h16.0l-8.0 13.6zM825.9 597.5h16.0l-8.0 13.6zM824.7 600.4h16.0l-8.0 13.6zM823.5 603.3h16.0l-8.0 13.6zM811.1 617.5h16.0l-8.0 13.6zM806.1 631.8h16.0l-8.0 13.6zM801.0 646.0h16.0l-8.0 13.6zM796.0 660.3h16.0l-8.0 13.6zM792.1 674.3h16.0l-8.0 13.6zM787.4 688.6h16.0l-8.0 13.6zM784.0 702.9h16.0l-8.0 13.6zM781.6 717.1h16.0l-8.0 13.6zM777.8 731.4h16.0l-8.0 13.6zM775.3 745.6h16.0l-8.0 13.6zM774.2 759.7h16.0l-8.0 13.6zM773.3 773.9h16.0l-8.0 13.6zM771.7 788.1h16.0l-8.0 13.6zM769.2 799.5h16.0l-8.0 13.6zM767.9 805.3h16.0l-8.0 13.6zM768.1 810.8h16.0l-8.0 13.6zM767.6 816.6h16.0l-8.0 13.6z"/>
<rect x="704" y="563" width="68.6" height="257.7" fill="none" stroke="#000" stroke-width="2"/>
<path fill="none" stroke="#0072bd" stroke-width="4" d="M328.8 39.2a3.95 3.95 0 1 0 7.90 0a3.95 3.95 0 1 0 -7.90 0M335.0 53.5a3.95 3.95 0 1 0 7.90 0a3.95 3.95 0 1 0 -7.90 0M341.3 67.7a3.95 3.95 0 1 0 7.90 0a3.95 3.95 0 1 0 -7.90 0M347.7 81.8a3.95 3.95 0 1 0 7.90 0a3.95 3.95 0 1 0 -7.90 0M354.0 96.0a3.95 3.95 0 1 0 7.90 0a3.95 3.95 0 1 0 -7.90 0M360.4 110.2a3.95 3.95 0 1 0 7.90 0a3.95 3.95 0 1 0 -7.90 0M366.9 124.4a3.95 3.95 0 1 0 7.90 0a3.95 3.95 0 1 0 -7.90 0M373.4 138.6a3.95 3.95 0 1 0 7.90 0a3.95 3.95 0 1 0 -7.90 0M379.9 152.8a3.95 3.95 0 1 0 7.90 0a3.95 3.95 0 1 0 -7.90 0M386.4 167.1a3.95 3.95 0 1 0 7.90 0a3.95 3.95 0 1 0 -7.90 0M392.9 181.2a3.95 3.95 0 1 0 7.90 0a3.95 3.95 0 1 0 -7.90 0M399.5 195.4a3.95 3.95 0 1 0 7.90 0a3.95 3.95 0 1 0 -7.90 0M406.0 209.6a3.95 3.95 0 1 0 7.90 0a3.95 3.95 0 1 0 -7.90 0M412.6 223.8a3.95 3.95 0 1 0 7.90 0a3.95 3.95 0 1 0 -7.90 0M419.2 238.0a3.95 3.95 0 1 0 7.90 0a3.95 3.95 0 1 0 -7.90 0M425.7 252.2a3.95 3.95 0 1 0 7.90 0a3.95 3.95 0 1 0 -7.90 0M425.8 252.3a3.95 3.95 0 1 0 7.90 0a3.95 3.95 0 1 0 -7.90 0M433.7 269.4a3.95 3.95 0 1 0 7.90 0a3.95 3.95 0 1 0 -7.90 0M441.6 286.4a3.95 3.95 0 1 0 7.90 0a3.95 3.95 0 1 0 -7.90 0M449.4 303.5a3.95 3.95 0 1 0 7.90 0a3.95 3.95 0 1 0 -7.90 0M457.3 320.5a3.95 3.95 0 1 0 7.90 0a3.95 3.95 0 1 0 -7.90 0M465.1 337.6a3.95 3.95 0 1 0 7.90 0a3.95 3.95 0 1 0 -7.90 0M472.9 354.7a3.95 3.95 0 1 0 7.90 0a3.95 3.95 0 1 0 -7.90 0M480.7 371.7a3.95 3.95 0 1 0 7.90 0a3.95 3.95 0 1 0 -7.90 0M488.4 388.8a3.95 3.95 0 1 0 7.90 0a3.95 3.95 0 1 0 -7.90 0M496.1 405.8a3.95 3.95 0 1 0 7.90 0a3.95 3.95 0 1 0 -7.90 0M503.7 422.9a3.95 3.95 0 1 0 7.90 0a3.95 3.95 0 1 0 -7.90 0M511.3 440.0a3.95 3.95 0 1 0 7.90 0a3.95 3.95 0 1 0 -7.90 0M518.8 457.0a3.95 3.95 0 1 0 7.90 0a3.95 3.95 0 1 0 -7.90 0M526.2 474.1a3.95 3.95 0 1 0 7.90 0a3.95 3.95 0 1 0 -7.90 0M533.5 491.1a3.95 3.95 0 1 0 7.90 0a3.95 3.95 0 1 0 -7.90 0M540.8 508.2a3.95 3.95 0 1 0 7.90 0a3.95 3.95 0 1 0 -7.90 0M548.0 525.3a3.95 3.95 0 1 0 7.90 0a3.95 3.95 0 1 0 -7.90 0M555.0 542.3a3.95 3.95 0 1 0 7.90 0a3.95 3.95 0 1 0 -7.90 0M562.0 559.4a3.95 3.95 0 1 0 7.90 0a3.95 3.95 0 1 0 -7.90 0M568.9 576.4a3.95 3.95 0 1 0 7.90 0a3.95 3.95 0 1 0 -7.90 0M575.6 593.5a3.95 3.95 0 1 0 7.90 0a3.95 3.95 0 1 0 -7.90 0M578.6 607.7a3.95 3.95 0 1 0 7.90 0a3.95 3.95 0 1 0 -7.90 0M585.2 624.8a3.95 3.95 0 1 0 7.90 0a3.95 3.95 0 1 0 -7.90 0M591.6 641.8a3.95 3.95 0 1 0 7.90 0a3.95 3.95 0 1 0 -7.90 0M597.8 658.9a3.95 3.95 0 1 0 7.90 0a3.95 3.95 0 1 0 -7.90 0M603.6 676.0a3.95 3.95 0 1 0 7.90 0a3.95 3.95 0 1 0 -7.90 0M609.1 693.1a3.95 3.95 0 1 0 7.90 0a3.95 3.95 0 1 0 -7.90 0M614.1 710.1a3.95 3.95 0 1 0 7.90 0a3.95 3.95 0 1 0 -7.90 0M618.5 727.2a3.95 3.95 0 1 0 7.90 0a3.95 3.95 0 1 0 -7.90 0M622.4 744.3a3.95 3.95 0 1 0 7.90 0a3.95 3.95 0 1 0 -7.90 0M625.7 761.3a3.95 3.95 0 1 0 7.90 0a3.95 3.95 0 1 0 -7.90 0M628.2 778.4a3.95 3.95 0 1 0 7.90 0a3.95 3.95 0 1 0 -7.90 0M629.9 795.5a3.95 3.95 0 1 0 7.90 0a3.95 3.95 0 1 0 -7.90 0M630.8 812.5a3.95 3.95 0 1 0 7.90 0a3.95 3.95 0 1 0 -7.90 0M522.8 25.1a3.95 3.95 0 1 0 7.90 0a3.95 3.95 0 1 0 -7.90 0M526.0 39.3a3.95 3.95 0 1 0 7.90 0a3.95 3.95 0 1 0 -7.90 0M529.2 53.5a3.95 3.95 0 1 0 7.90 0a3.95 3.95 0 1 0 -7.90 0M532.4 67.7a3.95 3.95 0 1 0 7.90 0a3.95 3.95 0 1 0 -7.90 0M535.5 81.9a3.95 3.95 0 1 0 7.90 0a3.95 3.95 0 1 0 -7.90 0M538.7 96.1a3.95 3.95 0 1 0 7.90 0a3.95 3.95 0 1 0 -7.90 0M541.9 110.3a3.95 3.95 0 1 0 7.90 0a3.95 3.95 0 1 0 -7.90 0M545.1 124.5a3.95 3.95 0 1 0 7.90 0a3.95 3.95 0 1 0 -7.90 0M548.2 138.7a3.95 3.95 0 1 0 7.90 0a3.95 3.95 0 1 0 -7.90 0M551.4 152.9a3.95 3.95 0 1 0 7.90 0a3.95 3.95 0 1 0 -7.90 0M554.6 167.1a3.95 3.95 0 1 0 7.90 0a3.95 3.95 0 1 0 -7.90 0M557.7 181.3a3.95 3.95 0 1 0 7.90 0a3.95 3.95 0 1 0 -7.90 0M560.9 195.5a3.95 3.95 0 1 0 7.90 0a3.95 3.95 0 1 0 -7.90 0M564.1 209.7a3.95 3.95 0 1 0 7.90 0a3.95 3.95 0 1 0 -7.90 0M567.3 223.9a3.95 3.95 0 1 0 7.90 0a3.95 3.95 0 1 0 -7.90 0M570.4 238.1a3.95 3.95 0 1 0 7.90 0a3.95 3.95 0 1 0 -7.90 0M573.6 252.3a3.95 3.95 0 1 0 7.90 0a3.95 3.95 0 1 0 -7.90 0M576.8 266.5a3.95 3.95 0 1 0 7.90 0a3.95 3.95 0 1 0 -7.90 0M580.0 280.7a3.95 3.95 0 1 0 7.90 0a3.95 3.95 0 1 0 -7.90 0M583.1 294.9a3.95 3.95 0 1 0 7.90 0a3.95 3.95 0 1 0 -7.90 0M586.3 309.1a3.95 3.95 0 1 0 7.90 0a3.95 3.95 0 1 0 -7.90 0M589.5 323.3a3.95 3.95 0 1 0 7.90 0a3.95 3.95 0 1 0 -7.90 0M592.6 337.5a3.95 3.95 0 1 0 7.90 0a3.95 3.95 0 1 0 -7.90 0M595.8 351.7a3.95 3.95 0 1 0 7.90 0a3.95 3.95 0 1 0 -7.90 0M599.0 365.9a3.95 3.95 0 1 0 7.90 0a3.95 3.95 0 1 0 -7.90 0M602.2 380.1a3.95 3.95 0 1 0 7.90 0a3.95 3.95 0 1 0 -7.90 0M605.3 394.3a3.95 3.95 0 1 0 7.90 0a3.95 3.95 0 1 0 -7.90 0M608.5 408.5a3.95 3.95 0 1 0 7.90 0a3.95 3.95 0 1 0 -7.90 0M611.7 422.7a3.95 3.95 0 1 0 7.90 0a3.95 3.95 0 1 0 -7.90 0M614.8 436.9a3.95 3.95 0 1 0 7.90 0a3.95 3.95 0 1 0 -7.90 0M618.0 451.1a3.95 3.95 0 1 0 7.90 0a3.95 3.95 0 1 0 -7.90 0M621.2 465.3a3.95 3.95 0 1 0 7.90 0a3.95 3.95 0 1 0 -7.90 0M624.4 479.5a3.95 3.95 0 1 0 7.90 0a3.95 3.95 0 1 0 -7.90 0M627.5 493.7a3.95 3.95 0 1 0 7.90 0a3.95 3.95 0 1 0 -7.90 0M630.7 507.9a3.95 3.95 0 1 0 7.90 0a3.95 3.95 0 1 0 -7.90 0M633.9 522.1a3.95 3.95 0 1 0 7.90 0a3.95 3.95 0 1 0 -7.90 0M637.1 536.3a3.95 3.95 0 1 0 7.90 0a3.95 3.95 0 1 0 -7.90 0M640.3 549.0a3.95 3.95 0 1 0 7.90 0a3.95 3.95 0 1 0 -7.90 0M643.0 561.9a3.95 3.95 0 1 0 7.90 0a3.95 3.95 0 1 0 -7.90 0M645.9 574.7a3.95 3.95 0 1 0 7.90 0a3.95 3.95 0 1 0 -7.90 0M648.8 587.4a3.95 3.95 0 1 0 7.90 0a3.95 3.95 0 1 0 -7.90 0M651.8 599.8a3.95 3.95 0 1 0 7.90 0a3.95 3.95 0 1 0 -7.90 0M654.8 612.5a3.95 3.95 0 1 0 7.90 0a3.95 3.95 0 1 0 -7.90 0M657.5 625.1a3.95 3.95 0 1 0 7.90 0a3.95 3.95 0 1 0 -7.90 0M660.1 637.9a3.95 3.95 0 1 0 7.90 0a3.95 3.95 0 1 0 -7.90 0M662.6 650.4a3.95 3.95 0 1 0 7.90 0a3.95 3.95 0 1 0 -7.90 0M664.1 656.7a3.95 3.95 0 1 0 7.90 0a3.95 3.95 0 1 0 -7.90 0M665.6 663.1a3.95 3.95 0 1 0 7.90 0a3.95 3.95 0 1 0 -7.90 0M667.1 669.4a3.95 3.95 0 1 0 7.90 0a3.95 3.95 0 1 0 -7.90 0M668.6 675.7a3.95 3.95 0 1 0 7.90 0a3.95 3.95 0 1 0 -7.90 0M670.0 682.0a3.95 3.95 0 1 0 7.90 0a3.95 3.95 0 1 0 -7.90 0M671.5 688.4a3.95 3.95 0 1 0 7.90 0a3.95 3.95 0 1 0 -7.90 0M673.0 694.7a3.95 3.95 0 1 0 7.90 0a3.95 3.95 0 1 0 -7.90 0M674.5 701.0a3.95 3.95 0 1 0 7.90 0a3.95 3.95 0 1 0 -7.90 0M675.9 707.4a3.95 3.95 0 1 0 7.90 0a3.95 3.95 0 1 0 -7.90 0M679.0 721.7a3.95 3.95 0 1 0 7.90 0a3.95 3.95 0 1 0 -7.90 0M681.2 735.7a3.95 3.95 0 1 0 7.90 0a3.95 3.95 0 1 0 -7.90 0M680.7 737.9a3.95 3.95 0 1 0 7.90 0a3.95 3.95 0 1 0 -7.90 0M681.9 740.1a3.95 3.95 0 1 0 7.90 0a3.95 3.95 0 1 0 -7.90 0M681.4 742.3a3.95 3.95 0 1 0 7.90 0a3.95 3.95 0 1 0 -7.90 0M682.4 744.6a3.95 3.95 0 1 0 7.90 0a3.95 3.95 0 1 0 -7.90 0M681.4 746.8a3.95 3.95 0 1 0 7.90 0a3.95 3.95 0 1 0 -7.90 0M682.3 749.0a3.95 3.95 0 1 0 7.90 0a3.95 3.95 0 1 0 -7.90 0M683.1 751.2a3.95 3.95 0 1 0 7.90 0a3.95 3.95 0 1 0 -7.90 0M682.2 753.4a3.95 3.95 0 1 0 7.90 0a3.95 3.95 0 1 0 -7.90 0M683.2 755.6a3.95 3.95 0 1 0 7.90 0a3.95 3.95 0 1 0 -7.90 0M682.4 757.8a3.95 3.95 0 1 0 7.90 0a3.95 3.95 0 1 0 -7.90 0M683.4 760.0a3.95 3.95 0 1 0 7.90 0a3.95 3.95 0 1 0 -7.90 0M684.2 762.3a3.95 3.95 0 1 0 7.90 0a3.95 3.95 0 1 0 -7.90 0M683.3 764.5a3.95 3.95 0 1 0 7.90 0a3.95 3.95 0 1 0 -7.90 0M684.2 766.7a3.95 3.95 0 1 0 7.90 0a3.95 3.95 0 1 0 -7.90 0M683.3 768.9a3.95 3.95 0 1 0 7.90 0a3.95 3.95 0 1 0 -7.90 0M684.8 771.1a3.95 3.95 0 1 0 7.90 0a3.95 3.95 0 1 0 -7.90 0M684.4 773.3a3.95 3.95 0 1 0 7.90 0a3.95 3.95 0 1 0 -7.90 0M685.3 775.5a3.95 3.95 0 1 0 7.90 0a3.95 3.95 0 1 0 -7.90 0M684.4 777.7a3.95 3.95 0 1 0 7.90 0a3.95 3.95 0 1 0 -7.90 0M685.3 780.0a3.95 3.95 0 1 0 7.90 0a3.95 3.95 0 1 0 -7.90 0M686.0 782.2a3.95 3.95 0 1 0 7.90 0a3.95 3.95 0 1 0 -7.90 0M685.3 784.4a3.95 3.95 0 1 0 7.90 0a3.95 3.95 0 1 0 -7.90 0M686.1 786.6a3.95 3.95 0 1 0 7.90 0a3.95 3.95 0 1 0 -7.90 0M685.8 806.8a3.95 3.95 0 1 0 7.90 0a3.95 3.95 0 1 0 -7.90 0M685.8 816.5a3.95 3.95 0 1 0 7.90 0a3.95 3.95 0 1 0 -7.90 0M685.8 818.7a3.95 3.95 0 1 0 7.90 0a3.95 3.95 0 1 0 -7.90 0M685.8 820.9a3.95 3.95 0 1 0 7.90 0a3.95 3.95 0 1 0 -7.90 0M893.8 25.1a3.95 3.95 0 1 0 7.90 0a3.95 3.95 0 1 0 -7.90 0M890.3 39.3a3.95 3.95 0 1 0 7.90 0a3.95 3.95 0 1 0 -7.90 0M886.9 53.5a3.95 3.95 0 1 0 7.90 0a3.95 3.95 0 1 0 -7.90 0M883.4 67.7a3.95 3.95 0 1 0 7.90 0a3.95 3.95 0 1 0 -7.90 0M880.0 81.9a3.95 3.95 0 1 0 7.90 0a3.95 3.95 0 1 0 -7.90 0M876.6 96.1a3.95 3.95 0 1 0 7.90 0a3.95 3.95 0 1 0 -7.90 0M873.2 110.3a3.95 3.95 0 1 0 7.90 0a3.95 3.95 0 1 0 -7.90 0M869.8 124.5a3.95 3.95 0 1 0 7.90 0a3.95 3.95 0 1 0 -7.90 0M866.4 138.7a3.95 3.95 0 1 0 7.90 0a3.95 3.95 0 1 0 -7.90 0M863.1 152.9a3.95 3.95 0 1 0 7.90 0a3.95 3.95 0 1 0 -7.90 0M859.7 167.1a3.95 3.95 0 1 0 7.90 0a3.95 3.95 0 1 0 -7.90 0M856.4 181.3a3.95 3.95 0 1 0 7.90 0a3.95 3.95 0 1 0 -7.90 0M853.0 195.5a3.95 3.95 0 1 0 7.90 0a3.95 3.95 0 1 0 -7.90 0M849.7 209.7a3.95 3.95 0 1 0 7.90 0a3.95 3.95 0 1 0 -7.90 0M846.4 223.9a3.95 3.95 0 1 0 7.90 0a3.95 3.95 0 1 0 -7.90 0M843.1 238.1a3.95 3.95 0 1 0 7.90 0a3.95 3.95 0 1 0 -7.90 0M839.7 252.3a3.95 3.95 0 1 0 7.90 0a3.95 3.95 0 1 0 -7.90 0M829.8 294.9a3.95 3.95 0 1 0 7.90 0a3.95 3.95 0 1 0 -7.90 0M826.5 309.1a3.95 3.95 0 1 0 7.90 0a3.95 3.95 0 1 0 -7.90 0M823.2 323.3a3.95 3.95 0 1 0 7.90 0a3.95 3.95 0 1 0 -7.90 0M819.8 337.5a3.95 3.95 0 1 0 7.90 0a3.95 3.95 0 1 0 -7.90 0M816.5 351.7a3.95 3.95 0 1 0 7.90 0a3.95 3.95 0 1 0 -7.90 0M813.2 365.9a3.95 3.95 0 1 0 7.90 0a3.95 3.95 0 1 0 -7.90 0M809.8 380.1a3.95 3.95 0 1 0 7.90 0a3.95 3.95 0 1 0 -7.90 0M806.5 394.3a3.95 3.95 0 1 0 7.90 0a3.95 3.95 0 1 0 -7.90 0M803.1 408.5a3.95 3.95 0 1 0 7.90 0a3.95 3.95 0 1 0 -7.90 0M799.8 422.7a3.95 3.95 0 1 0 7.90 0a3.95 3.95 0 1 0 -7.90 0M796.4 436.9a3.95 3.95 0 1 0 7.90 0a3.95 3.95 0 1 0 -7.90 0M793.0 451.1a3.95 3.95 0 1 0 7.90 0a3.95 3.95 0 1 0 -7.90 0M789.6 465.3a3.95 3.95 0 1 0 7.90 0a3.95 3.95 0 1 0 -7.90 0M786.2 479.5a3.95 3.95 0 1 0 7.90 0a3.95 3.95 0 1 0 -7.90 0M782.8 493.7a3.95 3.95 0 1 0 7.90 0a3.95 3.95 0 1 0 -7.90 0M779.4 507.9a3.95 3.95 0 1 0 7.90 0a3.95 3.95 0 1 0 -7.90 0M775.9 522.1a3.95 3.95 0 1 0 7.90 0a3.95 3.95 0 1 0 -7.90 0M772.4 536.3a3.95 3.95 0 1 0 7.90 0a3.95 3.95 0 1 0 -7.90 0M768.9 550.5a3.95 3.95 0 1 0 7.90 0a3.95 3.95 0 1 0 -7.90 0M765.4 564.7a3.95 3.95 0 1 0 7.90 0a3.95 3.95 0 1 0 -7.90 0M761.9 578.9a3.95 3.95 0 1 0 7.90 0a3.95 3.95 0 1 0 -7.90 0M759.3 596.3a3.95 3.95 0 1 0 7.90 0a3.95 3.95 0 1 0 -7.90 0M758.3 602.0a3.95 3.95 0 1 0 7.90 0a3.95 3.95 0 1 0 -7.90 0M757.2 607.7a3.95 3.95 0 1 0 7.90 0a3.95 3.95 0 1 0 -7.90 0M756.1 613.3a3.95 3.95 0 1 0 7.90 0a3.95 3.95 0 1 0 -7.90 0M754.9 619.0a3.95 3.95 0 1 0 7.90 0a3.95 3.95 0 1 0 -7.90 0M753.8 624.7a3.95 3.95 0 1 0 7.90 0a3.95 3.95 0 1 0 -7.90 0M752.6 630.4a3.95 3.95 0 1 0 7.90 0a3.95 3.95 0 1 0 -7.90 0M751.4 636.0a3.95 3.95 0 1 0 7.90 0a3.95 3.95 0 1 0 -7.90 0M750.1 641.7a3.95 3.95 0 1 0 7.90 0a3.95 3.95 0 1 0 -7.90 0M748.9 647.4a3.95 3.95 0 1 0 7.90 0a3.95 3.95 0 1 0 -7.90 0M747.6 653.0a3.95 3.95 0 1 0 7.90 0a3.95 3.95 0 1 0 -7.90 0M746.4 658.7a3.95 3.95 0 1 0 7.90 0a3.95 3.95 0 1 0 -7.90 0M745.1 664.4a3.95 3.95 0 1 0 7.90 0a3.95 3.95 0 1 0 -7.90 0M743.9 670.0a3.95 3.95 0 1 0 7.90 0a3.95 3.95 0 1 0 -7.90 0M742.6 675.7a3.95 3.95 0 1 0 7.90 0a3.95 3.95 0 1 0 -7.90 0M741.4 681.4a3.95 3.95 0 1 0 7.90 0a3.95 3.95 0 1 0 -7.90 0M740.1 687.1a3.95 3.95 0 1 0 7.90 0a3.95 3.95 0 1 0 -7.90 0M738.8 692.7a3.95 3.95 0 1 0 7.90 0a3.95 3.95 0 1 0 -7.90 0M737.5 698.4a3.95 3.95 0 1 0 7.90 0a3.95 3.95 0 1 0 -7.90 0M736.2 704.1a3.95 3.95 0 1 0 7.90 0a3.95 3.95 0 1 0 -7.90 0M734.9 709.7a3.95 3.95 0 1 0 7.90 0a3.95 3.95 0 1 0 -7.90 0M733.7 715.4a3.95 3.95 0 1 0 7.90 0a3.95 3.95 0 1 0 -7.90 0M732.6 721.1a3.95 3.95 0 1 0 7.90 0a3.95 3.95 0 1 0 -7.90 0M731.4 726.7a3.95 3.95 0 1 0 7.90 0a3.95 3.95 0 1 0 -7.90 0M730.3 732.4a3.95 3.95 0 1 0 7.90 0a3.95 3.95 0 1 0 -7.90 0M729.1 738.1a3.95 3.95 0 1 0 7.90 0a3.95 3.95 0 1 0 -7.90 0M727.9 743.8a3.95 3.95 0 1 0 7.90 0a3.95 3.95 0 1 0 -7.90 0M761.2 593.5a3.95 3.95 0 1 0 7.90 0a3.95 3.95 0 1 0 -7.90 0M760.1 599.2a3.95 3.95 0 1 0 7.90 0a3.95 3.95 0 1 0 -7.90 0M759.0 604.8a3.95 3.95 0 1 0 7.90 0a3.95 3.95 0 1 0 -7.90 0M757.9 610.5a3.95 3.95 0 1 0 7.90 0a3.95 3.95 0 1 0 -7.90 0M756.8 616.2a3.95 3.95 0 1 0 7.90 0a3.95 3.95 0 1 0 -7.90 0M755.7 621.9a3.95 3.95 0 1 0 7.90 0a3.95 3.95 0 1 0 -7.90 0M754.5 627.5a3.95 3.95 0 1 0 7.90 0a3.95 3.95 0 1 0 -7.90 0M753.3 633.2a3.95 3.95 0 1 0 7.90 0a3.95 3.95 0 1 0 -7.90 0M752.1 638.9a3.95 3.95 0 1 0 7.90 0a3.95 3.95 0 1 0 -7.90 0M750.8 644.5a3.95 3.95 0 1 0 7.90 0a3.95 3.95 0 1 0 -7.90 0M749.6 650.2a3.95 3.95 0 1 0 7.90 0a3.95 3.95 0 1 0 -7.90 0M748.3 655.9a3.95 3.95 0 1 0 7.90 0a3.95 3.95 0 1 0 -7.90 0M747.1 661.5a3.95 3.95 0 1 0 7.90 0a3.95 3.95 0 1 0 -7.90 0M745.8 667.2a3.95 3.95 0 1 0 7.90 0a3.95 3.95 0 1 0 -7.90 0M744.6 672.9a3.95 3.95 0 1 0 7.90 0a3.95 3.95 0 1 0 -7.90 0M743.3 678.5a3.95 3.95 0 1 0 7.90 0a3.95 3.95 0 1 0 -7.90 0M742.0 684.2a3.95 3.95 0 1 0 7.90 0a3.95 3.95 0 1 0 -7.90 0M740.8 689.9a3.95 3.95 0 1 0 7.90 0a3.95 3.95 0 1 0 -7.90 0M739.5 695.6a3.95 3.95 0 1 0 7.90 0a3.95 3.95 0 1 0 -7.90 0M738.2 701.2a3.95 3.95 0 1 0 7.90 0a3.95 3.95 0 1 0 -7.90 0M736.9 706.9a3.95 3.95 0 1 0 7.90 0a3.95 3.95 0 1 0 -7.90 0M735.6 712.6a3.95 3.95 0 1 0 7.90 0a3.95 3.95 0 1 0 -7.90 0M734.4 718.2a3.95 3.95 0 1 0 7.90 0a3.95 3.95 0 1 0 -7.90 0M733.3 723.9a3.95 3.95 0 1 0 7.90 0a3.95 3.95 0 1 0 -7.90 0M732.1 729.6a3.95 3.95 0 1 0 7.90 0a3.95 3.95 0 1 0 -7.90 0M731.0 735.2a3.95 3.95 0 1 0 7.90 0a3.95 3.95 0 1 0 -7.90 0M729.8 740.9a3.95 3.95 0 1 0 7.90 0a3.95 3.95 0 1 0 -7.90 0M729.2 743.8a3.95 3.95 0 1 0 7.90 0a3.95 3.95 0 1 0 -7.90 0M728.6 746.7a3.95 3.95 0 1 0 7.90 0a3.95 3.95 0 1 0 -7.90 0M728.0 749.6a3.95 3.95 0 1 0 7.90 0a3.95 3.95 0 1 0 -7.90 0M727.7 752.5a3.95 3.95 0 1 0 7.90 0a3.95 3.95 0 1 0 -7.90 0M727.3 755.4a3.95 3.95 0 1 0 7.90 0a3.95 3.95 0 1 0 -7.90 0M726.9 758.3a3.95 3.95 0 1 0 7.90 0a3.95 3.95 0 1 0 -7.90 0M726.5 761.2a3.95 3.95 0 1 0 7.90 0a3.95 3.95 0 1 0 -7.90 0M726.2 764.1a3.95 3.95 0 1 0 7.90 0a3.95 3.95 0 1 0 -7.90 0M724.4 775.0a3.95 3.95 0 1 0 7.90 0a3.95 3.95 0 1 0 -7.90 0M724.1 778.1a3.95 3.95 0 1 0 7.90 0a3.95 3.95 0 1 0 -7.90 0M723.8 781.2a3.95 3.95 0 1 0 7.90 0a3.95 3.95 0 1 0 -7.90 0M723.5 784.3a3.95 3.95 0 1 0 7.90 0a3.95 3.95 0 1 0 -7.90 0M723.2 787.4a3.95 3.95 0 1 0 7.90 0a3.95 3.95 0 1 0 -7.90 0M722.9 790.5a3.95 3.95 0 1 0 7.90 0a3.95 3.95 0 1 0 -7.90 0M722.5 793.6a3.95 3.95 0 1 0 7.90 0a3.95 3.95 0 1 0 -7.90 0M720.8 804.5a3.95 3.95 0 1 0 7.90 0a3.95 3.95 0 1 0 -7.90 0M720.8 806.9a3.95 3.95 0 1 0 7.90 0a3.95 3.95 0 1 0 -7.90 0M720.8 809.3a3.95 3.95 0 1 0 7.90 0a3.95 3.95 0 1 0 -7.90 0M720.8 811.7a3.95 3.95 0 1 0 7.90 0a3.95 3.95 0 1 0 -7.90 0M720.8 814.1a3.95 3.95 0 1 0 7.90 0a3.95 3.95 0 1 0 -7.90 0M720.8 816.5a3.95 3.95 0 1 0 7.90 0a3.95 3.95 0 1 0 -7.90 0M720.8 818.9a3.95 3.95 0 1 0 7.90 0a3.95 3.95 0 1 0 -7.90 0M720.8 821.3a3.95 3.95 0 1 0 7.90 0a3.95 3.95 0 1 0 -7.90 0M1101.4 25.1a3.95 3.95 0 1 0 7.90 0a3.95 3.95 0 1 0 -7.90 0M1088.1 53.5a3.95 3.95 0 1 0 7.90 0a3.95 3.95 0 1 0 -7.90 0M1074.8 81.9a3.95 3.95 0 1 0 7.90 0a3.95 3.95 0 1 0 -7.90 0M1061.5 110.3a3.95 3.95 0 1 0 7.90 0a3.95 3.95 0 1 0 -7.90 0M1048.4 138.7a3.95 3.95 0 1 0 7.90 0a3.95 3.95 0 1 0 -7.90 0M1035.3 167.1a3.95 3.95 0 1 0 7.90 0a3.95 3.95 0 1 0 -7.90 0M1022.2 195.5a3.95 3.95 0 1 0 7.90 0a3.95 3.95 0 1 0 -7.90 0M1009.2 223.9a3.95 3.95 0 1 0 7.90 0a3.95 3.95 0 1 0 -7.90 0M996.2 252.3a3.95 3.95 0 1 0 7.90 0a3.95 3.95 0 1 0 -7.90 0M983.3 280.7a3.95 3.95 0 1 0 7.90 0a3.95 3.95 0 1 0 -7.90 0M976.9 294.9a3.95 3.95 0 1 0 7.90 0a3.95 3.95 0 1 0 -7.90 0M970.5 309.1a3.95 3.95 0 1 0 7.90 0a3.95 3.95 0 1 0 -7.90 0M964.1 323.3a3.95 3.95 0 1 0 7.90 0a3.95 3.95 0 1 0 -7.90 0M957.7 337.5a3.95 3.95 0 1 0 7.90 0a3.95 3.95 0 1 0 -7.90 0M951.4 351.7a3.95 3.95 0 1 0 7.90 0a3.95 3.95 0 1 0 -7.90 0M831.3 607.6a3.95 3.95 0 1 0 7.90 0a3.95 3.95 0 1 0 -7.90 0M945.2 365.7a3.95 3.95 0 1 0 7.90 0a3.95 3.95 0 1 0 -7.90 0M943.9 368.6a3.95 3.95 0 1 0 7.90 0a3.95 3.95 0 1 0 -7.90 0M942.6 371.5a3.95 3.95 0 1 0 7.90 0a3.95 3.95 0 1 0 -7.90 0M941.3 374.4a3.95 3.95 0 1 0 7.90 0a3.95 3.95 0 1 0 -7.90 0M940.0 377.3a3.95 3.95 0 1 0 7.90 0a3.95 3.95 0 1 0 -7.90 0M938.6 380.2a3.95 3.95 0 1 0 7.90 0a3.95 3.95 0 1 0 -7.90 0M937.3 383.1a3.95 3.95 0 1 0 7.90 0a3.95 3.95 0 1 0 -7.90 0M936.0 386.0a3.95 3.95 0 1 0 7.90 0a3.95 3.95 0 1 0 -7.90 0M934.7 388.9a3.95 3.95 0 1 0 7.90 0a3.95 3.95 0 1 0 -7.90 0M933.4 391.8a3.95 3.95 0 1 0 7.90 0a3.95 3.95 0 1 0 -7.90 0M932.0 394.7a3.95 3.95 0 1 0 7.90 0a3.95 3.95 0 1 0 -7.90 0M930.7 397.6a3.95 3.95 0 1 0 7.90 0a3.95 3.95 0 1 0 -7.90 0M929.4 400.5a3.95 3.95 0 1 0 7.90 0a3.95 3.95 0 1 0 -7.90 0M928.1 403.4a3.95 3.95 0 1 0 7.90 0a3.95 3.95 0 1 0 -7.90 0M926.7 406.3a3.95 3.95 0 1 0 7.90 0a3.95 3.95 0 1 0 -7.90 0M925.4 409.2a3.95 3.95 0 1 0 7.90 0a3.95 3.95 0 1 0 -7.90 0M924.1 412.1a3.95 3.95 0 1 0 7.90 0a3.95 3.95 0 1 0 -7.90 0M922.8 415.0a3.95 3.95 0 1 0 7.90 0a3.95 3.95 0 1 0 -7.90 0M921.5 417.9a3.95 3.95 0 1 0 7.90 0a3.95 3.95 0 1 0 -7.90 0M920.1 420.8a3.95 3.95 0 1 0 7.90 0a3.95 3.95 0 1 0 -7.90 0M918.8 423.7a3.95 3.95 0 1 0 7.90 0a3.95 3.95 0 1 0 -7.90 0M915.8 430.2a3.95 3.95 0 1 0 7.90 0a3.95 3.95 0 1 0 -7.90 0M912.5 437.3a3.95 3.95 0 1 0 7.90 0a3.95 3.95 0 1 0 -7.90 0M909.2 444.4a3.95 3.95 0 1 0 7.90 0a3.95 3.95 0 1 0 -7.90 0M906.0 451.5a3.95 3.95 0 1 0 7.90 0a3.95 3.95 0 1 0 -7.90 0M902.9 458.6a3.95 3.95 0 1 0 7.90 0a3.95 3.95 0 1 0 -7.90 0M899.7 465.7a3.95 3.95 0 1 0 7.90 0a3.95 3.95 0 1 0 -7.90 0M896.5 472.8a3.95 3.95 0 1 0 7.90 0a3.95 3.95 0 1 0 -7.90 0M893.4 479.9a3.95 3.95 0 1 0 7.90 0a3.95 3.95 0 1 0 -7.90 0M890.2 487.0a3.95 3.95 0 1 0 7.90 0a3.95 3.95 0 1 0 -7.90 0M887.0 494.1a3.95 3.95 0 1 0 7.90 0a3.95 3.95 0 1 0 -7.90 0M883.9 501.2a3.95 3.95 0 1 0 7.90 0a3.95 3.95 0 1 0 -7.90 0M880.7 508.3a3.95 3.95 0 1 0 7.90 0a3.95 3.95 0 1 0 -7.90 0M877.5 515.4a3.95 3.95 0 1 0 7.90 0a3.95 3.95 0 1 0 -7.90 0M874.4 522.5a3.95 3.95 0 1 0 7.90 0a3.95 3.95 0 1 0 -7.90 0M871.2 529.6a3.95 3.95 0 1 0 7.90 0a3.95 3.95 0 1 0 -7.90 0M868.2 536.7a3.95 3.95 0 1 0 7.90 0a3.95 3.95 0 1 0 -7.90 0M866.4 541.1a3.95 3.95 0 1 0 7.90 0a3.95 3.95 0 1 0 -7.90 0M865.2 544.0a3.95 3.95 0 1 0 7.90 0a3.95 3.95 0 1 0 -7.90 0M864.0 546.9a3.95 3.95 0 1 0 7.90 0a3.95 3.95 0 1 0 -7.90 0M862.8 549.8a3.95 3.95 0 1 0 7.90 0a3.95 3.95 0 1 0 -7.90 0M861.6 552.7a3.95 3.95 0 1 0 7.90 0a3.95 3.95 0 1 0 -7.90 0M860.4 555.6a3.95 3.95 0 1 0 7.90 0a3.95 3.95 0 1 0 -7.90 0M859.2 558.5a3.95 3.95 0 1 0 7.90 0a3.95 3.95 0 1 0 -7.90 0M858.0 561.4a3.95 3.95 0 1 0 7.90 0a3.95 3.95 0 1 0 -7.90 0M856.8 564.3a3.95 3.95 0 1 0 7.90 0a3.95 3.95 0 1 0 -7.90 0M855.6 567.2a3.95 3.95 0 1 0 7.90 0a3.95 3.95 0 1 0 -7.90 0M854.4 570.1a3.95 3.95 0 1 0 7.90 0a3.95 3.95 0 1 0 -7.90 0M853.2 573.0a3.95 3.95 0 1 0 7.90 0a3.95 3.95 0 1 0 -7.90 0M852.0 575.9a3.95 3.95 0 1 0 7.90 0a3.95 3.95 0 1 0 -7.90 0M850.7 578.8a3.95 3.95 0 1 0 7.90 0a3.95 3.95 0 1 0 -7.90 0M849.6 581.7a3.95 3.95 0 1 0 7.90 0a3.95 3.95 0 1 0 -7.90 0M848.4 584.6a3.95 3.95 0 1 0 7.90 0a3.95 3.95 0 1 0 -7.90 0M847.2 587.5a3.95 3.95 0 1 0 7.90 0a3.95 3.95 0 1 0 -7.90 0M846.0 590.4a3.95 3.95 0 1 0 7.90 0a3.95 3.95 0 1 0 -7.90 0M844.8 593.3a3.95 3.95 0 1 0 7.90 0a3.95 3.95 0 1 0 -7.90 0M843.6 596.2a3.95 3.95 0 1 0 7.90 0a3.95 3.95 0 1 0 -7.90 0M842.4 599.1a3.95 3.95 0 1 0 7.90 0a3.95 3.95 0 1 0 -7.90 0M841.2 602.0a3.95 3.95 0 1 0 7.90 0a3.95 3.95 0 1 0 -7.90 0M840.0 604.9a3.95 3.95 0 1 0 7.90 0a3.95 3.95 0 1 0 -7.90 0M838.8 607.8a3.95 3.95 0 1 0 7.90 0a3.95 3.95 0 1 0 -7.90 0M826.0 622.0a3.95 3.95 0 1 0 7.90 0a3.95 3.95 0 1 0 -7.90 0M820.9 636.3a3.95 3.95 0 1 0 7.90 0a3.95 3.95 0 1 0 -7.90 0M815.7 650.5a3.95 3.95 0 1 0 7.90 0a3.95 3.95 0 1 0 -7.90 0M810.6 664.8a3.95 3.95 0 1 0 7.90 0a3.95 3.95 0 1 0 -7.90 0M805.8 678.8a3.95 3.95 0 1 0 7.90 0a3.95 3.95 0 1 0 -7.90 0M801.0 693.1a3.95 3.95 0 1 0 7.90 0a3.95 3.95 0 1 0 -7.90 0M796.5 707.4a3.95 3.95 0 1 0 7.90 0a3.95 3.95 0 1 0 -7.90 0M792.3 721.6a3.95 3.95 0 1 0 7.90 0a3.95 3.95 0 1 0 -7.90 0M788.5 735.9a3.95 3.95 0 1 0 7.90 0a3.95 3.95 0 1 0 -7.90 0M785.2 750.1a3.95 3.95 0 1 0 7.90 0a3.95 3.95 0 1 0 -7.90 0M782.5 764.2a3.95 3.95 0 1 0 7.90 0a3.95 3.95 0 1 0 -7.90 0M780.3 778.4a3.95 3.95 0 1 0 7.90 0a3.95 3.95 0 1 0 -7.90 0M778.8 792.6a3.95 3.95 0 1 0 7.90 0a3.95 3.95 0 1 0 -7.90 0M778.0 806.9a3.95 3.95 0 1 0 7.90 0a3.95 3.95 0 1 0 -7.90 0M778.1 820.9a3.95 3.95 0 1 0 7.90 0a3.95 3.95 0 1 0 -7.90 0"/>
<g font-family="'Liberation Sans',Arial,Helvetica,sans-serif" fill="#262626" stroke="#262626" stroke-width="0.35">
<text transform="translate(-3.3 35.2) scale(1 1.010)" font-size="47.5" fill="#000" stroke="#000" stroke-width="0.7">(a)</text>
<text transform="translate(173.0 29.2) scale(1 1.050)" font-size="39.4" text-anchor="end">0.25</text>
<text transform="translate(173.0 190.4) scale(1 1.050)" font-size="39.4" text-anchor="end">0.2</text>
<text transform="translate(173.0 351.6) scale(1 1.050)" font-size="39.4" text-anchor="end">0.15</text>
<text transform="translate(173.0 512.8) scale(1 1.050)" font-size="39.4" text-anchor="end">0.1</text>
<text transform="translate(173.0 674.0) scale(1 1.050)" font-size="39.4" text-anchor="end">0.05</text>
<text transform="translate(173.0 835.2) scale(1 1.050)" font-size="39.4" text-anchor="end">0</text>
<text transform="translate(186.2 876.5) scale(1 1.050)" font-size="39.4" text-anchor="middle">-30</text>
<text transform="translate(358.6 876.5) scale(1 1.050)" font-size="39.4" text-anchor="middle">-20</text>
<text transform="translate(530.9 876.5) scale(1 1.050)" font-size="39.4" text-anchor="middle">-10</text>
<text transform="translate(704.8 876.5) scale(1 1.050)" font-size="39.4" text-anchor="middle">0</text>
<text transform="translate(877.2 876.5) scale(1 1.050)" font-size="39.4" text-anchor="middle">10</text>
<text transform="translate(1049.5 876.5) scale(1 1.050)" font-size="39.4" text-anchor="middle">20</text>
<text transform="translate(1221.9 876.5) scale(1 1.050)" font-size="39.4" text-anchor="middle">30</text>
<text transform="translate(707.2 932.6) scale(1 1.030)" font-size="43.15" text-anchor="middle">Optical frequency (+194884.80 GHz)</text>
<text transform="translate(74.3 418.5) rotate(-90) scale(1 1.040)" font-size="43" text-anchor="middle">Applied field (T)</text>
<text transform="translate(859.3 65) scale(1 0.95)" font-size="67" fill="#000" stroke="#000" stroke-width="0.8" text-anchor="middle">*</text>
<text transform="translate(924.7 65) scale(1 0.95)" font-size="67" fill="#000" stroke="#000" stroke-width="0.8" text-anchor="middle">*</text>
<text transform="translate(1066.1 65) scale(1 0.95)" font-size="67" fill="#000" stroke="#000" stroke-width="0.8" text-anchor="middle">*</text>
<text transform="translate(1134.9 65) scale(1 0.95)" font-size="67" fill="#000" stroke="#000" stroke-width="0.8" text-anchor="middle">*</text>
<text transform="translate(39.2 1063.5) scale(1 1.010)" font-size="47.5" fill="#000" stroke="#000" stroke-width="0.7">(b)</text>
<text transform="translate(237.0 1070.8) scale(1 1.050)" font-size="42.3" text-anchor="end">0.08</text>
<text transform="translate(237.0 1203.2) scale(1 1.050)" font-size="42.3" text-anchor="end">0.06</text>
<text transform="translate(237.0 1335.6) scale(1 1.050)" font-size="42.3" text-anchor="end">0.04</text>
<text transform="translate(237.0 1468.0) scale(1 1.050)" font-size="42.3" text-anchor="end">0.02</text>
<text transform="translate(237.0 1600.4) scale(1 1.050)" font-size="42.3" text-anchor="end">0</text>
<text transform="translate(267.2 1644.2) scale(1 1.050)" font-size="42.3" text-anchor="middle">0</text>
<text transform="translate(440.5 1644.2) scale(1 1.050)" font-size="42.3" text-anchor="middle">2</text>
<text transform="translate(613.8 1644.2) scale(1 1.050)" font-size="42.3" text-anchor="middle">4</text>
<text transform="translate(443.9 1705.6) scale(1 1.030)" font-size="46.4" text-anchor="middle">Frequency (GHz)</text>
<text transform="translate(129.3 1320.3) rotate(-90) scale(1 1.020)" font-size="46.5" text-anchor="middle">Magnetic field (T)</text>
<text transform="translate(670.0 1063.5) scale(1 1.010)" font-size="47.5" fill="#000" stroke="#000" stroke-width="0.7">(c)</text>
<text transform="translate(838.0 1070.8) scale(1 1.050)" font-size="42.3" text-anchor="end">0.08</text>
<text transform="translate(838.0 1203.2) scale(1 1.050)" font-size="42.3" text-anchor="end">0.06</text>
<text transform="translate(838.0 1335.6) scale(1 1.050)" font-size="42.3" text-anchor="end">0.04</text>
<text transform="translate(838.0 1468.0) scale(1 1.050)" font-size="42.3" text-anchor="end">0.02</text>
<text transform="translate(838.0 1600.4) scale(1 1.050)" font-size="42.3" text-anchor="end">0</text>
<text transform="translate(866.9 1644.2) scale(1 1.050)" font-size="42.3" text-anchor="middle">0</text>
<text transform="translate(1041.1 1644.2) scale(1 1.050)" font-size="42.3" text-anchor="middle">2</text>
<text transform="translate(1215.3 1644.2) scale(1 1.050)" font-size="42.3" text-anchor="middle">4</text>
<text transform="translate(1044.3 1705.8) scale(1 1.030)" font-size="46.4" text-anchor="middle">Frequency (GHz)</text>
<text transform="translate(729.3 1320.3) rotate(-90) scale(1 1.020)" font-size="46.5" text-anchor="middle">Magnetic field (T)</text>
</g>
<g stroke="#262626" stroke-width="1.5" fill="none">
<rect x="855.60" y="1054.20" width="371.90" height="529.50"/>
<path d="M1215.3 1054.20v5.6M1215.3 1583.70v-5.6M1227.50 1451.30h-5.8M1227.50 1318.90h-5.8M1227.50 1186.50h-5.8"/>
</g>
<g stroke-width="13.54" fill="none" shape-rendering="crispEdges">
<path stroke="#440154" d="M974.6 1113.8h5.01M1165.0 1153.5h5.01M1112.6 1166.7h5.01M1179.3 1193.2h5.01M908.0 1232.9h5.01M912.7 1232.9h5.01M1050.8 1232.9h5.01M869.9 1259.4h5.01M1141.2 1259.4h5.01M1198.3 1285.9h5.01M908.0 1378.6h5.01M1060.3 1391.8h5.01M893.7 1418.3h5.01M898.4 1418.3h5.01M903.2 1418.3h5.01M1079.3 1444.8h5.01M1198.3 1444.8h5.01M1007.9 1471.3h5.01M912.7 1484.5h5.01M974.6 1484.5h5.01M1084.1 1484.5h5.01M912.7 1497.7h5.01M965.1 1524.2h5.01M984.1 1524.2h5.01M998.4 1524.2h5.01M941.3 1550.7h5.01M1022.2 1550.7h5.01M1027.0 1550.7h5.01M888.9 1563.9h5.01M1022.2 1577.2h5.01M1036.5 1577.2h5.01"/>
<path stroke="#460a5d" d="M1112.6 1074.1h5.01M860.4 1100.5h5.01M1074.6 1100.5h5.01M1103.1 1113.8h5.01M1169.8 1153.5h5.01M1074.6 1166.7h5.01M979.4 1193.2h5.01M950.8 1219.7h5.01M898.4 1272.7h5.01M1179.3 1272.7h5.01M974.6 1285.9h5.01M1079.3 1338.9h5.01M946.0 1352.1h5.01M1050.8 1378.6h5.01M1074.6 1391.8h5.01M1079.3 1391.8h5.01M998.4 1405.1h5.01M1046.0 1431.5h5.01M969.8 1444.8h5.01M1074.6 1444.8h5.01M1027.0 1458.0h5.01M1036.5 1458.0h5.01M1055.5 1458.0h5.01M922.2 1471.3h5.01M1031.7 1484.5h5.01M1079.3 1484.5h5.01M1107.9 1484.5h5.01M917.5 1497.7h5.01M1184.0 1497.7h5.01M1003.2 1511.0h5.01M1193.6 1511.0h5.01M1012.7 1524.2h5.01M1203.1 1537.5h5.01M946.0 1550.7h5.01M984.1 1550.7h5.01M998.4 1550.7h5.01M1017.4 1577.2h5.01M1027.0 1577.2h5.01"/>
<path stroke="#481467" d="M965.1 1060.8h5.01M979.4 1060.8h5.01M1198.3 1087.3h5.01M865.1 1100.5h5.01M898.4 1100.5h5.01M1193.6 1100.5h5.01M888.9 1113.8h5.01M1065.0 1113.8h5.01M1069.8 1113.8h5.01M1131.7 1113.8h5.01M1136.4 1113.8h5.01M927.0 1127.0h5.01M922.2 1140.3h5.01M1007.9 1140.3h5.01M922.2 1153.5h5.01M936.5 1153.5h5.01M1041.2 1153.5h5.01M1046.0 1153.5h5.01M1122.2 1153.5h5.01M1146.0 1153.5h5.01M1079.3 1166.7h5.01M1136.4 1180.0h5.01M974.6 1193.2h5.01M1036.5 1193.2h5.01M1041.2 1193.2h5.01M1112.6 1193.2h5.01M1122.2 1193.2h5.01M1174.5 1193.2h5.01M1169.8 1206.5h5.01M969.8 1219.7h5.01M974.6 1219.7h5.01M879.4 1232.9h5.01M884.2 1232.9h5.01M1036.5 1232.9h5.01M865.1 1246.2h5.01M917.5 1246.2h5.01M969.8 1259.4h5.01M979.4 1259.4h5.01M1065.0 1259.4h5.01M893.7 1272.7h5.01M969.8 1285.9h5.01M1065.0 1285.9h5.01M1193.6 1285.9h5.01M874.6 1299.1h5.01M1022.2 1299.1h5.01M1169.8 1299.1h5.01M917.5 1312.4h5.01M1160.2 1312.4h5.01M1027.0 1325.6h5.01M1041.2 1325.6h5.01M1174.5 1325.6h5.01M927.0 1338.9h5.01M946.0 1338.9h5.01M1155.5 1338.9h5.01M969.8 1352.1h5.01M1041.2 1352.1h5.01M1046.0 1352.1h5.01M1017.4 1365.3h5.01M1088.8 1365.3h5.01M869.9 1378.6h5.01M903.2 1378.6h5.01M912.7 1378.6h5.01M917.5 1378.6h5.01M1036.5 1378.6h5.01M1017.4 1391.8h5.01M993.6 1405.1h5.01M1141.2 1405.1h5.01M984.1 1418.3h5.01M1017.4 1418.3h5.01M1022.2 1418.3h5.01M1055.5 1418.3h5.01M893.7 1431.5h5.01M869.9 1444.8h5.01M917.5 1444.8h5.01M1193.6 1444.8h5.01M1122.2 1458.0h5.01M1160.2 1458.0h5.01M1165.0 1458.0h5.01M927.0 1471.3h5.01M950.8 1471.3h5.01M955.6 1471.3h5.01M960.3 1471.3h5.01M1041.2 1471.3h5.01M893.7 1484.5h5.01M903.2 1484.5h5.01M950.8 1484.5h5.01M1027.0 1484.5h5.01M1088.8 1484.5h5.01M903.2 1497.7h5.01M922.2 1497.7h5.01M1065.0 1497.7h5.01M1179.3 1497.7h5.01M917.5 1511.0h5.01M960.3 1524.2h5.01M988.9 1524.2h5.01M1117.4 1537.5h5.01M917.5 1550.7h5.01M927.0 1550.7h5.01M950.8 1550.7h5.01M969.8 1550.7h5.01M1007.9 1550.7h5.01M1031.7 1550.7h5.01M1136.4 1550.7h5.01M879.4 1563.9h5.01M1131.7 1563.9h5.01M1050.8 1577.2h5.01M1069.8 1577.2h5.01M1179.3 1577.2h5.01"/>
<path stroke="#481c6e" d="M946.0 1060.8h5.01M960.3 1060.8h5.01M984.1 1060.8h5.01M1055.5 1060.8h5.01M1065.0 1060.8h5.01M1069.8 1060.8h5.01M1126.9 1060.8h5.01M898.4 1074.1h5.01M927.0 1074.1h5.01M1198.3 1074.1h5.01M927.0 1087.3h5.01M1041.2 1087.3h5.01M855.6 1100.5h5.01M927.0 1100.5h5.01M931.8 1100.5h5.01M1069.8 1100.5h5.01M1131.7 1100.5h5.01M1188.8 1100.5h5.01M908.0 1127.0h5.01M1060.3 1127.0h5.01M1079.3 1127.0h5.01M1160.2 1127.0h5.01M1174.5 1127.0h5.01M888.9 1140.3h5.01M979.4 1140.3h5.01M1093.6 1140.3h5.01M888.9 1153.5h5.01M893.7 1153.5h5.01M1036.5 1153.5h5.01M1088.8 1153.5h5.01M1155.5 1153.5h5.01M931.8 1166.7h5.01M1117.4 1166.7h5.01M998.4 1180.0h5.01M1069.8 1180.0h5.01M1155.5 1180.0h5.01M1160.2 1180.0h5.01M1198.3 1180.0h5.01M922.2 1193.2h5.01M946.0 1193.2h5.01M984.1 1193.2h5.01M988.9 1193.2h5.01M1003.2 1193.2h5.01M1074.6 1193.2h5.01M1126.9 1193.2h5.01M974.6 1206.5h5.01M1112.6 1206.5h5.01M1131.7 1206.5h5.01M1174.5 1219.7h5.01M941.3 1232.9h5.01M1084.1 1232.9h5.01M903.2 1246.2h5.01M1036.5 1246.2h5.01M865.1 1259.4h5.01M1184.0 1259.4h5.01M1193.6 1259.4h5.01M855.6 1272.7h5.01M912.7 1272.7h5.01M984.1 1272.7h5.01M988.9 1272.7h5.01M1065.0 1272.7h5.01M1174.5 1272.7h5.01M874.6 1285.9h5.01M879.4 1285.9h5.01M993.6 1285.9h5.01M1060.3 1285.9h5.01M1098.4 1285.9h5.01M1141.2 1285.9h5.01M1150.7 1285.9h5.01M950.8 1299.1h5.01M1165.0 1299.1h5.01M1165.0 1312.4h5.01M988.9 1325.6h5.01M1031.7 1325.6h5.01M1046.0 1325.6h5.01M1074.6 1325.6h5.01M1184.0 1325.6h5.01M955.6 1338.9h5.01M917.5 1352.1h5.01M941.3 1352.1h5.01M1074.6 1352.1h5.01M1088.8 1352.1h5.01M1155.5 1352.1h5.01M893.7 1365.3h5.01M1012.7 1378.6h5.01M1065.0 1378.6h5.01M1079.3 1378.6h5.01M1093.6 1378.6h5.01M874.6 1391.8h5.01M927.0 1391.8h5.01M1022.2 1391.8h5.01M1126.9 1391.8h5.01M1174.5 1391.8h5.01M946.0 1418.3h5.01M988.9 1418.3h5.01M1031.7 1418.3h5.01M1074.6 1418.3h5.01M1079.3 1418.3h5.01M1088.8 1418.3h5.01M1103.1 1418.3h5.01M1160.2 1418.3h5.01M1169.8 1418.3h5.01M1174.5 1418.3h5.01M1184.0 1418.3h5.01M1188.8 1418.3h5.01M1193.6 1418.3h5.01M855.6 1431.5h5.01M908.0 1431.5h5.01M1041.2 1431.5h5.01M1088.8 1431.5h5.01M893.7 1444.8h5.01M912.7 1444.8h5.01M1060.3 1444.8h5.01M1084.1 1444.8h5.01M855.6 1458.0h5.01M893.7 1458.0h5.01M988.9 1458.0h5.01M1003.2 1458.0h5.01M1041.2 1458.0h5.01M1060.3 1458.0h5.01M874.6 1471.3h5.01M879.4 1471.3h5.01M965.1 1471.3h5.01M984.1 1471.3h5.01M1046.0 1471.3h5.01M1079.3 1471.3h5.01M908.0 1484.5h5.01M955.6 1484.5h5.01M969.8 1484.5h5.01M1069.8 1484.5h5.01M1103.1 1484.5h5.01M888.9 1497.7h5.01M908.0 1497.7h5.01M1017.4 1497.7h5.01M1069.8 1497.7h5.01M998.4 1511.0h5.01M1012.7 1511.0h5.01M1031.7 1511.0h5.01M1036.5 1511.0h5.01M1079.3 1511.0h5.01M1136.4 1511.0h5.01M908.0 1524.2h5.01M993.6 1524.2h5.01M912.7 1537.5h5.01M993.6 1537.5h5.01M869.9 1550.7h5.01M893.7 1550.7h5.01M936.5 1550.7h5.01M965.1 1550.7h5.01M979.4 1550.7h5.01M1036.5 1550.7h5.01M1088.8 1550.7h5.01M893.7 1563.9h5.01M1146.0 1563.9h5.01M874.6 1577.2h5.01M888.9 1577.2h5.01M898.4 1577.2h5.01M917.5 1577.2h5.01M936.5 1577.2h5.01M950.8 1577.2h5.01M965.1 1577.2h5.01M1184.0 1577.2h5.01"/>
<path stroke="#482576" d="M893.7 1060.8h5.01M950.8 1060.8h5.01M969.8 1060.8h5.01M974.6 1060.8h5.01M1060.3 1060.8h5.01M1112.6 1060.8h5.01M1174.5 1074.1h5.01M865.1 1087.3h5.01M1012.7 1087.3h5.01M1036.5 1087.3h5.01M1060.3 1087.3h5.01M1079.3 1087.3h5.01M1093.6 1087.3h5.01M1150.7 1087.3h5.01M1193.6 1087.3h5.01M893.7 1100.5h5.01M1031.7 1100.5h5.01M1060.3 1100.5h5.01M1179.3 1100.5h5.01M855.6 1113.8h5.01M869.9 1113.8h5.01M893.7 1113.8h5.01M927.0 1113.8h5.01M1055.5 1113.8h5.01M1165.0 1113.8h5.01M1069.8 1127.0h5.01M1084.1 1127.0h5.01M1098.4 1127.0h5.01M917.5 1140.3h5.01M950.8 1140.3h5.01M1003.2 1140.3h5.01M1098.4 1140.3h5.01M1184.0 1140.3h5.01M855.6 1153.5h5.01M860.4 1153.5h5.01M898.4 1153.5h5.01M988.9 1153.5h5.01M1027.0 1153.5h5.01M1050.8 1153.5h5.01M1055.5 1153.5h5.01M1060.3 1153.5h5.01M1093.6 1153.5h5.01M1098.4 1153.5h5.01M993.6 1166.7h5.01M1084.1 1166.7h5.01M1107.9 1166.7h5.01M1155.5 1166.7h5.01M879.4 1180.0h5.01M898.4 1180.0h5.01M903.2 1180.0h5.01M912.7 1180.0h5.01M988.9 1180.0h5.01M1036.5 1180.0h5.01M1065.0 1180.0h5.01M1117.4 1180.0h5.01M884.2 1193.2h5.01M893.7 1193.2h5.01M917.5 1193.2h5.01M969.8 1193.2h5.01M993.6 1193.2h5.01M1079.3 1193.2h5.01M1131.7 1193.2h5.01M874.6 1206.5h5.01M879.4 1206.5h5.01M969.8 1206.5h5.01M1122.2 1206.5h5.01M927.0 1219.7h5.01M946.0 1219.7h5.01M1069.8 1219.7h5.01M1160.2 1219.7h5.01M1169.8 1219.7h5.01M855.6 1232.9h5.01M979.4 1232.9h5.01M1088.8 1232.9h5.01M1112.6 1232.9h5.01M1165.0 1232.9h5.01M860.4 1246.2h5.01M908.0 1246.2h5.01M960.3 1246.2h5.01M988.9 1246.2h5.01M1031.7 1246.2h5.01M1074.6 1246.2h5.01M1079.3 1246.2h5.01M1112.6 1246.2h5.01M1150.7 1246.2h5.01M912.7 1259.4h5.01M974.6 1259.4h5.01M1022.2 1259.4h5.01M1050.8 1259.4h5.01M1060.3 1259.4h5.01M1136.4 1259.4h5.01M860.4 1272.7h5.01M884.2 1272.7h5.01M888.9 1272.7h5.01M922.2 1272.7h5.01M974.6 1272.7h5.01M1103.1 1272.7h5.01M1160.2 1272.7h5.01M917.5 1285.9h5.01M946.0 1285.9h5.01M988.9 1285.9h5.01M1027.0 1285.9h5.01M1103.1 1285.9h5.01M1136.4 1285.9h5.01M1169.8 1285.9h5.01M955.6 1299.1h5.01M1036.5 1299.1h5.01M1103.1 1299.1h5.01M1179.3 1299.1h5.01M855.6 1312.4h5.01M860.4 1312.4h5.01M1074.6 1312.4h5.01M1169.8 1312.4h5.01M908.0 1325.6h5.01M912.7 1325.6h5.01M1036.5 1325.6h5.01M1050.8 1325.6h5.01M1055.5 1325.6h5.01M1136.4 1325.6h5.01M1165.0 1325.6h5.01M893.7 1338.9h5.01M912.7 1338.9h5.01M950.8 1338.9h5.01M960.3 1338.9h5.01M1007.9 1338.9h5.01M1141.2 1338.9h5.01M1160.2 1338.9h5.01M1193.6 1338.9h5.01M1198.3 1338.9h5.01M884.2 1352.1h5.01M922.2 1352.1h5.01M965.1 1352.1h5.01M1093.6 1352.1h5.01M965.1 1365.3h5.01M1012.7 1365.3h5.01M865.1 1378.6h5.01M965.1 1378.6h5.01M1031.7 1378.6h5.01M1055.5 1378.6h5.01M1136.4 1378.6h5.01M946.0 1391.8h5.01M1055.5 1391.8h5.01M1084.1 1391.8h5.01M1107.9 1391.8h5.01M893.7 1405.1h5.01M1103.1 1405.1h5.01M860.4 1418.3h5.01M941.3 1418.3h5.01M955.6 1418.3h5.01M1007.9 1418.3h5.01M1060.3 1418.3h5.01M1141.2 1418.3h5.01M903.2 1431.5h5.01M927.0 1431.5h5.01M965.1 1431.5h5.01M1007.9 1431.5h5.01M1022.2 1431.5h5.01M1036.5 1431.5h5.01M1069.8 1431.5h5.01M1084.1 1431.5h5.01M1117.4 1431.5h5.01M1174.5 1431.5h5.01M884.2 1444.8h5.01M922.2 1444.8h5.01M960.3 1444.8h5.01M979.4 1444.8h5.01M988.9 1444.8h5.01M1003.2 1444.8h5.01M1007.9 1444.8h5.01M1046.0 1444.8h5.01M1065.0 1444.8h5.01M1107.9 1444.8h5.01M1155.5 1444.8h5.01M860.4 1458.0h5.01M884.2 1458.0h5.01M908.0 1458.0h5.01M917.5 1458.0h5.01M1065.0 1458.0h5.01M1069.8 1458.0h5.01M1088.8 1458.0h5.01M1184.0 1458.0h5.01M1198.3 1458.0h5.01M865.1 1471.3h5.01M936.5 1471.3h5.01M1003.2 1471.3h5.01M1012.7 1471.3h5.01M1050.8 1471.3h5.01M1055.5 1471.3h5.01M1107.9 1471.3h5.01M1122.2 1471.3h5.01M1165.0 1471.3h5.01M865.1 1484.5h5.01M884.2 1484.5h5.01M888.9 1484.5h5.01M898.4 1484.5h5.01M936.5 1484.5h5.01M960.3 1484.5h5.01M984.1 1484.5h5.01M988.9 1484.5h5.01M1074.6 1484.5h5.01M1098.4 1484.5h5.01M1169.8 1484.5h5.01M855.6 1497.7h5.01M860.4 1497.7h5.01M879.4 1497.7h5.01M1098.4 1497.7h5.01M884.2 1511.0h5.01M974.6 1511.0h5.01M1007.9 1511.0h5.01M1027.0 1511.0h5.01M1060.3 1511.0h5.01M1155.5 1511.0h5.01M1188.8 1511.0h5.01M1198.3 1511.0h5.01M874.6 1524.2h5.01M969.8 1524.2h5.01M1060.3 1524.2h5.01M1150.7 1524.2h5.01M888.9 1537.5h5.01M931.8 1537.5h5.01M936.5 1537.5h5.01M946.0 1537.5h5.01M950.8 1537.5h5.01M960.3 1537.5h5.01M984.1 1537.5h5.01M1007.9 1537.5h5.01M1079.3 1537.5h5.01M1122.2 1537.5h5.01M1150.7 1537.5h5.01M879.4 1550.7h5.01M884.2 1550.7h5.01M908.0 1550.7h5.01M912.7 1550.7h5.01M922.2 1550.7h5.01M974.6 1550.7h5.01M993.6 1550.7h5.01M1041.2 1550.7h5.01M1046.0 1550.7h5.01M1050.8 1550.7h5.01M1055.5 1550.7h5.01M1060.3 1550.7h5.01M1065.0 1550.7h5.01M1074.6 1550.7h5.01M1098.4 1550.7h5.01M1174.5 1550.7h5.01M874.6 1563.9h5.01M884.2 1563.9h5.01M927.0 1563.9h5.01M931.8 1563.9h5.01M960.3 1563.9h5.01M969.8 1563.9h5.01M988.9 1563.9h5.01M1017.4 1563.9h5.01M1046.0 1563.9h5.01M1093.6 1563.9h5.01M879.4 1577.2h5.01M893.7 1577.2h5.01M903.2 1577.2h5.01M984.1 1577.2h5.01M1055.5 1577.2h5.01M1136.4 1577.2h5.01"/>
<path stroke="#472d7b" d="M865.1 1060.8h5.01M869.9 1060.8h5.01M998.4 1060.8h5.01M1003.2 1060.8h5.01M1036.5 1060.8h5.01M1146.0 1060.8h5.01M1160.2 1060.8h5.01M855.6 1074.1h5.01M884.2 1074.1h5.01M903.2 1074.1h5.01M908.0 1074.1h5.01M988.9 1074.1h5.01M1007.9 1074.1h5.01M1036.5 1074.1h5.01M1041.2 1074.1h5.01M1055.5 1074.1h5.01M1069.8 1074.1h5.01M1117.4 1074.1h5.01M1160.2 1074.1h5.01M1165.0 1074.1h5.01M1169.8 1074.1h5.01M1193.6 1074.1h5.01M893.7 1087.3h5.01M922.2 1087.3h5.01M931.8 1087.3h5.01M936.5 1087.3h5.01M974.6 1087.3h5.01M1003.2 1087.3h5.01M1055.5 1087.3h5.01M1065.0 1087.3h5.01M1069.8 1087.3h5.01M1141.2 1087.3h5.01M1155.5 1087.3h5.01M1184.0 1087.3h5.01M869.9 1100.5h5.01M912.7 1100.5h5.01M936.5 1100.5h5.01M941.3 1100.5h5.01M1003.2 1100.5h5.01M1041.2 1100.5h5.01M1046.0 1100.5h5.01M1079.3 1100.5h5.01M1160.2 1100.5h5.01M1169.8 1100.5h5.01M1174.5 1100.5h5.01M1198.3 1100.5h5.01M884.2 1113.8h5.01M912.7 1113.8h5.01M931.8 1113.8h5.01M955.6 1113.8h5.01M979.4 1113.8h5.01M1060.3 1113.8h5.01M1098.4 1113.8h5.01M855.6 1127.0h5.01M884.2 1127.0h5.01M888.9 1127.0h5.01M912.7 1127.0h5.01M1041.2 1127.0h5.01M1055.5 1127.0h5.01M1065.0 1127.0h5.01M1093.6 1127.0h5.01M1112.6 1127.0h5.01M1122.2 1127.0h5.01M1126.9 1127.0h5.01M1131.7 1127.0h5.01M1136.4 1127.0h5.01M1150.7 1127.0h5.01M1155.5 1127.0h5.01M1198.3 1127.0h5.01M993.6 1140.3h5.01M1027.0 1140.3h5.01M1036.5 1140.3h5.01M1046.0 1140.3h5.01M1065.0 1140.3h5.01M1069.8 1140.3h5.01M1103.1 1140.3h5.01M1165.0 1140.3h5.01M1174.5 1140.3h5.01M1179.3 1140.3h5.01M865.1 1153.5h5.01M927.0 1153.5h5.01M931.8 1153.5h5.01M974.6 1153.5h5.01M993.6 1153.5h5.01M1031.7 1153.5h5.01M1084.1 1153.5h5.01M1107.9 1153.5h5.01M1117.4 1153.5h5.01M1136.4 1153.5h5.01M1150.7 1153.5h5.01M1160.2 1153.5h5.01M855.6 1166.7h5.01M936.5 1166.7h5.01M946.0 1166.7h5.01M955.6 1166.7h5.01M960.3 1166.7h5.01M974.6 1166.7h5.01M1131.7 1166.7h5.01M1141.2 1166.7h5.01M1193.6 1166.7h5.01M1198.3 1166.7h5.01M855.6 1180.0h5.01M869.9 1180.0h5.01M884.2 1180.0h5.01M908.0 1180.0h5.01M955.6 1180.0h5.01M984.1 1180.0h5.01M1003.2 1180.0h5.01M1103.1 1180.0h5.01M1146.0 1180.0h5.01M1150.7 1180.0h5.01M1184.0 1180.0h5.01M869.9 1193.2h5.01M879.4 1193.2h5.01M950.8 1193.2h5.01M1046.0 1193.2h5.01M1055.5 1193.2h5.01M1060.3 1193.2h5.01M1084.1 1193.2h5.01M960.3 1206.5h5.01M988.9 1206.5h5.01M1136.4 1206.5h5.01M884.2 1219.7h5.01M936.5 1219.7h5.01M955.6 1219.7h5.01M979.4 1219.7h5.01M988.9 1219.7h5.01M1027.0 1219.7h5.01M1084.1 1219.7h5.01M1179.3 1219.7h5.01M888.9 1232.9h5.01M917.5 1232.9h5.01M922.2 1232.9h5.01M936.5 1232.9h5.01M946.0 1232.9h5.01M1031.7 1232.9h5.01M1041.2 1232.9h5.01M1117.4 1232.9h5.01M1146.0 1232.9h5.01M969.8 1246.2h5.01M974.6 1246.2h5.01M993.6 1246.2h5.01M1050.8 1246.2h5.01M1093.6 1246.2h5.01M1117.4 1246.2h5.01M1122.2 1246.2h5.01M1146.0 1246.2h5.01M1155.5 1246.2h5.01M1174.5 1246.2h5.01M1179.3 1246.2h5.01M941.3 1259.4h5.01M1027.0 1259.4h5.01M1036.5 1259.4h5.01M1069.8 1259.4h5.01M1165.0 1259.4h5.01M1169.8 1259.4h5.01M1179.3 1259.4h5.01M1198.3 1259.4h5.01M865.1 1272.7h5.01M879.4 1272.7h5.01M908.0 1272.7h5.01M917.5 1272.7h5.01M993.6 1272.7h5.01M1027.0 1272.7h5.01M1046.0 1272.7h5.01M1050.8 1272.7h5.01M1098.4 1272.7h5.01M1150.7 1272.7h5.01M1184.0 1272.7h5.01M860.4 1285.9h5.01M869.9 1285.9h5.01M927.0 1285.9h5.01M960.3 1285.9h5.01M965.1 1285.9h5.01M1055.5 1285.9h5.01M1079.3 1285.9h5.01M879.4 1299.1h5.01M903.2 1299.1h5.01M908.0 1299.1h5.01M917.5 1299.1h5.01M931.8 1299.1h5.01M936.5 1299.1h5.01M998.4 1299.1h5.01M1027.0 1299.1h5.01M1041.2 1299.1h5.01M1079.3 1299.1h5.01M1098.4 1299.1h5.01M1126.9 1299.1h5.01M1146.0 1299.1h5.01M1150.7 1299.1h5.01M1174.5 1299.1h5.01M893.7 1312.4h5.01M912.7 1312.4h5.01M1031.7 1312.4h5.01M1055.5 1312.4h5.01M1174.5 1312.4h5.01M1193.6 1312.4h5.01M903.2 1325.6h5.01M922.2 1325.6h5.01M955.6 1325.6h5.01M1012.7 1325.6h5.01M1017.4 1325.6h5.01M1022.2 1325.6h5.01M1065.0 1325.6h5.01M1069.8 1325.6h5.01M1079.3 1325.6h5.01M1131.7 1325.6h5.01M1160.2 1325.6h5.01M1169.8 1325.6h5.01M1179.3 1325.6h5.01M1198.3 1325.6h5.01M860.4 1338.9h5.01M884.2 1338.9h5.01M1098.4 1338.9h5.01M879.4 1352.1h5.01M912.7 1352.1h5.01M950.8 1352.1h5.01M974.6 1352.1h5.01M979.4 1352.1h5.01M1050.8 1352.1h5.01M1060.3 1352.1h5.01M1069.8 1352.1h5.01M1160.2 1352.1h5.01M1169.8 1352.1h5.01M1179.3 1352.1h5.01M1193.6 1352.1h5.01M855.6 1365.3h5.01M879.4 1365.3h5.01M931.8 1365.3h5.01M946.0 1365.3h5.01M1022.2 1365.3h5.01M1046.0 1365.3h5.01M1050.8 1365.3h5.01M1103.1 1365.3h5.01M1146.0 1365.3h5.01M874.6 1378.6h5.01M898.4 1378.6h5.01M936.5 1378.6h5.01M998.4 1378.6h5.01M1003.2 1378.6h5.01M1007.9 1378.6h5.01M1017.4 1378.6h5.01M1060.3 1378.6h5.01M1069.8 1378.6h5.01M1074.6 1378.6h5.01M1155.5 1378.6h5.01M879.4 1391.8h5.01M922.2 1391.8h5.01M993.6 1391.8h5.01M998.4 1391.8h5.01M1003.2 1391.8h5.01M1050.8 1391.8h5.01M1131.7 1391.8h5.01M1136.4 1391.8h5.01M1179.3 1391.8h5.01M969.8 1405.1h5.01M1017.4 1405.1h5.01M1055.5 1405.1h5.01M1136.4 1405.1h5.01M1146.0 1405.1h5.01M855.6 1418.3h5.01M865.1 1418.3h5.01M869.9 1418.3h5.01M922.2 1418.3h5.01M927.0 1418.3h5.01M960.3 1418.3h5.01M969.8 1418.3h5.01M974.6 1418.3h5.01M1003.2 1418.3h5.01M1012.7 1418.3h5.01M1036.5 1418.3h5.01M1107.9 1418.3h5.01M1117.4 1418.3h5.01M1165.0 1418.3h5.01M869.9 1431.5h5.01M879.4 1431.5h5.01M884.2 1431.5h5.01M922.2 1431.5h5.01M969.8 1431.5h5.01M1003.2 1431.5h5.01M1027.0 1431.5h5.01M1055.5 1431.5h5.01M1065.0 1431.5h5.01M1103.1 1431.5h5.01M1122.2 1431.5h5.01M1160.2 1431.5h5.01M855.6 1444.8h5.01M931.8 1444.8h5.01M955.6 1444.8h5.01M984.1 1444.8h5.01M993.6 1444.8h5.01M1027.0 1444.8h5.01M1031.7 1444.8h5.01M1069.8 1444.8h5.01M1103.1 1444.8h5.01M1122.2 1444.8h5.01M1160.2 1444.8h5.01M1165.0 1444.8h5.01M888.9 1458.0h5.01M912.7 1458.0h5.01M922.2 1458.0h5.01M946.0 1458.0h5.01M960.3 1458.0h5.01M1007.9 1458.0h5.01M1031.7 1458.0h5.01M1074.6 1458.0h5.01M1107.9 1458.0h5.01M1179.3 1458.0h5.01M888.9 1471.3h5.01M931.8 1471.3h5.01M946.0 1471.3h5.01M1017.4 1471.3h5.01M1036.5 1471.3h5.01M1060.3 1471.3h5.01M1098.4 1471.3h5.01M1103.1 1471.3h5.01M1126.9 1471.3h5.01M1188.8 1471.3h5.01M860.4 1484.5h5.01M965.1 1484.5h5.01M998.4 1484.5h5.01M1036.5 1484.5h5.01M1065.0 1484.5h5.01M1112.6 1484.5h5.01M1122.2 1484.5h5.01M1126.9 1484.5h5.01M1136.4 1484.5h5.01M1141.2 1484.5h5.01M1174.5 1484.5h5.01M955.6 1497.7h5.01M960.3 1497.7h5.01M979.4 1497.7h5.01M993.6 1497.7h5.01M1060.3 1497.7h5.01M1074.6 1497.7h5.01M1103.1 1497.7h5.01M1131.7 1497.7h5.01M879.4 1511.0h5.01M888.9 1511.0h5.01M908.0 1511.0h5.01M912.7 1511.0h5.01M979.4 1511.0h5.01M1017.4 1511.0h5.01M1103.1 1511.0h5.01M1107.9 1511.0h5.01M1146.0 1511.0h5.01M1055.5 1524.2h5.01M1098.4 1524.2h5.01M1117.4 1524.2h5.01M1122.2 1524.2h5.01M1188.8 1524.2h5.01M1203.1 1524.2h5.01M874.6 1537.5h5.01M922.2 1537.5h5.01M955.6 1537.5h5.01M969.8 1537.5h5.01M1012.7 1537.5h5.01M1022.2 1537.5h5.01M1036.5 1537.5h5.01M1084.1 1537.5h5.01M1126.9 1537.5h5.01M860.4 1550.7h5.01M865.1 1550.7h5.01M874.6 1550.7h5.01M1079.3 1550.7h5.01M1131.7 1550.7h5.01M1141.2 1550.7h5.01M1169.8 1550.7h5.01M908.0 1563.9h5.01M936.5 1563.9h5.01M965.1 1563.9h5.01M974.6 1563.9h5.01M984.1 1563.9h5.01M993.6 1563.9h5.01M998.4 1563.9h5.01M1088.8 1563.9h5.01M1126.9 1563.9h5.01M1188.8 1563.9h5.01M855.6 1577.2h5.01M922.2 1577.2h5.01M927.0 1577.2h5.01M960.3 1577.2h5.01M988.9 1577.2h5.01M1031.7 1577.2h5.01M1065.0 1577.2h5.01M1103.1 1577.2h5.01M1107.9 1577.2h5.01M1117.4 1577.2h5.01M1193.6 1577.2h5.01"/>
<path stroke="#453581" d="M874.6 1060.8h5.01M888.9 1060.8h5.01M912.7 1060.8h5.01M917.5 1060.8h5.01M931.8 1060.8h5.01M1031.7 1060.8h5.01M1084.1 1060.8h5.01M1122.2 1060.8h5.01M1155.5 1060.8h5.01M1179.3 1060.8h5.01M869.9 1074.1h5.01M874.6 1074.1h5.01M950.8 1074.1h5.01M965.1 1074.1h5.01M969.8 1074.1h5.01M1060.3 1074.1h5.01M1074.6 1074.1h5.01M1107.9 1074.1h5.01M1126.9 1074.1h5.01M1155.5 1074.1h5.01M1179.3 1074.1h5.01M941.3 1087.3h5.01M946.0 1087.3h5.01M969.8 1087.3h5.01M979.4 1087.3h5.01M984.1 1087.3h5.01M1046.0 1087.3h5.01M1088.8 1087.3h5.01M1174.5 1087.3h5.01M1188.8 1087.3h5.01M922.2 1100.5h5.01M946.0 1100.5h5.01M960.3 1100.5h5.01M984.1 1100.5h5.01M1055.5 1100.5h5.01M1093.6 1100.5h5.01M1126.9 1100.5h5.01M1136.4 1100.5h5.01M1146.0 1100.5h5.01M1150.7 1100.5h5.01M1155.5 1100.5h5.01M1165.0 1100.5h5.01M879.4 1113.8h5.01M936.5 1113.8h5.01M950.8 1113.8h5.01M1050.8 1113.8h5.01M1155.5 1113.8h5.01M1160.2 1113.8h5.01M1174.5 1113.8h5.01M936.5 1127.0h5.01M946.0 1127.0h5.01M974.6 1127.0h5.01M993.6 1127.0h5.01M1007.9 1127.0h5.01M1036.5 1127.0h5.01M1074.6 1127.0h5.01M1179.3 1127.0h5.01M855.6 1140.3h5.01M884.2 1140.3h5.01M893.7 1140.3h5.01M936.5 1140.3h5.01M1084.1 1140.3h5.01M1088.8 1140.3h5.01M1117.4 1140.3h5.01M1141.2 1140.3h5.01M874.6 1153.5h5.01M879.4 1153.5h5.01M884.2 1153.5h5.01M941.3 1153.5h5.01M960.3 1153.5h5.01M965.1 1153.5h5.01M998.4 1153.5h5.01M1103.1 1153.5h5.01M1141.2 1153.5h5.01M1198.3 1153.5h5.01M865.1 1166.7h5.01M869.9 1166.7h5.01M950.8 1166.7h5.01M965.1 1166.7h5.01M1036.5 1166.7h5.01M1041.2 1166.7h5.01M1060.3 1166.7h5.01M1126.9 1166.7h5.01M1160.2 1166.7h5.01M1169.8 1166.7h5.01M860.4 1180.0h5.01M865.1 1180.0h5.01M931.8 1180.0h5.01M936.5 1180.0h5.01M941.3 1180.0h5.01M969.8 1180.0h5.01M993.6 1180.0h5.01M1007.9 1180.0h5.01M1027.0 1180.0h5.01M1041.2 1180.0h5.01M1050.8 1180.0h5.01M1112.6 1180.0h5.01M1131.7 1180.0h5.01M1141.2 1180.0h5.01M1193.6 1180.0h5.01M865.1 1193.2h5.01M874.6 1193.2h5.01M898.4 1193.2h5.01M912.7 1193.2h5.01M936.5 1193.2h5.01M998.4 1193.2h5.01M1107.9 1193.2h5.01M1117.4 1193.2h5.01M1136.4 1193.2h5.01M1150.7 1193.2h5.01M860.4 1206.5h5.01M869.9 1206.5h5.01M955.6 1206.5h5.01M993.6 1206.5h5.01M998.4 1206.5h5.01M1050.8 1206.5h5.01M1079.3 1206.5h5.01M1117.4 1206.5h5.01M1126.9 1206.5h5.01M1174.5 1206.5h5.01M1193.6 1206.5h5.01M874.6 1219.7h5.01M879.4 1219.7h5.01M908.0 1219.7h5.01M917.5 1219.7h5.01M984.1 1219.7h5.01M993.6 1219.7h5.01M1165.0 1219.7h5.01M865.1 1232.9h5.01M874.6 1232.9h5.01M903.2 1232.9h5.01M927.0 1232.9h5.01M969.8 1232.9h5.01M974.6 1232.9h5.01M984.1 1232.9h5.01M1160.2 1232.9h5.01M1184.0 1232.9h5.01M874.6 1246.2h5.01M884.2 1246.2h5.01M888.9 1246.2h5.01M898.4 1246.2h5.01M922.2 1246.2h5.01M965.1 1246.2h5.01M1027.0 1246.2h5.01M1041.2 1246.2h5.01M1046.0 1246.2h5.01M1084.1 1246.2h5.01M1088.8 1246.2h5.01M1107.9 1246.2h5.01M1198.3 1246.2h5.01M874.6 1259.4h5.01M927.0 1259.4h5.01M946.0 1259.4h5.01M950.8 1259.4h5.01M955.6 1259.4h5.01M960.3 1259.4h5.01M965.1 1259.4h5.01M984.1 1259.4h5.01M993.6 1259.4h5.01M998.4 1259.4h5.01M1031.7 1259.4h5.01M1055.5 1259.4h5.01M1074.6 1259.4h5.01M1084.1 1259.4h5.01M1146.0 1259.4h5.01M1160.2 1259.4h5.01M1174.5 1259.4h5.01M1188.8 1259.4h5.01M869.9 1272.7h5.01M903.2 1272.7h5.01M946.0 1272.7h5.01M955.6 1272.7h5.01M1060.3 1272.7h5.01M1069.8 1272.7h5.01M1165.0 1272.7h5.01M1169.8 1272.7h5.01M1193.6 1272.7h5.01M1198.3 1272.7h5.01M865.1 1285.9h5.01M884.2 1285.9h5.01M898.4 1285.9h5.01M903.2 1285.9h5.01M922.2 1285.9h5.01M931.8 1285.9h5.01M1022.2 1285.9h5.01M1050.8 1285.9h5.01M1074.6 1285.9h5.01M1131.7 1285.9h5.01M1155.5 1285.9h5.01M1160.2 1285.9h5.01M1165.0 1285.9h5.01M860.4 1299.1h5.01M869.9 1299.1h5.01M946.0 1299.1h5.01M1031.7 1299.1h5.01M1046.0 1299.1h5.01M1055.5 1299.1h5.01M1136.4 1299.1h5.01M927.0 1312.4h5.01M936.5 1312.4h5.01M950.8 1312.4h5.01M955.6 1312.4h5.01M1050.8 1312.4h5.01M1065.0 1312.4h5.01M1084.1 1312.4h5.01M1155.5 1312.4h5.01M1188.8 1312.4h5.01M1198.3 1312.4h5.01M874.6 1325.6h5.01M898.4 1325.6h5.01M917.5 1325.6h5.01M927.0 1325.6h5.01M1060.3 1325.6h5.01M1088.8 1325.6h5.01M1093.6 1325.6h5.01M1150.7 1325.6h5.01M1155.5 1325.6h5.01M1188.8 1325.6h5.01M855.6 1338.9h5.01M879.4 1338.9h5.01M898.4 1338.9h5.01M903.2 1338.9h5.01M922.2 1338.9h5.01M974.6 1338.9h5.01M979.4 1338.9h5.01M984.1 1338.9h5.01M1012.7 1338.9h5.01M1027.0 1338.9h5.01M1084.1 1338.9h5.01M1122.2 1338.9h5.01M1126.9 1338.9h5.01M1146.0 1338.9h5.01M1169.8 1338.9h5.01M1174.5 1338.9h5.01M1179.3 1338.9h5.01M893.7 1352.1h5.01M931.8 1352.1h5.01M936.5 1352.1h5.01M984.1 1352.1h5.01M1003.2 1352.1h5.01M1027.0 1352.1h5.01M1031.7 1352.1h5.01M1055.5 1352.1h5.01M1146.0 1352.1h5.01M1150.7 1352.1h5.01M1165.0 1352.1h5.01M1184.0 1352.1h5.01M1188.8 1352.1h5.01M865.1 1365.3h5.01M869.9 1365.3h5.01M908.0 1365.3h5.01M941.3 1365.3h5.01M1036.5 1365.3h5.01M1055.5 1365.3h5.01M1069.8 1365.3h5.01M1150.7 1365.3h5.01M1169.8 1365.3h5.01M1188.8 1365.3h5.01M888.9 1378.6h5.01M922.2 1378.6h5.01M941.3 1378.6h5.01M950.8 1378.6h5.01M1022.2 1378.6h5.01M1088.8 1378.6h5.01M1131.7 1378.6h5.01M1184.0 1378.6h5.01M1193.6 1378.6h5.01M855.6 1391.8h5.01M860.4 1391.8h5.01M869.9 1391.8h5.01M965.1 1391.8h5.01M988.9 1391.8h5.01M1065.0 1391.8h5.01M1069.8 1391.8h5.01M1141.2 1391.8h5.01M1146.0 1391.8h5.01M855.6 1405.1h5.01M936.5 1405.1h5.01M941.3 1405.1h5.01M965.1 1405.1h5.01M1031.7 1405.1h5.01M1065.0 1405.1h5.01M1069.8 1405.1h5.01M1193.6 1405.1h5.01M1198.3 1405.1h5.01M879.4 1418.3h5.01M888.9 1418.3h5.01M908.0 1418.3h5.01M936.5 1418.3h5.01M950.8 1418.3h5.01M965.1 1418.3h5.01M993.6 1418.3h5.01M998.4 1418.3h5.01M1027.0 1418.3h5.01M1093.6 1418.3h5.01M1098.4 1418.3h5.01M1112.6 1418.3h5.01M1155.5 1418.3h5.01M1179.3 1418.3h5.01M860.4 1431.5h5.01M874.6 1431.5h5.01M898.4 1431.5h5.01M993.6 1431.5h5.01M998.4 1431.5h5.01M1012.7 1431.5h5.01M1031.7 1431.5h5.01M1050.8 1431.5h5.01M1060.3 1431.5h5.01M1079.3 1431.5h5.01M1098.4 1431.5h5.01M1146.0 1431.5h5.01M1150.7 1431.5h5.01M1155.5 1431.5h5.01M1169.8 1431.5h5.01M1179.3 1431.5h5.01M865.1 1444.8h5.01M936.5 1444.8h5.01M965.1 1444.8h5.01M998.4 1444.8h5.01M1017.4 1444.8h5.01M1188.8 1444.8h5.01M903.2 1458.0h5.01M965.1 1458.0h5.01M969.8 1458.0h5.01M979.4 1458.0h5.01M984.1 1458.0h5.01M1022.2 1458.0h5.01M1084.1 1458.0h5.01M1126.9 1458.0h5.01M1155.5 1458.0h5.01M1169.8 1458.0h5.01M1188.8 1458.0h5.01M1193.6 1458.0h5.01M855.6 1471.3h5.01M860.4 1471.3h5.01M893.7 1471.3h5.01M898.4 1471.3h5.01M917.5 1471.3h5.01M969.8 1471.3h5.01M988.9 1471.3h5.01M1022.2 1471.3h5.01M1031.7 1471.3h5.01M1074.6 1471.3h5.01M1084.1 1471.3h5.01M1117.4 1471.3h5.01M1131.7 1471.3h5.01M1136.4 1471.3h5.01M1184.0 1471.3h5.01M1193.6 1471.3h5.01M874.6 1484.5h5.01M879.4 1484.5h5.01M917.5 1484.5h5.01M979.4 1484.5h5.01M1007.9 1484.5h5.01M1012.7 1484.5h5.01M1022.2 1484.5h5.01M1041.2 1484.5h5.01M1046.0 1484.5h5.01M1055.5 1484.5h5.01M1060.3 1484.5h5.01M1093.6 1484.5h5.01M1179.3 1484.5h5.01M1184.0 1484.5h5.01M874.6 1497.7h5.01M927.0 1497.7h5.01M931.8 1497.7h5.01M936.5 1497.7h5.01M950.8 1497.7h5.01M965.1 1497.7h5.01M974.6 1497.7h5.01M984.1 1497.7h5.01M998.4 1497.7h5.01M1022.2 1497.7h5.01M1031.7 1497.7h5.01M1050.8 1497.7h5.01M1093.6 1497.7h5.01M1112.6 1497.7h5.01M1122.2 1497.7h5.01M1126.9 1497.7h5.01M1136.4 1497.7h5.01M1174.5 1497.7h5.01M1193.6 1497.7h5.01M1198.3 1497.7h5.01M1203.1 1497.7h5.01M865.1 1511.0h5.01M874.6 1511.0h5.01M941.3 1511.0h5.01M950.8 1511.0h5.01M960.3 1511.0h5.01M984.1 1511.0h5.01M1022.2 1511.0h5.01M1041.2 1511.0h5.01M1046.0 1511.0h5.01M1065.0 1511.0h5.01M1074.6 1511.0h5.01M1131.7 1511.0h5.01M1150.7 1511.0h5.01M1160.2 1511.0h5.01M855.6 1524.2h5.01M879.4 1524.2h5.01M888.9 1524.2h5.01M912.7 1524.2h5.01M950.8 1524.2h5.01M979.4 1524.2h5.01M1007.9 1524.2h5.01M1036.5 1524.2h5.01M1079.3 1524.2h5.01M1084.1 1524.2h5.01M1088.8 1524.2h5.01M1103.1 1524.2h5.01M860.4 1537.5h5.01M869.9 1537.5h5.01M903.2 1537.5h5.01M908.0 1537.5h5.01M917.5 1537.5h5.01M965.1 1537.5h5.01M974.6 1537.5h5.01M979.4 1537.5h5.01M988.9 1537.5h5.01M1003.2 1537.5h5.01M1027.0 1537.5h5.01M1041.2 1537.5h5.01M1055.5 1537.5h5.01M1060.3 1537.5h5.01M1065.0 1537.5h5.01M1088.8 1537.5h5.01M1103.1 1537.5h5.01M1131.7 1537.5h5.01M1136.4 1537.5h5.01M1141.2 1537.5h5.01M1155.5 1537.5h5.01M1169.8 1537.5h5.01M888.9 1550.7h5.01M931.8 1550.7h5.01M955.6 1550.7h5.01M1003.2 1550.7h5.01M1012.7 1550.7h5.01M1017.4 1550.7h5.01M1069.8 1550.7h5.01M1093.6 1550.7h5.01M1103.1 1550.7h5.01M1122.2 1550.7h5.01M1155.5 1550.7h5.01M1179.3 1550.7h5.01M912.7 1563.9h5.01M946.0 1563.9h5.01M950.8 1563.9h5.01M1084.1 1563.9h5.01M1103.1 1563.9h5.01M1136.4 1563.9h5.01M1150.7 1563.9h5.01M1169.8 1563.9h5.01M1193.6 1563.9h5.01M860.4 1577.2h5.01M865.1 1577.2h5.01M869.9 1577.2h5.01M908.0 1577.2h5.01M912.7 1577.2h5.01M941.3 1577.2h5.01M946.0 1577.2h5.01M955.6 1577.2h5.01M969.8 1577.2h5.01M979.4 1577.2h5.01M1041.2 1577.2h5.01M1046.0 1577.2h5.01M1060.3 1577.2h5.01M1084.1 1577.2h5.01M1098.4 1577.2h5.01M1112.6 1577.2h5.01M1141.2 1577.2h5.01M1146.0 1577.2h5.01M1174.5 1577.2h5.01M1188.8 1577.2h5.01M1198.3 1577.2h5.01M1203.1 1577.2h5.01"/>
<path stroke="#433d84" d="M884.2 1060.8h5.01M903.2 1060.8h5.01M936.5 1060.8h5.01M941.3 1060.8h5.01M955.6 1060.8h5.01M988.9 1060.8h5.01M1041.2 1060.8h5.01M1074.6 1060.8h5.01M1079.3 1060.8h5.01M1107.9 1060.8h5.01M1131.7 1060.8h5.01M1136.4 1060.8h5.01M1150.7 1060.8h5.01M1169.8 1060.8h5.01M1174.5 1060.8h5.01M1193.6 1060.8h5.01M931.8 1074.1h5.01M946.0 1074.1h5.01M960.3 1074.1h5.01M984.1 1074.1h5.01M1031.7 1074.1h5.01M1079.3 1074.1h5.01M1103.1 1074.1h5.01M1184.0 1074.1h5.01M1188.8 1074.1h5.01M860.4 1087.3h5.01M869.9 1087.3h5.01M917.5 1087.3h5.01M960.3 1087.3h5.01M965.1 1087.3h5.01M988.9 1087.3h5.01M1031.7 1087.3h5.01M1122.2 1087.3h5.01M1126.9 1087.3h5.01M1131.7 1087.3h5.01M1136.4 1087.3h5.01M884.2 1100.5h5.01M903.2 1100.5h5.01M908.0 1100.5h5.01M917.5 1100.5h5.01M998.4 1100.5h5.01M1036.5 1100.5h5.01M1065.0 1100.5h5.01M1084.1 1100.5h5.01M1098.4 1100.5h5.01M1103.1 1100.5h5.01M1107.9 1100.5h5.01M1117.4 1100.5h5.01M1122.2 1100.5h5.01M874.6 1113.8h5.01M898.4 1113.8h5.01M941.3 1113.8h5.01M969.8 1113.8h5.01M1031.7 1113.8h5.01M1036.5 1113.8h5.01M1046.0 1113.8h5.01M1079.3 1113.8h5.01M1084.1 1113.8h5.01M1107.9 1113.8h5.01M1146.0 1113.8h5.01M1169.8 1113.8h5.01M1184.0 1113.8h5.01M1188.8 1113.8h5.01M1193.6 1113.8h5.01M1198.3 1113.8h5.01M860.4 1127.0h5.01M869.9 1127.0h5.01M879.4 1127.0h5.01M893.7 1127.0h5.01M903.2 1127.0h5.01M931.8 1127.0h5.01M941.3 1127.0h5.01M969.8 1127.0h5.01M988.9 1127.0h5.01M998.4 1127.0h5.01M1046.0 1127.0h5.01M1088.8 1127.0h5.01M1146.0 1127.0h5.01M1165.0 1127.0h5.01M1169.8 1127.0h5.01M860.4 1140.3h5.01M874.6 1140.3h5.01M879.4 1140.3h5.01M898.4 1140.3h5.01M912.7 1140.3h5.01M946.0 1140.3h5.01M965.1 1140.3h5.01M969.8 1140.3h5.01M974.6 1140.3h5.01M1041.2 1140.3h5.01M1050.8 1140.3h5.01M1060.3 1140.3h5.01M1112.6 1140.3h5.01M1146.0 1140.3h5.01M1155.5 1140.3h5.01M1160.2 1140.3h5.01M903.2 1153.5h5.01M908.0 1153.5h5.01M917.5 1153.5h5.01M1074.6 1153.5h5.01M884.2 1166.7h5.01M893.7 1166.7h5.01M998.4 1166.7h5.01M1003.2 1166.7h5.01M1027.0 1166.7h5.01M1046.0 1166.7h5.01M917.5 1180.0h5.01M927.0 1180.0h5.01M950.8 1180.0h5.01M974.6 1180.0h5.01M1031.7 1180.0h5.01M1074.6 1180.0h5.01M1088.8 1180.0h5.01M1122.2 1180.0h5.01M1165.0 1180.0h5.01M860.4 1193.2h5.01M908.0 1193.2h5.01M955.6 1193.2h5.01M960.3 1193.2h5.01M965.1 1193.2h5.01M1065.0 1193.2h5.01M1069.8 1193.2h5.01M1103.1 1193.2h5.01M1184.0 1193.2h5.01M1193.6 1193.2h5.01M1198.3 1193.2h5.01M855.6 1206.5h5.01M865.1 1206.5h5.01M927.0 1206.5h5.01M950.8 1206.5h5.01M1007.9 1206.5h5.01M1031.7 1206.5h5.01M1036.5 1206.5h5.01M1060.3 1206.5h5.01M1065.0 1206.5h5.01M1084.1 1206.5h5.01M1107.9 1206.5h5.01M1179.3 1206.5h5.01M869.9 1219.7h5.01M893.7 1219.7h5.01M903.2 1219.7h5.01M922.2 1219.7h5.01M931.8 1219.7h5.01M941.3 1219.7h5.01M965.1 1219.7h5.01M1036.5 1219.7h5.01M1041.2 1219.7h5.01M1065.0 1219.7h5.01M1074.6 1219.7h5.01M1136.4 1219.7h5.01M1155.5 1219.7h5.01M1188.8 1219.7h5.01M860.4 1232.9h5.01M931.8 1232.9h5.01M950.8 1232.9h5.01M955.6 1232.9h5.01M998.4 1232.9h5.01M1046.0 1232.9h5.01M1055.5 1232.9h5.01M1150.7 1232.9h5.01M1169.8 1232.9h5.01M1174.5 1232.9h5.01M1179.3 1232.9h5.01M1188.8 1232.9h5.01M1198.3 1232.9h5.01M855.6 1246.2h5.01M869.9 1246.2h5.01M893.7 1246.2h5.01M1055.5 1246.2h5.01M1098.4 1246.2h5.01M1160.2 1246.2h5.01M1188.8 1246.2h5.01M1193.6 1246.2h5.01M908.0 1259.4h5.01M922.2 1259.4h5.01M936.5 1259.4h5.01M988.9 1259.4h5.01M1041.2 1259.4h5.01M1046.0 1259.4h5.01M1093.6 1259.4h5.01M1155.5 1259.4h5.01M927.0 1272.7h5.01M931.8 1272.7h5.01M941.3 1272.7h5.01M979.4 1272.7h5.01M1031.7 1272.7h5.01M1074.6 1272.7h5.01M1079.3 1272.7h5.01M1093.6 1272.7h5.01M1146.0 1272.7h5.01M1155.5 1272.7h5.01M1188.8 1272.7h5.01M888.9 1285.9h5.01M998.4 1285.9h5.01M1069.8 1285.9h5.01M1088.8 1285.9h5.01M1093.6 1285.9h5.01M1146.0 1285.9h5.01M865.1 1299.1h5.01M884.2 1299.1h5.01M893.7 1299.1h5.01M960.3 1299.1h5.01M969.8 1299.1h5.01M1017.4 1299.1h5.01M1069.8 1299.1h5.01M1074.6 1299.1h5.01M1088.8 1299.1h5.01M1093.6 1299.1h5.01M1141.2 1299.1h5.01M1160.2 1299.1h5.01M1184.0 1299.1h5.01M898.4 1312.4h5.01M1027.0 1312.4h5.01M1069.8 1312.4h5.01M1150.7 1312.4h5.01M855.6 1325.6h5.01M860.4 1325.6h5.01M888.9 1325.6h5.01M936.5 1325.6h5.01M950.8 1325.6h5.01M984.1 1325.6h5.01M1098.4 1325.6h5.01M1122.2 1325.6h5.01M1126.9 1325.6h5.01M1146.0 1325.6h5.01M1193.6 1325.6h5.01M865.1 1338.9h5.01M888.9 1338.9h5.01M931.8 1338.9h5.01M941.3 1338.9h5.01M965.1 1338.9h5.01M1093.6 1338.9h5.01M1131.7 1338.9h5.01M1150.7 1338.9h5.01M1184.0 1338.9h5.01M860.4 1352.1h5.01M865.1 1352.1h5.01M869.9 1352.1h5.01M888.9 1352.1h5.01M898.4 1352.1h5.01M903.2 1352.1h5.01M908.0 1352.1h5.01M1007.9 1352.1h5.01M1012.7 1352.1h5.01M1022.2 1352.1h5.01M1036.5 1352.1h5.01M1079.3 1352.1h5.01M1136.4 1352.1h5.01M1174.5 1352.1h5.01M1198.3 1352.1h5.01M874.6 1365.3h5.01M903.2 1365.3h5.01M950.8 1365.3h5.01M955.6 1365.3h5.01M969.8 1365.3h5.01M1003.2 1365.3h5.01M1031.7 1365.3h5.01M1098.4 1365.3h5.01M1131.7 1365.3h5.01M1141.2 1365.3h5.01M1198.3 1365.3h5.01M860.4 1378.6h5.01M879.4 1378.6h5.01M884.2 1378.6h5.01M1027.0 1378.6h5.01M1041.2 1378.6h5.01M1046.0 1378.6h5.01M1084.1 1378.6h5.01M1098.4 1378.6h5.01M1150.7 1378.6h5.01M1188.8 1378.6h5.01M865.1 1391.8h5.01M884.2 1391.8h5.01M888.9 1391.8h5.01M908.0 1391.8h5.01M955.6 1391.8h5.01M979.4 1391.8h5.01M1007.9 1391.8h5.01M1160.2 1391.8h5.01M884.2 1405.1h5.01M888.9 1405.1h5.01M927.0 1405.1h5.01M946.0 1405.1h5.01M1003.2 1405.1h5.01M1022.2 1405.1h5.01M1036.5 1405.1h5.01M1041.2 1405.1h5.01M1046.0 1405.1h5.01M1060.3 1405.1h5.01M1093.6 1405.1h5.01M1184.0 1405.1h5.01M1188.8 1405.1h5.01M884.2 1418.3h5.01M912.7 1418.3h5.01M917.5 1418.3h5.01M979.4 1418.3h5.01M1041.2 1418.3h5.01M1065.0 1418.3h5.01M1084.1 1418.3h5.01M1150.7 1418.3h5.01M888.9 1431.5h5.01M912.7 1431.5h5.01M917.5 1431.5h5.01M974.6 1431.5h5.01M1017.4 1431.5h5.01M1165.0 1431.5h5.01M1184.0 1431.5h5.01M1188.8 1431.5h5.01M860.4 1444.8h5.01M927.0 1444.8h5.01M941.3 1444.8h5.01M946.0 1444.8h5.01M950.8 1444.8h5.01M1012.7 1444.8h5.01M1041.2 1444.8h5.01M1050.8 1444.8h5.01M1088.8 1444.8h5.01M1098.4 1444.8h5.01M1126.9 1444.8h5.01M1169.8 1444.8h5.01M1174.5 1444.8h5.01M1179.3 1444.8h5.01M879.4 1458.0h5.01M898.4 1458.0h5.01M950.8 1458.0h5.01M974.6 1458.0h5.01M993.6 1458.0h5.01M998.4 1458.0h5.01M1017.4 1458.0h5.01M1046.0 1458.0h5.01M1050.8 1458.0h5.01M1093.6 1458.0h5.01M1112.6 1458.0h5.01M1117.4 1458.0h5.01M869.9 1471.3h5.01M941.3 1471.3h5.01M1065.0 1471.3h5.01M1069.8 1471.3h5.01M1112.6 1471.3h5.01M1169.8 1471.3h5.01M1179.3 1471.3h5.01M869.9 1484.5h5.01M922.2 1484.5h5.01M927.0 1484.5h5.01M931.8 1484.5h5.01M946.0 1484.5h5.01M993.6 1484.5h5.01M1117.4 1484.5h5.01M1188.8 1484.5h5.01M865.1 1497.7h5.01M869.9 1497.7h5.01M893.7 1497.7h5.01M898.4 1497.7h5.01M988.9 1497.7h5.01M1003.2 1497.7h5.01M1012.7 1497.7h5.01M1027.0 1497.7h5.01M1041.2 1497.7h5.01M1046.0 1497.7h5.01M1055.5 1497.7h5.01M1084.1 1497.7h5.01M1088.8 1497.7h5.01M1107.9 1497.7h5.01M1141.2 1497.7h5.01M1188.8 1497.7h5.01M869.9 1511.0h5.01M903.2 1511.0h5.01M927.0 1511.0h5.01M955.6 1511.0h5.01M1069.8 1511.0h5.01M1093.6 1511.0h5.01M1098.4 1511.0h5.01M1117.4 1511.0h5.01M1141.2 1511.0h5.01M1184.0 1511.0h5.01M1203.1 1511.0h5.01M865.1 1524.2h5.01M869.9 1524.2h5.01M893.7 1524.2h5.01M931.8 1524.2h5.01M955.6 1524.2h5.01M1022.2 1524.2h5.01M1031.7 1524.2h5.01M1050.8 1524.2h5.01M1065.0 1524.2h5.01M1131.7 1524.2h5.01M1141.2 1524.2h5.01M1146.0 1524.2h5.01M1155.5 1524.2h5.01M1165.0 1524.2h5.01M1193.6 1524.2h5.01M884.2 1537.5h5.01M927.0 1537.5h5.01M1017.4 1537.5h5.01M1031.7 1537.5h5.01M1107.9 1537.5h5.01M1112.6 1537.5h5.01M1165.0 1537.5h5.01M1174.5 1537.5h5.01M960.3 1550.7h5.01M988.9 1550.7h5.01M1107.9 1550.7h5.01M1117.4 1550.7h5.01M1184.0 1550.7h5.01M855.6 1563.9h5.01M860.4 1563.9h5.01M865.1 1563.9h5.01M917.5 1563.9h5.01M941.3 1563.9h5.01M955.6 1563.9h5.01M1012.7 1563.9h5.01M1031.7 1563.9h5.01M1069.8 1563.9h5.01M1074.6 1563.9h5.01M1079.3 1563.9h5.01M1112.6 1563.9h5.01M1117.4 1563.9h5.01M1122.2 1563.9h5.01M1184.0 1563.9h5.01M931.8 1577.2h5.01M1012.7 1577.2h5.01M1074.6 1577.2h5.01M1079.3 1577.2h5.01M1088.8 1577.2h5.01M1122.2 1577.2h5.01M1126.9 1577.2h5.01M1131.7 1577.2h5.01M1150.7 1577.2h5.01M1160.2 1577.2h5.01"/>
<path stroke="#404588" d="M879.4 1060.8h5.01M908.0 1060.8h5.01M922.2 1060.8h5.01M927.0 1060.8h5.01M993.6 1060.8h5.01M1007.9 1060.8h5.01M1012.7 1060.8h5.01M1046.0 1060.8h5.01M1050.8 1060.8h5.01M1098.4 1060.8h5.01M1103.1 1060.8h5.01M1117.4 1060.8h5.01M1141.2 1060.8h5.01M1165.0 1060.8h5.01M1188.8 1060.8h5.01M865.1 1074.1h5.01M893.7 1074.1h5.01M955.6 1074.1h5.01M974.6 1074.1h5.01M979.4 1074.1h5.01M1065.0 1074.1h5.01M1093.6 1074.1h5.01M1122.2 1074.1h5.01M898.4 1087.3h5.01M903.2 1087.3h5.01M908.0 1087.3h5.01M912.7 1087.3h5.01M998.4 1087.3h5.01M1007.9 1087.3h5.01M1084.1 1087.3h5.01M1098.4 1087.3h5.01M1107.9 1087.3h5.01M1112.6 1087.3h5.01M1146.0 1087.3h5.01M1169.8 1087.3h5.01M1179.3 1087.3h5.01M888.9 1100.5h5.01M965.1 1100.5h5.01M979.4 1100.5h5.01M1027.0 1100.5h5.01M1088.8 1100.5h5.01M1184.0 1100.5h5.01M903.2 1113.8h5.01M946.0 1113.8h5.01M988.9 1113.8h5.01M993.6 1113.8h5.01M1093.6 1113.8h5.01M1126.9 1113.8h5.01M1141.2 1113.8h5.01M1150.7 1113.8h5.01M1179.3 1113.8h5.01M898.4 1127.0h5.01M917.5 1127.0h5.01M922.2 1127.0h5.01M960.3 1127.0h5.01M965.1 1127.0h5.01M979.4 1127.0h5.01M1003.2 1127.0h5.01M1031.7 1127.0h5.01M1184.0 1127.0h5.01M908.0 1140.3h5.01M988.9 1140.3h5.01M998.4 1140.3h5.01M1031.7 1140.3h5.01M1079.3 1140.3h5.01M1107.9 1140.3h5.01M1126.9 1140.3h5.01M1131.7 1140.3h5.01M1150.7 1140.3h5.01M869.9 1153.5h5.01M912.7 1153.5h5.01M955.6 1153.5h5.01M969.8 1153.5h5.01M979.4 1153.5h5.01M1003.2 1153.5h5.01M1007.9 1153.5h5.01M1065.0 1153.5h5.01M1131.7 1153.5h5.01M898.4 1166.7h5.01M908.0 1166.7h5.01M927.0 1166.7h5.01M988.9 1166.7h5.01M1031.7 1166.7h5.01M1069.8 1166.7h5.01M1136.4 1166.7h5.01M1165.0 1166.7h5.01M1174.5 1166.7h5.01M946.0 1180.0h5.01M960.3 1180.0h5.01M1060.3 1180.0h5.01M1079.3 1180.0h5.01M1084.1 1180.0h5.01M1098.4 1180.0h5.01M1188.8 1180.0h5.01M855.6 1193.2h5.01M927.0 1193.2h5.01M931.8 1193.2h5.01M941.3 1193.2h5.01M1031.7 1193.2h5.01M1050.8 1193.2h5.01M1098.4 1193.2h5.01M1141.2 1193.2h5.01M1146.0 1193.2h5.01M1169.8 1193.2h5.01M884.2 1206.5h5.01M893.7 1206.5h5.01M898.4 1206.5h5.01M912.7 1206.5h5.01M931.8 1206.5h5.01M946.0 1206.5h5.01M1003.2 1206.5h5.01M1041.2 1206.5h5.01M1046.0 1206.5h5.01M1055.5 1206.5h5.01M1069.8 1206.5h5.01M1088.8 1206.5h5.01M1093.6 1206.5h5.01M1098.4 1206.5h5.01M1141.2 1206.5h5.01M888.9 1219.7h5.01M898.4 1219.7h5.01M960.3 1219.7h5.01M1079.3 1219.7h5.01M1088.8 1219.7h5.01M1112.6 1219.7h5.01M1122.2 1219.7h5.01M1126.9 1219.7h5.01M869.9 1232.9h5.01M898.4 1232.9h5.01M988.9 1232.9h5.01M993.6 1232.9h5.01M1003.2 1232.9h5.01M1027.0 1232.9h5.01M1065.0 1232.9h5.01M1069.8 1232.9h5.01M1103.1 1232.9h5.01M1107.9 1232.9h5.01M1155.5 1232.9h5.01M1193.6 1232.9h5.01M879.4 1246.2h5.01M927.0 1246.2h5.01M931.8 1246.2h5.01M936.5 1246.2h5.01M979.4 1246.2h5.01M998.4 1246.2h5.01M1069.8 1246.2h5.01M1103.1 1246.2h5.01M1165.0 1246.2h5.01M1169.8 1246.2h5.01M855.6 1259.4h5.01M879.4 1259.4h5.01M931.8 1259.4h5.01M1003.2 1259.4h5.01M1079.3 1259.4h5.01M1103.1 1259.4h5.01M1107.9 1259.4h5.01M1150.7 1259.4h5.01M936.5 1272.7h5.01M950.8 1272.7h5.01M960.3 1272.7h5.01M998.4 1272.7h5.01M1036.5 1272.7h5.01M1041.2 1272.7h5.01M1055.5 1272.7h5.01M1084.1 1272.7h5.01M1088.8 1272.7h5.01M1141.2 1272.7h5.01M855.6 1285.9h5.01M908.0 1285.9h5.01M936.5 1285.9h5.01M941.3 1285.9h5.01M950.8 1285.9h5.01M979.4 1285.9h5.01M1017.4 1285.9h5.01M1036.5 1285.9h5.01M1084.1 1285.9h5.01M993.6 1299.1h5.01M1050.8 1299.1h5.01M1060.3 1299.1h5.01M1084.1 1299.1h5.01M1131.7 1299.1h5.01M1198.3 1299.1h5.01M903.2 1312.4h5.01M931.8 1312.4h5.01M941.3 1312.4h5.01M946.0 1312.4h5.01M965.1 1312.4h5.01M969.8 1312.4h5.01M974.6 1312.4h5.01M979.4 1312.4h5.01M988.9 1312.4h5.01M993.6 1312.4h5.01M1079.3 1312.4h5.01M1098.4 1312.4h5.01M1122.2 1312.4h5.01M1126.9 1312.4h5.01M1131.7 1312.4h5.01M1179.3 1312.4h5.01M865.1 1325.6h5.01M869.9 1325.6h5.01M879.4 1325.6h5.01M893.7 1325.6h5.01M946.0 1325.6h5.01M979.4 1325.6h5.01M1084.1 1325.6h5.01M1141.2 1325.6h5.01M874.6 1338.9h5.01M1031.7 1338.9h5.01M1055.5 1338.9h5.01M1065.0 1338.9h5.01M1069.8 1338.9h5.01M1074.6 1338.9h5.01M1136.4 1338.9h5.01M1165.0 1338.9h5.01M927.0 1352.1h5.01M1098.4 1352.1h5.01M1122.2 1352.1h5.01M1141.2 1352.1h5.01M860.4 1365.3h5.01M884.2 1365.3h5.01M888.9 1365.3h5.01M898.4 1365.3h5.01M917.5 1365.3h5.01M922.2 1365.3h5.01M960.3 1365.3h5.01M974.6 1365.3h5.01M1007.9 1365.3h5.01M1093.6 1365.3h5.01M1126.9 1365.3h5.01M1174.5 1365.3h5.01M1184.0 1365.3h5.01M1193.6 1365.3h5.01M893.7 1378.6h5.01M927.0 1378.6h5.01M969.8 1378.6h5.01M974.6 1378.6h5.01M993.6 1378.6h5.01M1103.1 1378.6h5.01M1126.9 1378.6h5.01M1141.2 1378.6h5.01M1160.2 1378.6h5.01M1169.8 1378.6h5.01M1198.3 1378.6h5.01M903.2 1391.8h5.01M936.5 1391.8h5.01M960.3 1391.8h5.01M969.8 1391.8h5.01M984.1 1391.8h5.01M1012.7 1391.8h5.01M1027.0 1391.8h5.01M1046.0 1391.8h5.01M1088.8 1391.8h5.01M1103.1 1391.8h5.01M1150.7 1391.8h5.01M1193.6 1391.8h5.01M1198.3 1391.8h5.01M865.1 1405.1h5.01M912.7 1405.1h5.01M917.5 1405.1h5.01M922.2 1405.1h5.01M931.8 1405.1h5.01M984.1 1405.1h5.01M988.9 1405.1h5.01M1027.0 1405.1h5.01M1088.8 1405.1h5.01M1098.4 1405.1h5.01M1107.9 1405.1h5.01M1150.7 1405.1h5.01M1160.2 1405.1h5.01M1169.8 1405.1h5.01M874.6 1418.3h5.01M1046.0 1418.3h5.01M1069.8 1418.3h5.01M1198.3 1418.3h5.01M865.1 1431.5h5.01M931.8 1431.5h5.01M936.5 1431.5h5.01M941.3 1431.5h5.01M950.8 1431.5h5.01M960.3 1431.5h5.01M979.4 1431.5h5.01M988.9 1431.5h5.01M1093.6 1431.5h5.01M1107.9 1431.5h5.01M1112.6 1431.5h5.01M1193.6 1431.5h5.01M1198.3 1431.5h5.01M888.9 1444.8h5.01M898.4 1444.8h5.01M908.0 1444.8h5.01M974.6 1444.8h5.01M1036.5 1444.8h5.01M1055.5 1444.8h5.01M1093.6 1444.8h5.01M1112.6 1444.8h5.01M1117.4 1444.8h5.01M1150.7 1444.8h5.01M865.1 1458.0h5.01M936.5 1458.0h5.01M941.3 1458.0h5.01M1131.7 1458.0h5.01M884.2 1471.3h5.01M974.6 1471.3h5.01M979.4 1471.3h5.01M998.4 1471.3h5.01M1088.8 1471.3h5.01M1160.2 1471.3h5.01M1198.3 1471.3h5.01M855.6 1484.5h5.01M1003.2 1484.5h5.01M1017.4 1484.5h5.01M1131.7 1484.5h5.01M1036.5 1497.7h5.01M855.6 1511.0h5.01M860.4 1511.0h5.01M893.7 1511.0h5.01M898.4 1511.0h5.01M922.2 1511.0h5.01M931.8 1511.0h5.01M936.5 1511.0h5.01M946.0 1511.0h5.01M965.1 1511.0h5.01M1055.5 1511.0h5.01M1084.1 1511.0h5.01M1122.2 1511.0h5.01M903.2 1524.2h5.01M917.5 1524.2h5.01M936.5 1524.2h5.01M946.0 1524.2h5.01M974.6 1524.2h5.01M1017.4 1524.2h5.01M1041.2 1524.2h5.01M1069.8 1524.2h5.01M1093.6 1524.2h5.01M1126.9 1524.2h5.01M855.6 1537.5h5.01M865.1 1537.5h5.01M879.4 1537.5h5.01M941.3 1537.5h5.01M1046.0 1537.5h5.01M1050.8 1537.5h5.01M1074.6 1537.5h5.01M1093.6 1537.5h5.01M855.6 1550.7h5.01M1084.1 1550.7h5.01M1112.6 1550.7h5.01M1160.2 1550.7h5.01M1165.0 1550.7h5.01M869.9 1563.9h5.01M903.2 1563.9h5.01M922.2 1563.9h5.01M1003.2 1563.9h5.01M1022.2 1563.9h5.01M1041.2 1563.9h5.01M1107.9 1563.9h5.01M1141.2 1563.9h5.01M1174.5 1563.9h5.01M1179.3 1563.9h5.01M974.6 1577.2h5.01M993.6 1577.2h5.01M1003.2 1577.2h5.01M1007.9 1577.2h5.01M1093.6 1577.2h5.01M1155.5 1577.2h5.01"/>
<path stroke="#3d4d8a" d="M860.4 1060.8h5.01M1093.6 1060.8h5.01M1184.0 1060.8h5.01M1198.3 1060.8h5.01M860.4 1074.1h5.01M879.4 1074.1h5.01M912.7 1074.1h5.01M1084.1 1074.1h5.01M1088.8 1074.1h5.01M1098.4 1074.1h5.01M1131.7 1074.1h5.01M1150.7 1074.1h5.01M855.6 1087.3h5.01M950.8 1087.3h5.01M955.6 1087.3h5.01M1050.8 1087.3h5.01M1074.6 1087.3h5.01M1103.1 1087.3h5.01M1117.4 1087.3h5.01M1160.2 1087.3h5.01M874.6 1100.5h5.01M955.6 1100.5h5.01M969.8 1100.5h5.01M974.6 1100.5h5.01M1007.9 1100.5h5.01M1050.8 1100.5h5.01M1112.6 1100.5h5.01M908.0 1113.8h5.01M960.3 1113.8h5.01M1003.2 1113.8h5.01M1041.2 1113.8h5.01M1074.6 1113.8h5.01M1088.8 1113.8h5.01M1112.6 1113.8h5.01M874.6 1127.0h5.01M950.8 1127.0h5.01M1050.8 1127.0h5.01M1193.6 1127.0h5.01M931.8 1140.3h5.01M941.3 1140.3h5.01M1055.5 1140.3h5.01M1122.2 1140.3h5.01M1136.4 1140.3h5.01M1169.8 1140.3h5.01M1188.8 1140.3h5.01M946.0 1153.5h5.01M950.8 1153.5h5.01M1069.8 1153.5h5.01M1079.3 1153.5h5.01M1112.6 1153.5h5.01M1126.9 1153.5h5.01M1174.5 1153.5h5.01M860.4 1166.7h5.01M912.7 1166.7h5.01M941.3 1166.7h5.01M1007.9 1166.7h5.01M1065.0 1166.7h5.01M1088.8 1166.7h5.01M1098.4 1166.7h5.01M1103.1 1166.7h5.01M1122.2 1166.7h5.01M1150.7 1166.7h5.01M874.6 1180.0h5.01M893.7 1180.0h5.01M922.2 1180.0h5.01M1107.9 1180.0h5.01M888.9 1193.2h5.01M903.2 1193.2h5.01M1022.2 1193.2h5.01M888.9 1206.5h5.01M965.1 1206.5h5.01M984.1 1206.5h5.01M1027.0 1206.5h5.01M1103.1 1206.5h5.01M855.6 1219.7h5.01M912.7 1219.7h5.01M1022.2 1219.7h5.01M1031.7 1219.7h5.01M1093.6 1219.7h5.01M1107.9 1219.7h5.01M1193.6 1219.7h5.01M1198.3 1219.7h5.01M893.7 1232.9h5.01M960.3 1232.9h5.01M1060.3 1232.9h5.01M1074.6 1232.9h5.01M1093.6 1232.9h5.01M912.7 1246.2h5.01M941.3 1246.2h5.01M946.0 1246.2h5.01M984.1 1246.2h5.01M1003.2 1246.2h5.01M1065.0 1246.2h5.01M1184.0 1246.2h5.01M860.4 1259.4h5.01M917.5 1259.4h5.01M1088.8 1259.4h5.01M1112.6 1259.4h5.01M1107.9 1272.7h5.01M984.1 1285.9h5.01M1031.7 1285.9h5.01M1046.0 1285.9h5.01M1107.9 1285.9h5.01M1179.3 1285.9h5.01M1188.8 1285.9h5.01M855.6 1299.1h5.01M941.3 1299.1h5.01M965.1 1299.1h5.01M1065.0 1299.1h5.01M1122.2 1299.1h5.01M865.1 1312.4h5.01M888.9 1312.4h5.01M922.2 1312.4h5.01M1017.4 1312.4h5.01M1036.5 1312.4h5.01M1046.0 1312.4h5.01M1060.3 1312.4h5.01M1136.4 1312.4h5.01M1184.0 1312.4h5.01M931.8 1325.6h5.01M941.3 1325.6h5.01M969.8 1325.6h5.01M974.6 1325.6h5.01M993.6 1325.6h5.01M908.0 1338.9h5.01M988.9 1338.9h5.01M1017.4 1338.9h5.01M1041.2 1338.9h5.01M1050.8 1338.9h5.01M1060.3 1338.9h5.01M1117.4 1338.9h5.01M855.6 1352.1h5.01M1065.0 1352.1h5.01M1084.1 1352.1h5.01M912.7 1365.3h5.01M927.0 1365.3h5.01M936.5 1365.3h5.01M1041.2 1365.3h5.01M1074.6 1365.3h5.01M1136.4 1365.3h5.01M1165.0 1365.3h5.01M855.6 1378.6h5.01M931.8 1378.6h5.01M960.3 1378.6h5.01M984.1 1378.6h5.01M988.9 1378.6h5.01M1146.0 1378.6h5.01M1165.0 1378.6h5.01M1179.3 1378.6h5.01M893.7 1391.8h5.01M912.7 1391.8h5.01M917.5 1391.8h5.01M941.3 1391.8h5.01M974.6 1391.8h5.01M1155.5 1391.8h5.01M1184.0 1391.8h5.01M860.4 1405.1h5.01M869.9 1405.1h5.01M879.4 1405.1h5.01M908.0 1405.1h5.01M1007.9 1405.1h5.01M1012.7 1405.1h5.01M1074.6 1405.1h5.01M1112.6 1405.1h5.01M1174.5 1405.1h5.01M1179.3 1405.1h5.01M931.8 1418.3h5.01M1146.0 1418.3h5.01M955.6 1431.5h5.01M1022.2 1444.8h5.01M1184.0 1444.8h5.01M1012.7 1458.0h5.01M1174.5 1458.0h5.01M903.2 1471.3h5.01M908.0 1471.3h5.01M912.7 1471.3h5.01M1093.6 1471.3h5.01M1050.8 1484.5h5.01M1198.3 1484.5h5.01M946.0 1497.7h5.01M969.8 1497.7h5.01M1117.4 1497.7h5.01M969.8 1511.0h5.01M1112.6 1511.0h5.01M1126.9 1511.0h5.01M884.2 1524.2h5.01M941.3 1524.2h5.01M1003.2 1524.2h5.01M1046.0 1524.2h5.01M1160.2 1524.2h5.01M1198.3 1524.2h5.01M998.4 1537.5h5.01M1069.8 1537.5h5.01M1098.4 1537.5h5.01M1146.0 1537.5h5.01M1160.2 1537.5h5.01M898.4 1550.7h5.01M1150.7 1550.7h5.01M979.4 1563.9h5.01M1007.9 1563.9h5.01M1055.5 1563.9h5.01M1098.4 1563.9h5.01M884.2 1577.2h5.01M998.4 1577.2h5.01M1165.0 1577.2h5.01"/>
<path stroke="#3a538b" d="M898.4 1060.8h5.01M1088.8 1060.8h5.01M888.9 1074.1h5.01M922.2 1074.1h5.01M936.5 1074.1h5.01M1003.2 1074.1h5.01M1012.7 1074.1h5.01M1136.4 1074.1h5.01M1146.0 1074.1h5.01M879.4 1087.3h5.01M888.9 1087.3h5.01M879.4 1100.5h5.01M950.8 1100.5h5.01M1141.2 1100.5h5.01M917.5 1113.8h5.01M1027.0 1113.8h5.01M865.1 1127.0h5.01M955.6 1127.0h5.01M1027.0 1127.0h5.01M1103.1 1127.0h5.01M1107.9 1127.0h5.01M1117.4 1127.0h5.01M1141.2 1127.0h5.01M1188.8 1127.0h5.01M869.9 1140.3h5.01M927.0 1140.3h5.01M955.6 1140.3h5.01M960.3 1140.3h5.01M1074.6 1140.3h5.01M1179.3 1153.5h5.01M879.4 1166.7h5.01M903.2 1166.7h5.01M969.8 1166.7h5.01M1050.8 1166.7h5.01M888.9 1180.0h5.01M979.4 1180.0h5.01M1046.0 1180.0h5.01M1055.5 1180.0h5.01M1093.6 1180.0h5.01M1027.0 1193.2h5.01M903.2 1206.5h5.01M936.5 1206.5h5.01M1146.0 1206.5h5.01M1188.8 1206.5h5.01M860.4 1219.7h5.01M998.4 1219.7h5.01M1003.2 1219.7h5.01M1050.8 1219.7h5.01M1055.5 1219.7h5.01M1060.3 1219.7h5.01M1117.4 1219.7h5.01M1131.7 1219.7h5.01M1098.4 1232.9h5.01M950.8 1246.2h5.01M1060.3 1246.2h5.01M884.2 1259.4h5.01M888.9 1259.4h5.01M903.2 1259.4h5.01M1117.4 1259.4h5.01M1022.2 1272.7h5.01M1136.4 1272.7h5.01M912.7 1285.9h5.01M955.6 1285.9h5.01M1041.2 1285.9h5.01M1126.9 1285.9h5.01M1174.5 1285.9h5.01M1184.0 1285.9h5.01M888.9 1299.1h5.01M898.4 1299.1h5.01M922.2 1299.1h5.01M927.0 1299.1h5.01M974.6 1299.1h5.01M1155.5 1299.1h5.01M1188.8 1299.1h5.01M1193.6 1299.1h5.01M869.9 1312.4h5.01M884.2 1312.4h5.01M1022.2 1312.4h5.01M1041.2 1312.4h5.01M1141.2 1312.4h5.01M1146.0 1312.4h5.01M884.2 1325.6h5.01M960.3 1325.6h5.01M869.9 1338.9h5.01M917.5 1338.9h5.01M969.8 1338.9h5.01M1022.2 1338.9h5.01M1036.5 1338.9h5.01M1046.0 1338.9h5.01M1088.8 1338.9h5.01M874.6 1352.1h5.01M955.6 1352.1h5.01M1017.4 1352.1h5.01M1131.7 1352.1h5.01M979.4 1365.3h5.01M1027.0 1365.3h5.01M1084.1 1365.3h5.01M1107.9 1365.3h5.01M979.4 1378.6h5.01M1174.5 1378.6h5.01M1036.5 1391.8h5.01M1041.2 1391.8h5.01M1165.0 1391.8h5.01M1169.8 1391.8h5.01M1050.8 1405.1h5.01M1131.7 1405.1h5.01M1155.5 1405.1h5.01M1165.0 1405.1h5.01M1050.8 1418.3h5.01M946.0 1431.5h5.01M984.1 1431.5h5.01M874.6 1444.8h5.01M869.9 1458.0h5.01M955.6 1458.0h5.01M1103.1 1458.0h5.01M993.6 1471.3h5.01M1027.0 1471.3h5.01M941.3 1484.5h5.01M1193.6 1484.5h5.01M884.2 1497.7h5.01M941.3 1497.7h5.01M1007.9 1497.7h5.01M1079.3 1497.7h5.01M1150.7 1497.7h5.01M988.9 1511.0h5.01M1050.8 1511.0h5.01M1088.8 1511.0h5.01M860.4 1524.2h5.01M898.4 1524.2h5.01M1027.0 1524.2h5.01M1074.6 1524.2h5.01M1112.6 1524.2h5.01M903.2 1550.7h5.01M1027.0 1563.9h5.01M1036.5 1563.9h5.01M1050.8 1563.9h5.01M1060.3 1563.9h5.01M1065.0 1563.9h5.01M1160.2 1563.9h5.01M1165.0 1563.9h5.01M1169.8 1577.2h5.01"/>
<path stroke="#375b8d" d="M855.6 1060.8h5.01M941.3 1074.1h5.01M998.4 1074.1h5.01M1141.2 1074.1h5.01M1165.0 1087.3h5.01M993.6 1100.5h5.01M860.4 1113.8h5.01M998.4 1113.8h5.01M1022.2 1113.8h5.01M865.1 1140.3h5.01M888.9 1166.7h5.01M922.2 1166.7h5.01M979.4 1166.7h5.01M1055.5 1166.7h5.01M1146.0 1166.7h5.01M965.1 1180.0h5.01M1126.9 1180.0h5.01M1179.3 1180.0h5.01M1093.6 1193.2h5.01M1188.8 1193.2h5.01M917.5 1206.5h5.01M922.2 1206.5h5.01M941.3 1206.5h5.01M1074.6 1206.5h5.01M1184.0 1206.5h5.01M1046.0 1219.7h5.01M1098.4 1219.7h5.01M1103.1 1219.7h5.01M965.1 1232.9h5.01M1079.3 1232.9h5.01M1122.2 1232.9h5.01M1126.9 1232.9h5.01M955.6 1246.2h5.01M1141.2 1246.2h5.01M898.4 1259.4h5.01M1098.4 1259.4h5.01M874.6 1272.7h5.01M965.1 1272.7h5.01M1131.7 1272.7h5.01M893.7 1285.9h5.01M912.7 1299.1h5.01M984.1 1299.1h5.01M988.9 1299.1h5.01M879.4 1312.4h5.01M908.0 1312.4h5.01M984.1 1312.4h5.01M1012.7 1312.4h5.01M1088.8 1312.4h5.01M1103.1 1312.4h5.01M936.5 1338.9h5.01M1103.1 1352.1h5.01M1126.9 1352.1h5.01M1065.0 1365.3h5.01M1079.3 1365.3h5.01M1160.2 1365.3h5.01M946.0 1378.6h5.01M955.6 1378.6h5.01M1107.9 1378.6h5.01M1031.7 1391.8h5.01M1093.6 1391.8h5.01M1188.8 1391.8h5.01M874.6 1405.1h5.01M950.8 1405.1h5.01M974.6 1405.1h5.01M1079.3 1405.1h5.01M1084.1 1405.1h5.01M1074.6 1431.5h5.01M1141.2 1431.5h5.01M879.4 1444.8h5.01M903.2 1444.8h5.01M874.6 1458.0h5.01M927.0 1458.0h5.01M1079.3 1458.0h5.01M1136.4 1458.0h5.01M1174.5 1471.3h5.01M1146.0 1497.7h5.01M927.0 1524.2h5.01M893.7 1537.5h5.01M898.4 1563.9h5.01"/>
<path stroke="#34618d" d="M917.5 1074.1h5.01M1046.0 1074.1h5.01M1050.8 1074.1h5.01M874.6 1087.3h5.01M884.2 1087.3h5.01M922.2 1113.8h5.01M1117.4 1113.8h5.01M1122.2 1113.8h5.01M903.2 1140.3h5.01M874.6 1166.7h5.01M917.5 1166.7h5.01M908.0 1206.5h5.01M1150.7 1206.5h5.01M865.1 1219.7h5.01M1184.0 1219.7h5.01M1003.2 1272.7h5.01M979.4 1299.1h5.01M1093.6 1312.4h5.01M1103.1 1325.6h5.01M1188.8 1338.9h5.01M1060.3 1365.3h5.01M1155.5 1365.3h5.01M1179.3 1365.3h5.01M898.4 1405.1h5.01M960.3 1405.1h5.01M1146.0 1484.5h5.01M1165.0 1484.5h5.01M993.6 1511.0h5.01M922.2 1524.2h5.01M1107.9 1524.2h5.01M1136.4 1524.2h5.01M1184.0 1524.2h5.01M1179.3 1537.5h5.01M1198.3 1537.5h5.01M1126.9 1550.7h5.01M1146.0 1550.7h5.01M1155.5 1563.9h5.01"/>
<path stroke="#31688e" d="M865.1 1113.8h5.01M965.1 1113.8h5.01M1093.6 1166.7h5.01M1088.8 1193.2h5.01M1165.0 1206.5h5.01M1022.2 1232.9h5.01M1022.2 1246.2h5.01M893.7 1259.4h5.01M874.6 1312.4h5.01M984.1 1365.3h5.01M898.4 1391.8h5.01M1098.4 1391.8h5.01M903.2 1405.1h5.01M931.8 1458.0h5.01M1098.4 1458.0h5.01M898.4 1537.5h5.01"/>
<path stroke="#2e6e8e" d="M979.4 1206.5h5.01M955.6 1405.1h5.01M1136.4 1418.3h5.01"/>
<path stroke="#2b748e" d="M1007.9 1113.8h5.01M984.1 1140.3h5.01M969.8 1272.7h5.01M1126.9 1272.7h5.01M998.4 1365.3h5.01M950.8 1391.8h5.01M979.4 1405.1h5.01"/>
<path stroke="#297b8e" d="M1112.6 1272.7h5.01"/>
<path stroke="#26818e" d="M993.6 1087.3h5.01M988.9 1100.5h5.01M984.1 1113.8h5.01M984.1 1127.0h5.01M1193.6 1140.3h5.01M1184.0 1153.5h5.01M1193.6 1153.5h5.01M984.1 1166.7h5.01M1007.9 1232.9h5.01M1126.9 1246.2h5.01M998.4 1312.4h5.01M931.8 1391.8h5.01M1188.8 1550.7h5.01"/>
<path stroke="#24878e" d="M1027.0 1074.1h5.01M1198.3 1140.3h5.01M1007.9 1246.2h5.01M1017.4 1272.7h5.01M1117.4 1312.4h5.01M1117.4 1352.1h5.01"/>
<path stroke="#228d8d" d="M1003.2 1299.1h5.01M960.3 1312.4h5.01M1131.7 1444.8h5.01M1155.5 1471.3h5.01M1179.3 1511.0h5.01"/>
<path stroke="#20938c" d="M1188.8 1153.5h5.01M965.1 1325.6h5.01M960.3 1352.1h5.01M1122.2 1365.3h5.01M1203.1 1550.7h5.01"/>
<path stroke="#1f998a" d="M1012.7 1100.5h5.01M1122.2 1378.6h5.01M1141.2 1471.3h5.01M1155.5 1497.7h5.01"/>
<path stroke="#1fa088" d="M993.6 1074.1h5.01M1022.2 1166.7h5.01M1169.8 1180.0h5.01M1174.5 1180.0h5.01M1022.2 1206.5h5.01M1112.6 1285.9h5.01M1122.2 1418.3h5.01M1146.0 1444.8h5.01M1169.8 1497.7h5.01M1165.0 1511.0h5.01"/>
<path stroke="#21a585" d="M1107.9 1299.1h5.01M1003.2 1338.9h5.01"/>
<path stroke="#25ac82" d="M1007.9 1193.2h5.01M1007.9 1219.7h5.01M1003.2 1285.9h5.01M1007.9 1325.6h5.01M1117.4 1325.6h5.01M1103.1 1338.9h5.01M988.9 1352.1h5.01"/>
<path stroke="#2db27d" d="M1022.2 1153.5h5.01M1007.9 1259.4h5.01M998.4 1352.1h5.01"/>
<path stroke="#35b779" d="M1017.4 1087.3h5.01M1012.7 1127.0h5.01M1012.7 1140.3h5.01"/>
<path stroke="#40bd72" d="M1022.2 1100.5h5.01M984.1 1153.5h5.01M1188.8 1166.7h5.01M1117.4 1405.1h5.01M1169.8 1524.2h5.01"/>
<path stroke="#4cc26c" d="M1017.4 1100.5h5.01M1179.3 1166.7h5.01M993.6 1352.1h5.01M1126.9 1431.5h5.01M1160.2 1497.7h5.01M1165.0 1497.7h5.01"/>
<path stroke="#5ac864" d="M1017.4 1060.8h5.01M1012.7 1180.0h5.01M1155.5 1193.2h5.01M1131.7 1232.9h5.01M1136.4 1444.8h5.01M1141.2 1444.8h5.01M1150.7 1458.0h5.01M1169.8 1511.0h5.01M1174.5 1511.0h5.01M1193.6 1550.7h5.01M1198.3 1550.7h5.01"/>
<path stroke="#67cc5c" d="M1155.5 1206.5h5.01M1160.2 1206.5h5.01M1141.2 1219.7h5.01M1017.4 1259.4h5.01M1007.9 1299.1h5.01M1012.7 1299.1h5.01M1107.9 1325.6h5.01M1112.6 1325.6h5.01M1122.2 1391.8h5.01M1198.3 1563.9h5.01M1203.1 1563.9h5.01"/>
<path stroke="#77d153" d="M1022.2 1180.0h5.01M1165.0 1193.2h5.01M1122.2 1259.4h5.01M1112.6 1391.8h5.01M1184.0 1537.5h5.01"/>
<path stroke="#89d548" d="M1027.0 1087.3h5.01M1012.7 1113.8h5.01M1017.4 1113.8h5.01M1022.2 1127.0h5.01M1022.2 1140.3h5.01M1012.7 1259.4h5.01M1131.7 1259.4h5.01M1122.2 1405.1h5.01M1126.9 1405.1h5.01M1150.7 1484.5h5.01M1160.2 1484.5h5.01M1188.8 1537.5h5.01M1193.6 1537.5h5.01"/>
<path stroke="#98d83e" d="M1141.2 1232.9h5.01M1126.9 1418.3h5.01M1131.7 1418.3h5.01M1155.5 1484.5h5.01"/>
<path stroke="#aadc32" d="M1017.4 1074.1h5.01M1022.2 1074.1h5.01M1022.2 1087.3h5.01M1017.4 1127.0h5.01M1017.4 1140.3h5.01M1012.7 1166.7h5.01M1017.4 1166.7h5.01M1017.4 1180.0h5.01M1160.2 1193.2h5.01M1012.7 1206.5h5.01M1017.4 1206.5h5.01M1131.7 1246.2h5.01M1136.4 1246.2h5.01M1003.2 1312.4h5.01M1007.9 1312.4h5.01M1107.9 1312.4h5.01M1112.6 1312.4h5.01M1107.9 1352.1h5.01M1112.6 1352.1h5.01M1131.7 1431.5h5.01M1136.4 1431.5h5.01"/>
<path stroke="#cde11d" d="M1027.0 1060.8h5.01M1150.7 1219.7h5.01M988.9 1365.3h5.01M993.6 1365.3h5.01M1117.4 1391.8h5.01"/>
<path stroke="#dde318" d="M1184.0 1166.7h5.01M1012.7 1232.9h5.01M1017.4 1232.9h5.01M1136.4 1232.9h5.01M1126.9 1259.4h5.01M1007.9 1272.7h5.01M1012.7 1272.7h5.01M1112.6 1365.3h5.01M1117.4 1365.3h5.01M1141.2 1458.0h5.01M1146.0 1458.0h5.01M1146.0 1471.3h5.01M1150.7 1471.3h5.01M1174.5 1524.2h5.01M1179.3 1524.2h5.01"/>
<path stroke="#efe51c" d="M1012.7 1153.5h5.01M1017.4 1193.2h5.01M1012.7 1285.9h5.01M1117.4 1299.1h5.01M998.4 1325.6h5.01M993.6 1338.9h5.01"/>
<path stroke="#fde725" d="M1022.2 1060.8h5.01M1017.4 1153.5h5.01M1012.7 1193.2h5.01M1012.7 1219.7h5.01M1017.4 1219.7h5.01M1146.0 1219.7h5.01M1012.7 1246.2h5.01M1017.4 1246.2h5.01M1117.4 1272.7h5.01M1122.2 1272.7h5.01M1007.9 1285.9h5.01M1117.4 1285.9h5.01M1122.2 1285.9h5.01M1112.6 1299.1h5.01M1003.2 1325.6h5.01M998.4 1338.9h5.01M1107.9 1338.9h5.01M1112.6 1338.9h5.01M1112.6 1378.6h5.01M1117.4 1378.6h5.01"/>
</g>
<path d="M855.6 1583.7V1054.2H1203.5" stroke="#262626" stroke-width="1.3" fill="none"/>
<path d="M855.6 1583.7H1208.0" stroke="#262626" stroke-width="1.3" fill="none"/>
<rect x="255.6" y="1054.2" width="372.8" height="529.4" stroke="#262626" stroke-width="1.2" fill="none"/>
</svg>
</div>
</body></html>
